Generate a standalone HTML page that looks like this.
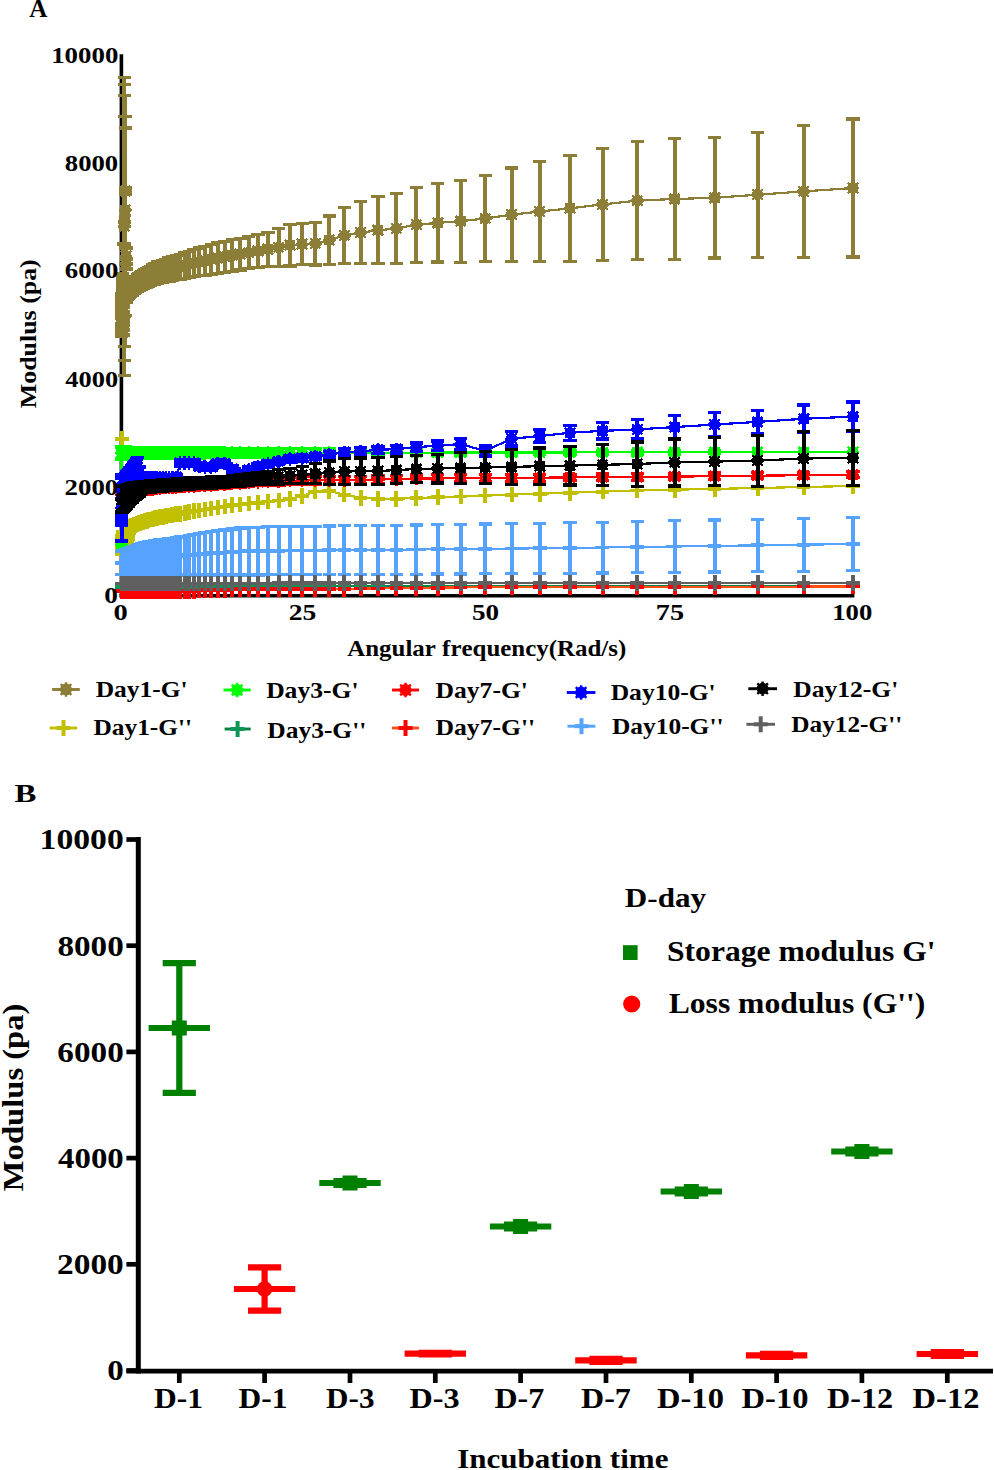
<!DOCTYPE html>
<html><head><meta charset="utf-8"><style>
html,body{margin:0;padding:0;background:#fff;width:994px;height:1470px;overflow:hidden}
svg{display:block}
text{font-family:"Liberation Serif",serif;font-weight:bold;fill:#000;font-kerning:none}
</style></head><body>
<svg width="994" height="1470" viewBox="0 0 994 1470" font-family="'Liberation Serif', serif" font-weight="bold">
<defs>
<g id="ast"><circle r="5.0" stroke-width="1.4"/><path d="M-5.1,-5.1L5.1,5.1M-5.1,5.1L5.1,-5.1M-6.4,0H6.4M0,-6.6V6.6" stroke-width="2.3" fill="none"/></g>
<g id="plus" fill="none"><path d="M-6.8,0H6.8" stroke-width="3.8"/><path d="M0,-7.8V7.8" stroke-width="4"/></g>
<g id="astL"><circle r="5.2" stroke-width="1.4"/><path d="M-5.3,-5.3L5.3,5.3M-5.3,5.3L5.3,-5.3M-6.5,0H6.5M0,-7.3V7.3" stroke-width="2.4" fill="none"/></g>
<g id="plusL" fill="none"><path d="M-7,0H7" stroke-width="4"/><path d="M0,-8V8" stroke-width="4"/></g>
</defs>
<rect width="994" height="1470" fill="#fff"/>
<text x="29.15" y="16.90" font-size="24.4" textLength="18.13" lengthAdjust="spacingAndGlyphs">A</text>
<path d="M121.4,54.2V597.2" stroke="#000" stroke-width="3.6"/>
<path d="M119.6,595.8H854.4" stroke="#000" stroke-width="3.6"/>
<clipPath id="clipA"><rect x="100" y="40" width="780" height="560"/></clipPath>
<g clip-path="url(#clipA)" shape-rendering="crispEdges">
<path d="M121.5,294.0V306.0M121.6,298.0V312.0M121.6,302.0V318.0M121.7,309.0V327.0M121.8,317.0V333.0M121.8,324.0V336.0M121.9,314.0V330.0M122.0,306.0V324.0M122.1,297.0V313.0M122.2,289.0V307.0M122.3,283.0V297.0M122.4,276.0V292.0M122.5,274.0V286.0M122.6,279.0V293.0M122.7,287.0V303.0M122.9,293.0V307.0M123.0,300.0V312.0M123.2,305.0V319.0M123.4,312.0V324.0M123.6,314.0V330.0M123.8,317.0V335.0M124.0,244.0V316.0M124.2,77.5V375.5M124.4,84.7V360.3M124.7,95.4V346.6M125.0,116.2V315.8M125.3,128.0V292.0M125.6,188.0V194.0M126.0,248.0V264.0M126.3,259.0V269.0M126.7,290.0V302.0M127.2,289.0V299.0M127.6,287.0V297.0M128.1,285.9V297.9M128.7,285.2V297.5M129.2,284.5V297.0M129.8,283.8V296.5M130.5,283.0V296.0M131.2,282.2V295.5M131.9,281.3V294.9M132.7,280.3V294.2M133.6,279.4V293.6M134.5,278.4V293.0M135.5,277.3V292.4M136.6,276.2V291.7M137.7,275.0V291.0M138.9,273.6V290.2M140.2,272.3V289.4M141.7,271.5V288.9M143.2,270.6V288.3M144.8,269.6V287.7M146.5,268.5V287.1M148.4,267.4V286.4M150.4,266.2V285.6M152.5,264.9V284.8M154.8,263.5V283.9M157.2,262.0V283.1M159.9,261.1V282.6M162.7,260.1V282.1M165.7,259.1V281.5M169.0,258.0V281.0M172.4,256.8V280.3M176.2,255.5V279.7M180.2,254.1V278.9M184.5,252.7V278.2M189.1,251.2V277.4M194.0,249.6V276.5M199.3,247.9V275.8M205.0,246.1V275.1M211.1,244.2V274.3M217.6,242.6V273.4M224.6,241.1V272.3M232.1,239.7V271.2M240.1,238.1V270.0M248.7,236.4V268.7M258.0,234.7V267.3M267.9,232.3V266.3M278.5,228.4V266.1M289.9,224.4V266.0M302.1,223.4V264.8M315.3,222.1V265.0M329.3,215.9V264.1M344.4,207.5V263.3M360.5,201.8V263.6M377.9,196.8V263.8M396.4,193.2V263.7M416.4,187.3V262.1M437.7,183.8V262.0M460.6,180.2V262.1M485.2,175.6V261.3M511.5,167.9V261.4M539.7,161.5V261.4M570.0,155.3V261.3M602.5,148.5V260.2M637.3,141.7V259.5M674.6,138.6V259.4M714.6,137.6V257.9M757.5,132.4V257.1M803.6,125.8V257.1M852.9,119.0V257.0" stroke="#8C7D37" stroke-width="4.0" fill="none"/>
<path d="M114.9,294.0H128.1M114.9,306.0H128.1M115.0,298.0H128.2M115.0,312.0H128.2M115.0,302.0H128.2M115.0,318.0H128.2M115.1,309.0H128.3M115.1,327.0H128.3M115.2,317.0H128.4M115.2,333.0H128.4M115.2,324.0H128.4M115.2,336.0H128.4M115.3,314.0H128.5M115.3,330.0H128.5M115.4,306.0H128.6M115.4,324.0H128.6M115.5,297.0H128.7M115.5,313.0H128.7M115.6,289.0H128.8M115.6,307.0H128.8M115.7,283.0H128.9M115.7,297.0H128.9M115.8,276.0H129.0M115.8,292.0H129.0M115.9,274.0H129.1M115.9,286.0H129.1M116.0,279.0H129.2M116.0,293.0H129.2M116.1,287.0H129.3M116.1,303.0H129.3M116.3,293.0H129.5M116.3,307.0H129.5M116.4,300.0H129.6M116.4,312.0H129.6M116.6,305.0H129.8M116.6,319.0H129.8M116.8,312.0H130.0M116.8,324.0H130.0M117.0,314.0H130.2M117.0,330.0H130.2M117.2,317.0H130.4M117.2,335.0H130.4M117.4,244.0H130.6M117.4,316.0H130.6M117.6,77.5H130.8M117.6,375.5H130.8M117.8,84.7H131.0M117.8,360.3H131.0M118.1,95.4H131.3M118.1,346.6H131.3M118.4,116.2H131.6M118.4,315.8H131.6M118.7,128.0H131.9M118.7,292.0H131.9M119.0,188.0H132.2M119.0,194.0H132.2M119.4,248.0H132.6M119.4,264.0H132.6M119.7,259.0H132.9M119.7,269.0H132.9M120.1,290.0H133.3M120.1,302.0H133.3M120.6,289.0H133.8M120.6,299.0H133.8M121.0,287.0H134.2M121.0,297.0H134.2M121.5,285.9H134.7M121.5,297.9H134.7M122.1,285.2H135.3M122.1,297.5H135.3M122.6,284.5H135.8M122.6,297.0H135.8M123.2,283.8H136.4M123.2,296.5H136.4M123.9,283.0H137.1M123.9,296.0H137.1M124.6,282.2H137.8M124.6,295.5H137.8M125.3,281.3H138.5M125.3,294.9H138.5M126.1,280.3H139.3M126.1,294.2H139.3M127.0,279.4H140.2M127.0,293.6H140.2M127.9,278.4H141.1M127.9,293.0H141.1M128.9,277.3H142.1M128.9,292.4H142.1M130.0,276.2H143.2M130.0,291.7H143.2M131.1,275.0H144.3M131.1,291.0H144.3M132.3,273.6H145.5M132.3,290.2H145.5M133.6,272.3H146.8M133.6,289.4H146.8M135.1,271.5H148.3M135.1,288.9H148.3M136.6,270.6H149.8M136.6,288.3H149.8M138.2,269.6H151.4M138.2,287.7H151.4M139.9,268.5H153.1M139.9,287.1H153.1M141.8,267.4H155.0M141.8,286.4H155.0M143.8,266.2H157.0M143.8,285.6H157.0M145.9,264.9H159.1M145.9,284.8H159.1M148.2,263.5H161.4M148.2,283.9H161.4M150.6,262.0H163.8M150.6,283.1H163.8M153.3,261.1H166.5M153.3,282.6H166.5M156.1,260.1H169.3M156.1,282.1H169.3M159.1,259.1H172.3M159.1,281.5H172.3M162.4,258.0H175.6M162.4,281.0H175.6M165.8,256.8H179.0M165.8,280.3H179.0M169.6,255.5H182.8M169.6,279.7H182.8M173.6,254.1H186.8M173.6,278.9H186.8M177.9,252.7H191.1M177.9,278.2H191.1M182.5,251.2H195.7M182.5,277.4H195.7M187.4,249.6H200.6M187.4,276.5H200.6M192.7,247.9H205.9M192.7,275.8H205.9M198.4,246.1H211.6M198.4,275.1H211.6M204.5,244.2H217.7M204.5,274.3H217.7M211.0,242.6H224.2M211.0,273.4H224.2M218.0,241.1H231.2M218.0,272.3H231.2M225.5,239.7H238.7M225.5,271.2H238.7M233.5,238.1H246.7M233.5,270.0H246.7M242.1,236.4H255.3M242.1,268.7H255.3M251.4,234.7H264.6M251.4,267.3H264.6M261.3,232.3H274.5M261.3,266.3H274.5M271.9,228.4H285.1M271.9,266.1H285.1M283.3,224.4H296.5M283.3,266.0H296.5M295.5,223.4H308.7M295.5,264.8H308.7M308.7,222.1H321.9M308.7,265.0H321.9M322.7,215.9H335.9M322.7,264.1H335.9M337.8,207.5H351.0M337.8,263.3H351.0M353.9,201.8H367.1M353.9,263.6H367.1M371.3,196.8H384.5M371.3,263.8H384.5M389.8,193.2H403.0M389.8,263.7H403.0M409.8,187.3H423.0M409.8,262.1H423.0M431.1,183.8H444.3M431.1,262.0H444.3M454.0,180.2H467.2M454.0,262.1H467.2M478.6,175.6H491.8M478.6,261.3H491.8M504.9,167.9H518.1M504.9,261.4H518.1M533.1,161.5H546.3M533.1,261.4H546.3M563.4,155.3H576.6M563.4,261.3H576.6M595.9,148.5H609.1M595.9,260.2H609.1M630.7,141.7H643.9M630.7,259.5H643.9M668.0,138.6H681.2M668.0,259.4H681.2M708.0,137.6H721.2M708.0,257.9H721.2M750.9,132.4H764.1M750.9,257.1H764.1M797.0,125.8H810.2M797.0,257.1H810.2M846.3,119.0H859.5M846.3,257.0H859.5" stroke="#8C7D37" stroke-width="3.2" fill="none"/>
<polyline points="121.5,300.0 121.6,305.0 121.6,310.0 121.7,318.0 121.8,325.0 121.8,330.0 121.9,322.0 122.0,315.0 122.1,305.0 122.2,298.0 122.3,290.0 122.4,284.0 122.5,280.0 122.6,286.0 122.7,295.0 122.9,300.0 123.0,306.0 123.2,312.0 123.4,318.0 123.6,322.0 123.8,326.0 124.0,280.0 124.2,226.5 124.4,222.5 124.7,221.0 125.0,216.0 125.3,210.0 125.6,191.0 126.0,256.0 126.3,264.0 126.7,296.0 127.2,294.0 127.6,292.0 128.1,291.9 128.7,291.3 129.2,290.8 129.8,290.2 130.5,289.5 131.2,288.8 131.9,288.1 132.7,287.3 133.6,286.5 134.5,285.7 135.5,284.8 136.6,283.9 137.7,283.0 138.9,281.9 140.2,280.9 141.7,280.2 143.2,279.4 144.8,278.6 146.5,277.8 148.4,276.9 150.4,275.9 152.5,274.8 154.8,273.7 157.2,272.5 159.9,271.8 162.7,271.1 165.7,270.3 169.0,269.5 172.4,268.5 176.2,267.6 180.2,266.5 184.5,265.4 189.1,264.3 194.0,263.0 199.3,261.9 205.0,260.6 211.1,259.3 217.6,258.0 224.6,256.7 232.1,255.4 240.1,254.1 248.7,252.6 258.0,251.0 267.9,249.3 278.5,247.3 289.9,245.2 302.1,244.1 315.3,243.5 329.3,240.0 344.4,235.4 360.5,232.7 377.9,230.3 396.4,228.4 416.4,224.7 437.7,222.9 460.6,221.2 485.2,218.5 511.5,214.7 539.7,211.5 570.0,208.3 602.5,204.4 637.3,200.6 674.6,199.0 714.6,197.8 757.5,194.7 803.6,191.4 852.9,188.0" stroke="#8C7D37" stroke-width="2.2" fill="none"/>
<use href="#ast" x="121.5" y="300.0" fill="#8C7D37" stroke="#8C7D37"/>
<use href="#ast" x="121.6" y="305.0" fill="#8C7D37" stroke="#8C7D37"/>
<use href="#ast" x="121.6" y="310.0" fill="#8C7D37" stroke="#8C7D37"/>
<use href="#ast" x="121.7" y="318.0" fill="#8C7D37" stroke="#8C7D37"/>
<use href="#ast" x="121.8" y="325.0" fill="#8C7D37" stroke="#8C7D37"/>
<use href="#ast" x="121.8" y="330.0" fill="#8C7D37" stroke="#8C7D37"/>
<use href="#ast" x="121.9" y="322.0" fill="#8C7D37" stroke="#8C7D37"/>
<use href="#ast" x="122.0" y="315.0" fill="#8C7D37" stroke="#8C7D37"/>
<use href="#ast" x="122.1" y="305.0" fill="#8C7D37" stroke="#8C7D37"/>
<use href="#ast" x="122.2" y="298.0" fill="#8C7D37" stroke="#8C7D37"/>
<use href="#ast" x="122.3" y="290.0" fill="#8C7D37" stroke="#8C7D37"/>
<use href="#ast" x="122.4" y="284.0" fill="#8C7D37" stroke="#8C7D37"/>
<use href="#ast" x="122.5" y="280.0" fill="#8C7D37" stroke="#8C7D37"/>
<use href="#ast" x="122.6" y="286.0" fill="#8C7D37" stroke="#8C7D37"/>
<use href="#ast" x="122.7" y="295.0" fill="#8C7D37" stroke="#8C7D37"/>
<use href="#ast" x="122.9" y="300.0" fill="#8C7D37" stroke="#8C7D37"/>
<use href="#ast" x="123.0" y="306.0" fill="#8C7D37" stroke="#8C7D37"/>
<use href="#ast" x="123.2" y="312.0" fill="#8C7D37" stroke="#8C7D37"/>
<use href="#ast" x="123.4" y="318.0" fill="#8C7D37" stroke="#8C7D37"/>
<use href="#ast" x="123.6" y="322.0" fill="#8C7D37" stroke="#8C7D37"/>
<use href="#ast" x="123.8" y="326.0" fill="#8C7D37" stroke="#8C7D37"/>
<use href="#ast" x="124.0" y="280.0" fill="#8C7D37" stroke="#8C7D37"/>
<use href="#ast" x="124.2" y="226.5" fill="#8C7D37" stroke="#8C7D37"/>
<use href="#ast" x="124.4" y="222.5" fill="#8C7D37" stroke="#8C7D37"/>
<use href="#ast" x="124.7" y="221.0" fill="#8C7D37" stroke="#8C7D37"/>
<use href="#ast" x="125.0" y="216.0" fill="#8C7D37" stroke="#8C7D37"/>
<use href="#ast" x="125.3" y="210.0" fill="#8C7D37" stroke="#8C7D37"/>
<use href="#ast" x="125.6" y="191.0" fill="#8C7D37" stroke="#8C7D37"/>
<use href="#ast" x="126.0" y="256.0" fill="#8C7D37" stroke="#8C7D37"/>
<use href="#ast" x="126.3" y="264.0" fill="#8C7D37" stroke="#8C7D37"/>
<use href="#ast" x="126.7" y="296.0" fill="#8C7D37" stroke="#8C7D37"/>
<use href="#ast" x="127.2" y="294.0" fill="#8C7D37" stroke="#8C7D37"/>
<use href="#ast" x="127.6" y="292.0" fill="#8C7D37" stroke="#8C7D37"/>
<use href="#ast" x="128.1" y="291.9" fill="#8C7D37" stroke="#8C7D37"/>
<use href="#ast" x="128.7" y="291.3" fill="#8C7D37" stroke="#8C7D37"/>
<use href="#ast" x="129.2" y="290.8" fill="#8C7D37" stroke="#8C7D37"/>
<use href="#ast" x="129.8" y="290.2" fill="#8C7D37" stroke="#8C7D37"/>
<use href="#ast" x="130.5" y="289.5" fill="#8C7D37" stroke="#8C7D37"/>
<use href="#ast" x="131.2" y="288.8" fill="#8C7D37" stroke="#8C7D37"/>
<use href="#ast" x="131.9" y="288.1" fill="#8C7D37" stroke="#8C7D37"/>
<use href="#ast" x="132.7" y="287.3" fill="#8C7D37" stroke="#8C7D37"/>
<use href="#ast" x="133.6" y="286.5" fill="#8C7D37" stroke="#8C7D37"/>
<use href="#ast" x="134.5" y="285.7" fill="#8C7D37" stroke="#8C7D37"/>
<use href="#ast" x="135.5" y="284.8" fill="#8C7D37" stroke="#8C7D37"/>
<use href="#ast" x="136.6" y="283.9" fill="#8C7D37" stroke="#8C7D37"/>
<use href="#ast" x="137.7" y="283.0" fill="#8C7D37" stroke="#8C7D37"/>
<use href="#ast" x="138.9" y="281.9" fill="#8C7D37" stroke="#8C7D37"/>
<use href="#ast" x="140.2" y="280.9" fill="#8C7D37" stroke="#8C7D37"/>
<use href="#ast" x="141.7" y="280.2" fill="#8C7D37" stroke="#8C7D37"/>
<use href="#ast" x="143.2" y="279.4" fill="#8C7D37" stroke="#8C7D37"/>
<use href="#ast" x="144.8" y="278.6" fill="#8C7D37" stroke="#8C7D37"/>
<use href="#ast" x="146.5" y="277.8" fill="#8C7D37" stroke="#8C7D37"/>
<use href="#ast" x="148.4" y="276.9" fill="#8C7D37" stroke="#8C7D37"/>
<use href="#ast" x="150.4" y="275.9" fill="#8C7D37" stroke="#8C7D37"/>
<use href="#ast" x="152.5" y="274.8" fill="#8C7D37" stroke="#8C7D37"/>
<use href="#ast" x="154.8" y="273.7" fill="#8C7D37" stroke="#8C7D37"/>
<use href="#ast" x="157.2" y="272.5" fill="#8C7D37" stroke="#8C7D37"/>
<use href="#ast" x="159.9" y="271.8" fill="#8C7D37" stroke="#8C7D37"/>
<use href="#ast" x="162.7" y="271.1" fill="#8C7D37" stroke="#8C7D37"/>
<use href="#ast" x="165.7" y="270.3" fill="#8C7D37" stroke="#8C7D37"/>
<use href="#ast" x="169.0" y="269.5" fill="#8C7D37" stroke="#8C7D37"/>
<use href="#ast" x="172.4" y="268.5" fill="#8C7D37" stroke="#8C7D37"/>
<use href="#ast" x="176.2" y="267.6" fill="#8C7D37" stroke="#8C7D37"/>
<use href="#ast" x="180.2" y="266.5" fill="#8C7D37" stroke="#8C7D37"/>
<use href="#ast" x="184.5" y="265.4" fill="#8C7D37" stroke="#8C7D37"/>
<use href="#ast" x="189.1" y="264.3" fill="#8C7D37" stroke="#8C7D37"/>
<use href="#ast" x="194.0" y="263.0" fill="#8C7D37" stroke="#8C7D37"/>
<use href="#ast" x="199.3" y="261.9" fill="#8C7D37" stroke="#8C7D37"/>
<use href="#ast" x="205.0" y="260.6" fill="#8C7D37" stroke="#8C7D37"/>
<use href="#ast" x="211.1" y="259.3" fill="#8C7D37" stroke="#8C7D37"/>
<use href="#ast" x="217.6" y="258.0" fill="#8C7D37" stroke="#8C7D37"/>
<use href="#ast" x="224.6" y="256.7" fill="#8C7D37" stroke="#8C7D37"/>
<use href="#ast" x="232.1" y="255.4" fill="#8C7D37" stroke="#8C7D37"/>
<use href="#ast" x="240.1" y="254.1" fill="#8C7D37" stroke="#8C7D37"/>
<use href="#ast" x="248.7" y="252.6" fill="#8C7D37" stroke="#8C7D37"/>
<use href="#ast" x="258.0" y="251.0" fill="#8C7D37" stroke="#8C7D37"/>
<use href="#ast" x="267.9" y="249.3" fill="#8C7D37" stroke="#8C7D37"/>
<use href="#ast" x="278.5" y="247.3" fill="#8C7D37" stroke="#8C7D37"/>
<use href="#ast" x="289.9" y="245.2" fill="#8C7D37" stroke="#8C7D37"/>
<use href="#ast" x="302.1" y="244.1" fill="#8C7D37" stroke="#8C7D37"/>
<use href="#ast" x="315.3" y="243.5" fill="#8C7D37" stroke="#8C7D37"/>
<use href="#ast" x="329.3" y="240.0" fill="#8C7D37" stroke="#8C7D37"/>
<use href="#ast" x="344.4" y="235.4" fill="#8C7D37" stroke="#8C7D37"/>
<use href="#ast" x="360.5" y="232.7" fill="#8C7D37" stroke="#8C7D37"/>
<use href="#ast" x="377.9" y="230.3" fill="#8C7D37" stroke="#8C7D37"/>
<use href="#ast" x="396.4" y="228.4" fill="#8C7D37" stroke="#8C7D37"/>
<use href="#ast" x="416.4" y="224.7" fill="#8C7D37" stroke="#8C7D37"/>
<use href="#ast" x="437.7" y="222.9" fill="#8C7D37" stroke="#8C7D37"/>
<use href="#ast" x="460.6" y="221.2" fill="#8C7D37" stroke="#8C7D37"/>
<use href="#ast" x="485.2" y="218.5" fill="#8C7D37" stroke="#8C7D37"/>
<use href="#ast" x="511.5" y="214.7" fill="#8C7D37" stroke="#8C7D37"/>
<use href="#ast" x="539.7" y="211.5" fill="#8C7D37" stroke="#8C7D37"/>
<use href="#ast" x="570.0" y="208.3" fill="#8C7D37" stroke="#8C7D37"/>
<use href="#ast" x="602.5" y="204.4" fill="#8C7D37" stroke="#8C7D37"/>
<use href="#ast" x="637.3" y="200.6" fill="#8C7D37" stroke="#8C7D37"/>
<use href="#ast" x="674.6" y="199.0" fill="#8C7D37" stroke="#8C7D37"/>
<use href="#ast" x="714.6" y="197.8" fill="#8C7D37" stroke="#8C7D37"/>
<use href="#ast" x="757.5" y="194.7" fill="#8C7D37" stroke="#8C7D37"/>
<use href="#ast" x="803.6" y="191.4" fill="#8C7D37" stroke="#8C7D37"/>
<use href="#ast" x="852.9" y="188.0" fill="#8C7D37" stroke="#8C7D37"/>
<path d="M121.5,542.0V554.0M121.6,541.0V553.0M121.6,539.0V553.0M121.7,538.0V552.0M121.8,538.0V554.0M121.8,537.0V553.0M121.9,536.0V552.0M122.0,537.0V553.0M122.2,537.0V553.0M122.3,536.0V552.0M122.4,535.0V551.0M122.5,533.0V551.0M122.6,532.0V550.0M122.7,533.8V551.3M122.9,533.7V551.0M123.0,533.5V550.6M123.2,533.4V550.3M123.4,533.3V549.9M123.6,533.2V549.5M123.8,533.0V549.1M124.0,532.9V548.6M124.2,532.7V548.1M124.4,532.5V547.6M124.7,532.4V547.1M125.0,532.2V546.5M125.3,531.9V545.8M125.6,531.7V545.1M126.0,531.5V544.4M126.3,531.2V543.6M126.7,530.9V542.7M127.2,530.6V541.8M127.6,530.3V540.8M128.1,529.6V539.4M128.7,527.8V536.7M129.2,525.8V533.8M129.8,523.8V530.7M130.5,523.4V529.3M131.2,523.6V528.6M131.9,523.3V528.3M132.7,523.0V527.9M133.6,522.7V527.6M134.5,522.4V527.2M135.5,522.0V526.8M136.6,521.7V526.4M137.7,521.3V526.0M138.9,520.8V525.5M140.2,520.4V525.0M141.7,519.9V524.4M143.2,519.4V523.9M144.8,519.0V523.4M146.5,518.5V522.8M148.4,518.0V522.3M150.4,517.5V521.6M152.5,516.9V521.0M154.8,516.4V520.3M157.2,515.9V519.7M159.9,515.4V519.1M162.7,514.9V518.5M165.7,514.3V517.8M169.0,513.9V517.2" stroke="#C1C000" stroke-width="4.0" fill="none"/>
<path d="M114.9,542.0H128.1M114.9,554.0H128.1M115.0,541.0H128.2M115.0,553.0H128.2M115.0,539.0H128.2M115.0,553.0H128.2M115.1,538.0H128.3M115.1,552.0H128.3M115.2,538.0H128.4M115.2,554.0H128.4M115.2,537.0H128.4M115.2,553.0H128.4M115.3,536.0H128.5M115.3,552.0H128.5M115.4,537.0H128.6M115.4,553.0H128.6M115.6,537.0H128.8M115.6,553.0H128.8M115.7,536.0H128.9M115.7,552.0H128.9M115.8,535.0H129.0M115.8,551.0H129.0M115.9,533.0H129.1M115.9,551.0H129.1M116.0,532.0H129.2M116.0,550.0H129.2M116.1,533.8H129.3M116.1,551.3H129.3M116.3,533.7H129.5M116.3,551.0H129.5M116.4,533.5H129.6M116.4,550.6H129.6M116.6,533.4H129.8M116.6,550.3H129.8M116.8,533.3H130.0M116.8,549.9H130.0M117.0,533.2H130.2M117.0,549.5H130.2M117.2,533.0H130.4M117.2,549.1H130.4M117.4,532.9H130.6M117.4,548.6H130.6M117.6,532.7H130.8M117.6,548.1H130.8M117.8,532.5H131.0M117.8,547.6H131.0M118.1,532.4H131.3M118.1,547.1H131.3M118.4,532.2H131.6M118.4,546.5H131.6M118.7,531.9H131.9M118.7,545.8H131.9M119.0,531.7H132.2M119.0,545.1H132.2M119.4,531.5H132.6M119.4,544.4H132.6M119.7,531.2H132.9M119.7,543.6H132.9M120.1,530.9H133.3M120.1,542.7H133.3M120.6,530.6H133.8M120.6,541.8H133.8M121.0,530.3H134.2M121.0,540.8H134.2M121.5,529.6H134.7M121.5,539.4H134.7M122.1,527.8H135.3M122.1,536.7H135.3M122.6,525.8H135.8M122.6,533.8H135.8M123.2,523.8H136.4M123.2,530.7H136.4M123.9,523.4H137.1M123.9,529.3H137.1M124.6,523.6H137.8M124.6,528.6H137.8M125.3,523.3H138.5M125.3,528.3H138.5M126.1,523.0H139.3M126.1,527.9H139.3M127.0,522.7H140.2M127.0,527.6H140.2M127.9,522.4H141.1M127.9,527.2H141.1M128.9,522.0H142.1M128.9,526.8H142.1M130.0,521.7H143.2M130.0,526.4H143.2M131.1,521.3H144.3M131.1,526.0H144.3M132.3,520.8H145.5M132.3,525.5H145.5M133.6,520.4H146.8M133.6,525.0H146.8M135.1,519.9H148.3M135.1,524.4H148.3M136.6,519.4H149.8M136.6,523.9H149.8M138.2,519.0H151.4M138.2,523.4H151.4M139.9,518.5H153.1M139.9,522.8H153.1M141.8,518.0H155.0M141.8,522.3H155.0M143.8,517.5H157.0M143.8,521.6H157.0M145.9,516.9H159.1M145.9,521.0H159.1M148.2,516.4H161.4M148.2,520.3H161.4M150.6,515.9H163.8M150.6,519.7H163.8M153.3,515.4H166.5M153.3,519.1H166.5M156.1,514.9H169.3M156.1,518.5H169.3M159.1,514.3H172.3M159.1,517.8H172.3M162.4,513.9H175.6M162.4,517.2H175.6" stroke="#C1C000" stroke-width="3.2" fill="none"/>
<polyline points="121.5,548.0 121.6,547.0 121.6,546.0 121.7,545.0 121.8,546.0 121.8,545.0 121.9,544.0 122.0,545.0 122.1,439.0 122.2,545.0 122.3,544.0 122.4,543.0 122.5,542.0 122.6,541.0 122.7,542.5 122.9,542.3 123.0,542.1 123.2,541.9 123.4,541.6 123.6,541.3 123.8,541.1 124.0,540.8 124.2,540.4 124.4,540.1 124.7,539.7 125.0,539.3 125.3,538.9 125.6,538.4 126.0,537.9 126.3,537.4 126.7,536.8 127.2,536.2 127.6,535.5 128.1,534.5 128.7,532.2 129.2,529.8 129.8,527.2 130.5,526.3 131.2,526.1 131.9,525.8 132.7,525.5 133.6,525.2 134.5,524.8 135.5,524.4 136.6,524.0 137.7,523.6 138.9,523.1 140.2,522.7 141.7,522.1 143.2,521.7 144.8,521.2 146.5,520.7 148.4,520.1 150.4,519.6 152.5,518.9 154.8,518.3 157.2,517.8 159.9,517.3 162.7,516.7 165.7,516.1 169.0,515.5 172.4,515.0 176.2,514.3 180.2,513.7 184.5,513.0 189.1,512.2 194.0,511.3 199.3,510.4 205.0,509.5 211.1,508.5 217.6,507.5 224.6,506.4 232.1,505.3 240.1,504.4 248.7,503.5 258.0,502.6 267.9,501.5 278.5,500.5 289.9,499.0 302.1,496.1 315.3,491.5 329.3,491.1 344.4,494.6 360.5,497.8 377.9,498.7 396.4,498.7 416.4,498.0 437.7,497.2 460.6,496.4 485.2,495.5 511.5,494.6 539.7,493.7 570.0,492.7 602.5,491.6 637.3,490.5 674.6,489.7 714.6,488.9 757.5,488.0 803.6,487.0 852.9,486.0" stroke="#C1C000" stroke-width="2.2" fill="none"/>
<use href="#plus" x="121.5" y="548.0" fill="#C1C000" stroke="#C1C000"/>
<use href="#plus" x="121.6" y="547.0" fill="#C1C000" stroke="#C1C000"/>
<use href="#plus" x="121.6" y="546.0" fill="#C1C000" stroke="#C1C000"/>
<use href="#plus" x="121.7" y="545.0" fill="#C1C000" stroke="#C1C000"/>
<use href="#plus" x="121.8" y="546.0" fill="#C1C000" stroke="#C1C000"/>
<use href="#plus" x="121.8" y="545.0" fill="#C1C000" stroke="#C1C000"/>
<use href="#plus" x="121.9" y="544.0" fill="#C1C000" stroke="#C1C000"/>
<use href="#plus" x="122.0" y="545.0" fill="#C1C000" stroke="#C1C000"/>
<use href="#plus" x="122.1" y="439.0" fill="#C1C000" stroke="#C1C000"/>
<use href="#plus" x="122.2" y="545.0" fill="#C1C000" stroke="#C1C000"/>
<use href="#plus" x="122.3" y="544.0" fill="#C1C000" stroke="#C1C000"/>
<use href="#plus" x="122.4" y="543.0" fill="#C1C000" stroke="#C1C000"/>
<use href="#plus" x="122.5" y="542.0" fill="#C1C000" stroke="#C1C000"/>
<use href="#plus" x="122.6" y="541.0" fill="#C1C000" stroke="#C1C000"/>
<use href="#plus" x="122.7" y="542.5" fill="#C1C000" stroke="#C1C000"/>
<use href="#plus" x="122.9" y="542.3" fill="#C1C000" stroke="#C1C000"/>
<use href="#plus" x="123.0" y="542.1" fill="#C1C000" stroke="#C1C000"/>
<use href="#plus" x="123.2" y="541.9" fill="#C1C000" stroke="#C1C000"/>
<use href="#plus" x="123.4" y="541.6" fill="#C1C000" stroke="#C1C000"/>
<use href="#plus" x="123.6" y="541.3" fill="#C1C000" stroke="#C1C000"/>
<use href="#plus" x="123.8" y="541.1" fill="#C1C000" stroke="#C1C000"/>
<use href="#plus" x="124.0" y="540.8" fill="#C1C000" stroke="#C1C000"/>
<use href="#plus" x="124.2" y="540.4" fill="#C1C000" stroke="#C1C000"/>
<use href="#plus" x="124.4" y="540.1" fill="#C1C000" stroke="#C1C000"/>
<use href="#plus" x="124.7" y="539.7" fill="#C1C000" stroke="#C1C000"/>
<use href="#plus" x="125.0" y="539.3" fill="#C1C000" stroke="#C1C000"/>
<use href="#plus" x="125.3" y="538.9" fill="#C1C000" stroke="#C1C000"/>
<use href="#plus" x="125.6" y="538.4" fill="#C1C000" stroke="#C1C000"/>
<use href="#plus" x="126.0" y="537.9" fill="#C1C000" stroke="#C1C000"/>
<use href="#plus" x="126.3" y="537.4" fill="#C1C000" stroke="#C1C000"/>
<use href="#plus" x="126.7" y="536.8" fill="#C1C000" stroke="#C1C000"/>
<use href="#plus" x="127.2" y="536.2" fill="#C1C000" stroke="#C1C000"/>
<use href="#plus" x="127.6" y="535.5" fill="#C1C000" stroke="#C1C000"/>
<use href="#plus" x="128.1" y="534.5" fill="#C1C000" stroke="#C1C000"/>
<use href="#plus" x="128.7" y="532.2" fill="#C1C000" stroke="#C1C000"/>
<use href="#plus" x="129.2" y="529.8" fill="#C1C000" stroke="#C1C000"/>
<use href="#plus" x="129.8" y="527.2" fill="#C1C000" stroke="#C1C000"/>
<use href="#plus" x="130.5" y="526.3" fill="#C1C000" stroke="#C1C000"/>
<use href="#plus" x="131.2" y="526.1" fill="#C1C000" stroke="#C1C000"/>
<use href="#plus" x="131.9" y="525.8" fill="#C1C000" stroke="#C1C000"/>
<use href="#plus" x="132.7" y="525.5" fill="#C1C000" stroke="#C1C000"/>
<use href="#plus" x="133.6" y="525.2" fill="#C1C000" stroke="#C1C000"/>
<use href="#plus" x="134.5" y="524.8" fill="#C1C000" stroke="#C1C000"/>
<use href="#plus" x="135.5" y="524.4" fill="#C1C000" stroke="#C1C000"/>
<use href="#plus" x="136.6" y="524.0" fill="#C1C000" stroke="#C1C000"/>
<use href="#plus" x="137.7" y="523.6" fill="#C1C000" stroke="#C1C000"/>
<use href="#plus" x="138.9" y="523.1" fill="#C1C000" stroke="#C1C000"/>
<use href="#plus" x="140.2" y="522.7" fill="#C1C000" stroke="#C1C000"/>
<use href="#plus" x="141.7" y="522.1" fill="#C1C000" stroke="#C1C000"/>
<use href="#plus" x="143.2" y="521.7" fill="#C1C000" stroke="#C1C000"/>
<use href="#plus" x="144.8" y="521.2" fill="#C1C000" stroke="#C1C000"/>
<use href="#plus" x="146.5" y="520.7" fill="#C1C000" stroke="#C1C000"/>
<use href="#plus" x="148.4" y="520.1" fill="#C1C000" stroke="#C1C000"/>
<use href="#plus" x="150.4" y="519.6" fill="#C1C000" stroke="#C1C000"/>
<use href="#plus" x="152.5" y="518.9" fill="#C1C000" stroke="#C1C000"/>
<use href="#plus" x="154.8" y="518.3" fill="#C1C000" stroke="#C1C000"/>
<use href="#plus" x="157.2" y="517.8" fill="#C1C000" stroke="#C1C000"/>
<use href="#plus" x="159.9" y="517.3" fill="#C1C000" stroke="#C1C000"/>
<use href="#plus" x="162.7" y="516.7" fill="#C1C000" stroke="#C1C000"/>
<use href="#plus" x="165.7" y="516.1" fill="#C1C000" stroke="#C1C000"/>
<use href="#plus" x="169.0" y="515.5" fill="#C1C000" stroke="#C1C000"/>
<use href="#plus" x="172.4" y="515.0" fill="#C1C000" stroke="#C1C000"/>
<use href="#plus" x="176.2" y="514.3" fill="#C1C000" stroke="#C1C000"/>
<use href="#plus" x="180.2" y="513.7" fill="#C1C000" stroke="#C1C000"/>
<use href="#plus" x="184.5" y="513.0" fill="#C1C000" stroke="#C1C000"/>
<use href="#plus" x="189.1" y="512.2" fill="#C1C000" stroke="#C1C000"/>
<use href="#plus" x="194.0" y="511.3" fill="#C1C000" stroke="#C1C000"/>
<use href="#plus" x="199.3" y="510.4" fill="#C1C000" stroke="#C1C000"/>
<use href="#plus" x="205.0" y="509.5" fill="#C1C000" stroke="#C1C000"/>
<use href="#plus" x="211.1" y="508.5" fill="#C1C000" stroke="#C1C000"/>
<use href="#plus" x="217.6" y="507.5" fill="#C1C000" stroke="#C1C000"/>
<use href="#plus" x="224.6" y="506.4" fill="#C1C000" stroke="#C1C000"/>
<use href="#plus" x="232.1" y="505.3" fill="#C1C000" stroke="#C1C000"/>
<use href="#plus" x="240.1" y="504.4" fill="#C1C000" stroke="#C1C000"/>
<use href="#plus" x="248.7" y="503.5" fill="#C1C000" stroke="#C1C000"/>
<use href="#plus" x="258.0" y="502.6" fill="#C1C000" stroke="#C1C000"/>
<use href="#plus" x="267.9" y="501.5" fill="#C1C000" stroke="#C1C000"/>
<use href="#plus" x="278.5" y="500.5" fill="#C1C000" stroke="#C1C000"/>
<use href="#plus" x="289.9" y="499.0" fill="#C1C000" stroke="#C1C000"/>
<use href="#plus" x="302.1" y="496.1" fill="#C1C000" stroke="#C1C000"/>
<use href="#plus" x="315.3" y="491.5" fill="#C1C000" stroke="#C1C000"/>
<use href="#plus" x="329.3" y="491.1" fill="#C1C000" stroke="#C1C000"/>
<use href="#plus" x="344.4" y="494.6" fill="#C1C000" stroke="#C1C000"/>
<use href="#plus" x="360.5" y="497.8" fill="#C1C000" stroke="#C1C000"/>
<use href="#plus" x="377.9" y="498.7" fill="#C1C000" stroke="#C1C000"/>
<use href="#plus" x="396.4" y="498.7" fill="#C1C000" stroke="#C1C000"/>
<use href="#plus" x="416.4" y="498.0" fill="#C1C000" stroke="#C1C000"/>
<use href="#plus" x="437.7" y="497.2" fill="#C1C000" stroke="#C1C000"/>
<use href="#plus" x="460.6" y="496.4" fill="#C1C000" stroke="#C1C000"/>
<use href="#plus" x="485.2" y="495.5" fill="#C1C000" stroke="#C1C000"/>
<use href="#plus" x="511.5" y="494.6" fill="#C1C000" stroke="#C1C000"/>
<use href="#plus" x="539.7" y="493.7" fill="#C1C000" stroke="#C1C000"/>
<use href="#plus" x="570.0" y="492.7" fill="#C1C000" stroke="#C1C000"/>
<use href="#plus" x="602.5" y="491.6" fill="#C1C000" stroke="#C1C000"/>
<use href="#plus" x="637.3" y="490.5" fill="#C1C000" stroke="#C1C000"/>
<use href="#plus" x="674.6" y="489.7" fill="#C1C000" stroke="#C1C000"/>
<use href="#plus" x="714.6" y="488.9" fill="#C1C000" stroke="#C1C000"/>
<use href="#plus" x="757.5" y="488.0" fill="#C1C000" stroke="#C1C000"/>
<use href="#plus" x="803.6" y="487.0" fill="#C1C000" stroke="#C1C000"/>
<use href="#plus" x="852.9" y="486.0" fill="#C1C000" stroke="#C1C000"/>
<path d="M121.6,447.0V459.0M121.6,447.0V459.0M121.7,447.0V459.0M121.8,447.0V459.0M121.8,447.0V459.0M121.9,447.0V459.0M122.0,447.0V459.0M122.1,447.0V459.0M122.2,447.0V459.0M122.3,447.0V459.0M122.4,447.0V459.0M122.5,447.0V459.0M122.6,447.0V459.0M122.7,447.0V459.0M122.9,447.0V459.0M123.0,447.0V459.0M123.2,447.0V459.0M123.4,447.0V459.0M123.6,447.0V459.0M123.8,447.0V459.0M124.0,447.0V459.0M124.2,447.0V459.0M124.4,447.0V459.0M124.7,447.0V458.9M125.0,447.0V458.9M125.3,447.0V458.9M125.6,447.1V458.9M126.0,447.1V458.9M126.3,447.1V458.9M126.7,447.1V458.9M127.2,447.1V458.9M127.6,447.1V458.9M128.1,447.1V458.9M128.7,447.1V458.9M129.2,447.1V458.9M129.8,447.1V458.9M130.5,447.1V458.9M131.2,447.1V458.9M131.9,447.1V458.8M132.7,447.1V458.8M133.6,447.1V458.8M134.5,447.2V458.8M135.5,447.2V458.8M136.6,447.2V458.8M137.7,447.2V458.8M138.9,447.2V458.7M140.2,447.2V458.7M141.7,447.2V458.7M143.2,447.3V458.7M144.8,447.3V458.7M146.5,447.3V458.6M148.4,447.3V458.6M150.4,447.3V458.6M152.5,447.4V458.6M154.8,447.4V458.5M157.2,447.4V458.5M159.9,447.4V458.5M162.7,447.5V458.4M165.7,447.5V458.4M169.0,447.5V458.3M172.4,447.6V458.3M176.2,447.6V458.2M180.2,447.7V458.2M184.5,447.7V458.1M189.1,447.8V458.0M194.0,447.8V458.0M199.3,447.9V457.9M205.0,447.9V457.8M211.1,448.0V457.8M217.6,448.0V457.7M224.6,448.1V457.6M232.1,448.2V457.5M240.1,448.2V457.4M248.7,448.3V457.3M258.0,448.4V457.2M267.9,448.5V457.1M278.5,448.6V457.0M289.9,448.7V456.9M302.1,448.8V456.7M315.3,448.9V456.6M329.3,449.0V456.4M344.4,449.1V456.3M360.5,449.3V456.1M377.9,449.4V455.9M396.4,449.6V455.7M416.4,449.7V455.5M437.7,449.7V455.4M460.6,449.8V455.3M485.2,449.9V455.1M511.5,450.0V455.0M539.7,450.0V454.8M570.0,450.1V454.6M602.5,450.2V454.4M637.3,450.3V454.2M674.6,450.5V454.0M714.6,450.6V453.8" stroke="#00FF00" stroke-width="4.0" fill="none"/>
<path d="M115.0,447.0H128.2M115.0,459.0H128.2M115.0,447.0H128.2M115.0,459.0H128.2M115.1,447.0H128.3M115.1,459.0H128.3M115.2,447.0H128.4M115.2,459.0H128.4M115.2,447.0H128.4M115.2,459.0H128.4M115.3,447.0H128.5M115.3,459.0H128.5M115.4,447.0H128.6M115.4,459.0H128.6M115.5,447.0H128.7M115.5,459.0H128.7M115.6,447.0H128.8M115.6,459.0H128.8M115.7,447.0H128.9M115.7,459.0H128.9M115.8,447.0H129.0M115.8,459.0H129.0M115.9,447.0H129.1M115.9,459.0H129.1M116.0,447.0H129.2M116.0,459.0H129.2M116.1,447.0H129.3M116.1,459.0H129.3M116.3,447.0H129.5M116.3,459.0H129.5M116.4,447.0H129.6M116.4,459.0H129.6M116.6,447.0H129.8M116.6,459.0H129.8M116.8,447.0H130.0M116.8,459.0H130.0M117.0,447.0H130.2M117.0,459.0H130.2M117.2,447.0H130.4M117.2,459.0H130.4M117.4,447.0H130.6M117.4,459.0H130.6M117.6,447.0H130.8M117.6,459.0H130.8M117.8,447.0H131.0M117.8,459.0H131.0M118.1,447.0H131.3M118.1,458.9H131.3M118.4,447.0H131.6M118.4,458.9H131.6M118.7,447.0H131.9M118.7,458.9H131.9M119.0,447.1H132.2M119.0,458.9H132.2M119.4,447.1H132.6M119.4,458.9H132.6M119.7,447.1H132.9M119.7,458.9H132.9M120.1,447.1H133.3M120.1,458.9H133.3M120.6,447.1H133.8M120.6,458.9H133.8M121.0,447.1H134.2M121.0,458.9H134.2M121.5,447.1H134.7M121.5,458.9H134.7M122.1,447.1H135.3M122.1,458.9H135.3M122.6,447.1H135.8M122.6,458.9H135.8M123.2,447.1H136.4M123.2,458.9H136.4M123.9,447.1H137.1M123.9,458.9H137.1M124.6,447.1H137.8M124.6,458.9H137.8M125.3,447.1H138.5M125.3,458.8H138.5M126.1,447.1H139.3M126.1,458.8H139.3M127.0,447.1H140.2M127.0,458.8H140.2M127.9,447.2H141.1M127.9,458.8H141.1M128.9,447.2H142.1M128.9,458.8H142.1M130.0,447.2H143.2M130.0,458.8H143.2M131.1,447.2H144.3M131.1,458.8H144.3M132.3,447.2H145.5M132.3,458.7H145.5M133.6,447.2H146.8M133.6,458.7H146.8M135.1,447.2H148.3M135.1,458.7H148.3M136.6,447.3H149.8M136.6,458.7H149.8M138.2,447.3H151.4M138.2,458.7H151.4M139.9,447.3H153.1M139.9,458.6H153.1M141.8,447.3H155.0M141.8,458.6H155.0M143.8,447.3H157.0M143.8,458.6H157.0M145.9,447.4H159.1M145.9,458.6H159.1M148.2,447.4H161.4M148.2,458.5H161.4M150.6,447.4H163.8M150.6,458.5H163.8M153.3,447.4H166.5M153.3,458.5H166.5M156.1,447.5H169.3M156.1,458.4H169.3M159.1,447.5H172.3M159.1,458.4H172.3M162.4,447.5H175.6M162.4,458.3H175.6M165.8,447.6H179.0M165.8,458.3H179.0M169.6,447.6H182.8M169.6,458.2H182.8M173.6,447.7H186.8M173.6,458.2H186.8M177.9,447.7H191.1M177.9,458.1H191.1M182.5,447.8H195.7M182.5,458.0H195.7M187.4,447.8H200.6M187.4,458.0H200.6M192.7,447.9H205.9M192.7,457.9H205.9M198.4,447.9H211.6M198.4,457.8H211.6M204.5,448.0H217.7M204.5,457.8H217.7M211.0,448.0H224.2M211.0,457.7H224.2M218.0,448.1H231.2M218.0,457.6H231.2M225.5,448.2H238.7M225.5,457.5H238.7M233.5,448.2H246.7M233.5,457.4H246.7M242.1,448.3H255.3M242.1,457.3H255.3M251.4,448.4H264.6M251.4,457.2H264.6M261.3,448.5H274.5M261.3,457.1H274.5M271.9,448.6H285.1M271.9,457.0H285.1M283.3,448.7H296.5M283.3,456.9H296.5M295.5,448.8H308.7M295.5,456.7H308.7M308.7,448.9H321.9M308.7,456.6H321.9M322.7,449.0H335.9M322.7,456.4H335.9M337.8,449.1H351.0M337.8,456.3H351.0M353.9,449.3H367.1M353.9,456.1H367.1M371.3,449.4H384.5M371.3,455.9H384.5M389.8,449.6H403.0M389.8,455.7H403.0M409.8,449.7H423.0M409.8,455.5H423.0M431.1,449.7H444.3M431.1,455.4H444.3M454.0,449.8H467.2M454.0,455.3H467.2M478.6,449.9H491.8M478.6,455.1H491.8M504.9,450.0H518.1M504.9,455.0H518.1M533.1,450.0H546.3M533.1,454.8H546.3M563.4,450.1H576.6M563.4,454.6H576.6M595.9,450.2H609.1M595.9,454.4H609.1M630.7,450.3H643.9M630.7,454.2H643.9M668.0,450.5H681.2M668.0,454.0H681.2M708.0,450.6H721.2M708.0,453.8H721.2" stroke="#00FF00" stroke-width="3.2" fill="none"/>
<polyline points="121.5,545.0 121.6,453.0 121.6,453.0 121.7,453.0 121.8,453.0 121.8,453.0 121.9,453.0 122.0,453.0 122.1,453.0 122.2,453.0 122.3,453.0 122.4,453.0 122.5,453.0 122.6,453.0 122.7,453.0 122.9,453.0 123.0,453.0 123.2,453.0 123.4,453.0 123.6,453.0 123.8,453.0 124.0,453.0 124.2,453.0 124.4,453.0 124.7,453.0 125.0,453.0 125.3,453.0 125.6,453.0 126.0,453.0 126.3,453.0 126.7,453.0 127.2,453.0 127.6,453.0 128.1,453.0 128.7,453.0 129.2,453.0 129.8,453.0 130.5,453.0 131.2,453.0 131.9,453.0 132.7,453.0 133.6,453.0 134.5,453.0 135.5,453.0 136.6,453.0 137.7,453.0 138.9,453.0 140.2,453.0 141.7,453.0 143.2,453.0 144.8,453.0 146.5,453.0 148.4,453.0 150.4,453.0 152.5,453.0 154.8,453.0 157.2,453.0 159.9,452.9 162.7,452.9 165.7,452.9 169.0,452.9 172.4,452.9 176.2,452.9 180.2,452.9 184.5,452.9 189.1,452.9 194.0,452.9 199.3,452.9 205.0,452.9 211.1,452.9 217.6,452.9 224.6,452.9 232.1,452.8 240.1,452.8 248.7,452.8 258.0,452.8 267.9,452.8 278.5,452.8 289.9,452.8 302.1,452.8 315.3,452.7 329.3,452.7 344.4,452.7 360.5,452.7 377.9,452.6 396.4,452.6 416.4,452.6 437.7,452.6 460.6,452.5 485.2,452.5 511.5,452.5 539.7,452.4 570.0,452.4 602.5,452.3 637.3,452.3 674.6,452.2 714.6,452.2 757.5,452.1 803.6,452.1 852.9,452.0" stroke="#00FF00" stroke-width="2.2" fill="none"/>
<use href="#ast" x="121.5" y="545.0" fill="#00FF00" stroke="#00FF00"/>
<use href="#ast" x="121.6" y="453.0" fill="#00FF00" stroke="#00FF00"/>
<use href="#ast" x="121.6" y="453.0" fill="#00FF00" stroke="#00FF00"/>
<use href="#ast" x="121.7" y="453.0" fill="#00FF00" stroke="#00FF00"/>
<use href="#ast" x="121.8" y="453.0" fill="#00FF00" stroke="#00FF00"/>
<use href="#ast" x="121.8" y="453.0" fill="#00FF00" stroke="#00FF00"/>
<use href="#ast" x="121.9" y="453.0" fill="#00FF00" stroke="#00FF00"/>
<use href="#ast" x="122.0" y="453.0" fill="#00FF00" stroke="#00FF00"/>
<use href="#ast" x="122.1" y="453.0" fill="#00FF00" stroke="#00FF00"/>
<use href="#ast" x="122.2" y="453.0" fill="#00FF00" stroke="#00FF00"/>
<use href="#ast" x="122.3" y="453.0" fill="#00FF00" stroke="#00FF00"/>
<use href="#ast" x="122.4" y="453.0" fill="#00FF00" stroke="#00FF00"/>
<use href="#ast" x="122.5" y="453.0" fill="#00FF00" stroke="#00FF00"/>
<use href="#ast" x="122.6" y="453.0" fill="#00FF00" stroke="#00FF00"/>
<use href="#ast" x="122.7" y="453.0" fill="#00FF00" stroke="#00FF00"/>
<use href="#ast" x="122.9" y="453.0" fill="#00FF00" stroke="#00FF00"/>
<use href="#ast" x="123.0" y="453.0" fill="#00FF00" stroke="#00FF00"/>
<use href="#ast" x="123.2" y="453.0" fill="#00FF00" stroke="#00FF00"/>
<use href="#ast" x="123.4" y="453.0" fill="#00FF00" stroke="#00FF00"/>
<use href="#ast" x="123.6" y="453.0" fill="#00FF00" stroke="#00FF00"/>
<use href="#ast" x="123.8" y="453.0" fill="#00FF00" stroke="#00FF00"/>
<use href="#ast" x="124.0" y="453.0" fill="#00FF00" stroke="#00FF00"/>
<use href="#ast" x="124.2" y="453.0" fill="#00FF00" stroke="#00FF00"/>
<use href="#ast" x="124.4" y="453.0" fill="#00FF00" stroke="#00FF00"/>
<use href="#ast" x="124.7" y="453.0" fill="#00FF00" stroke="#00FF00"/>
<use href="#ast" x="125.0" y="453.0" fill="#00FF00" stroke="#00FF00"/>
<use href="#ast" x="125.3" y="453.0" fill="#00FF00" stroke="#00FF00"/>
<use href="#ast" x="125.6" y="453.0" fill="#00FF00" stroke="#00FF00"/>
<use href="#ast" x="126.0" y="453.0" fill="#00FF00" stroke="#00FF00"/>
<use href="#ast" x="126.3" y="453.0" fill="#00FF00" stroke="#00FF00"/>
<use href="#ast" x="126.7" y="453.0" fill="#00FF00" stroke="#00FF00"/>
<use href="#ast" x="127.2" y="453.0" fill="#00FF00" stroke="#00FF00"/>
<use href="#ast" x="127.6" y="453.0" fill="#00FF00" stroke="#00FF00"/>
<use href="#ast" x="128.1" y="453.0" fill="#00FF00" stroke="#00FF00"/>
<use href="#ast" x="128.7" y="453.0" fill="#00FF00" stroke="#00FF00"/>
<use href="#ast" x="129.2" y="453.0" fill="#00FF00" stroke="#00FF00"/>
<use href="#ast" x="129.8" y="453.0" fill="#00FF00" stroke="#00FF00"/>
<use href="#ast" x="130.5" y="453.0" fill="#00FF00" stroke="#00FF00"/>
<use href="#ast" x="131.2" y="453.0" fill="#00FF00" stroke="#00FF00"/>
<use href="#ast" x="131.9" y="453.0" fill="#00FF00" stroke="#00FF00"/>
<use href="#ast" x="132.7" y="453.0" fill="#00FF00" stroke="#00FF00"/>
<use href="#ast" x="133.6" y="453.0" fill="#00FF00" stroke="#00FF00"/>
<use href="#ast" x="134.5" y="453.0" fill="#00FF00" stroke="#00FF00"/>
<use href="#ast" x="135.5" y="453.0" fill="#00FF00" stroke="#00FF00"/>
<use href="#ast" x="136.6" y="453.0" fill="#00FF00" stroke="#00FF00"/>
<use href="#ast" x="137.7" y="453.0" fill="#00FF00" stroke="#00FF00"/>
<use href="#ast" x="138.9" y="453.0" fill="#00FF00" stroke="#00FF00"/>
<use href="#ast" x="140.2" y="453.0" fill="#00FF00" stroke="#00FF00"/>
<use href="#ast" x="141.7" y="453.0" fill="#00FF00" stroke="#00FF00"/>
<use href="#ast" x="143.2" y="453.0" fill="#00FF00" stroke="#00FF00"/>
<use href="#ast" x="144.8" y="453.0" fill="#00FF00" stroke="#00FF00"/>
<use href="#ast" x="146.5" y="453.0" fill="#00FF00" stroke="#00FF00"/>
<use href="#ast" x="148.4" y="453.0" fill="#00FF00" stroke="#00FF00"/>
<use href="#ast" x="150.4" y="453.0" fill="#00FF00" stroke="#00FF00"/>
<use href="#ast" x="152.5" y="453.0" fill="#00FF00" stroke="#00FF00"/>
<use href="#ast" x="154.8" y="453.0" fill="#00FF00" stroke="#00FF00"/>
<use href="#ast" x="157.2" y="453.0" fill="#00FF00" stroke="#00FF00"/>
<use href="#ast" x="159.9" y="452.9" fill="#00FF00" stroke="#00FF00"/>
<use href="#ast" x="162.7" y="452.9" fill="#00FF00" stroke="#00FF00"/>
<use href="#ast" x="165.7" y="452.9" fill="#00FF00" stroke="#00FF00"/>
<use href="#ast" x="169.0" y="452.9" fill="#00FF00" stroke="#00FF00"/>
<use href="#ast" x="172.4" y="452.9" fill="#00FF00" stroke="#00FF00"/>
<use href="#ast" x="176.2" y="452.9" fill="#00FF00" stroke="#00FF00"/>
<use href="#ast" x="180.2" y="452.9" fill="#00FF00" stroke="#00FF00"/>
<use href="#ast" x="184.5" y="452.9" fill="#00FF00" stroke="#00FF00"/>
<use href="#ast" x="189.1" y="452.9" fill="#00FF00" stroke="#00FF00"/>
<use href="#ast" x="194.0" y="452.9" fill="#00FF00" stroke="#00FF00"/>
<use href="#ast" x="199.3" y="452.9" fill="#00FF00" stroke="#00FF00"/>
<use href="#ast" x="205.0" y="452.9" fill="#00FF00" stroke="#00FF00"/>
<use href="#ast" x="211.1" y="452.9" fill="#00FF00" stroke="#00FF00"/>
<use href="#ast" x="217.6" y="452.9" fill="#00FF00" stroke="#00FF00"/>
<use href="#ast" x="224.6" y="452.9" fill="#00FF00" stroke="#00FF00"/>
<use href="#ast" x="232.1" y="452.8" fill="#00FF00" stroke="#00FF00"/>
<use href="#ast" x="240.1" y="452.8" fill="#00FF00" stroke="#00FF00"/>
<use href="#ast" x="248.7" y="452.8" fill="#00FF00" stroke="#00FF00"/>
<use href="#ast" x="258.0" y="452.8" fill="#00FF00" stroke="#00FF00"/>
<use href="#ast" x="267.9" y="452.8" fill="#00FF00" stroke="#00FF00"/>
<use href="#ast" x="278.5" y="452.8" fill="#00FF00" stroke="#00FF00"/>
<use href="#ast" x="289.9" y="452.8" fill="#00FF00" stroke="#00FF00"/>
<use href="#ast" x="302.1" y="452.8" fill="#00FF00" stroke="#00FF00"/>
<use href="#ast" x="315.3" y="452.7" fill="#00FF00" stroke="#00FF00"/>
<use href="#ast" x="329.3" y="452.7" fill="#00FF00" stroke="#00FF00"/>
<use href="#ast" x="344.4" y="452.7" fill="#00FF00" stroke="#00FF00"/>
<use href="#ast" x="360.5" y="452.7" fill="#00FF00" stroke="#00FF00"/>
<use href="#ast" x="377.9" y="452.6" fill="#00FF00" stroke="#00FF00"/>
<use href="#ast" x="396.4" y="452.6" fill="#00FF00" stroke="#00FF00"/>
<use href="#ast" x="416.4" y="452.6" fill="#00FF00" stroke="#00FF00"/>
<use href="#ast" x="437.7" y="452.6" fill="#00FF00" stroke="#00FF00"/>
<use href="#ast" x="460.6" y="452.5" fill="#00FF00" stroke="#00FF00"/>
<use href="#ast" x="485.2" y="452.5" fill="#00FF00" stroke="#00FF00"/>
<use href="#ast" x="511.5" y="452.5" fill="#00FF00" stroke="#00FF00"/>
<use href="#ast" x="539.7" y="452.4" fill="#00FF00" stroke="#00FF00"/>
<use href="#ast" x="570.0" y="452.4" fill="#00FF00" stroke="#00FF00"/>
<use href="#ast" x="602.5" y="452.3" fill="#00FF00" stroke="#00FF00"/>
<use href="#ast" x="637.3" y="452.3" fill="#00FF00" stroke="#00FF00"/>
<use href="#ast" x="674.6" y="452.2" fill="#00FF00" stroke="#00FF00"/>
<use href="#ast" x="714.6" y="452.2" fill="#00FF00" stroke="#00FF00"/>
<use href="#ast" x="757.5" y="452.1" fill="#00FF00" stroke="#00FF00"/>
<use href="#ast" x="803.6" y="452.1" fill="#00FF00" stroke="#00FF00"/>
<use href="#ast" x="852.9" y="452.0" fill="#00FF00" stroke="#00FF00"/>
<path d="M121.5,584.0V588.0M121.6,584.0V588.0M121.6,584.0V588.0M121.7,584.0V588.0M121.8,584.0V588.0M121.8,584.0V588.0M121.9,584.0V588.0M122.0,584.0V588.0M122.1,584.0V588.0M122.2,584.0V588.0M122.3,584.0V588.0M122.4,584.0V588.0M122.5,584.0V588.0M122.6,584.0V588.0M122.7,584.0V588.0M122.9,584.0V588.0M123.0,584.0V588.0M123.2,584.0V588.0M123.4,584.0V588.0M123.6,584.0V588.0M123.8,584.0V588.0M124.0,584.0V588.0M124.2,584.0V588.0M124.4,584.0V588.0M124.7,584.0V588.0M125.0,584.0V588.0M125.3,584.0V588.0M125.6,584.0V588.0M126.0,584.0V588.0M126.3,584.0V588.0M126.7,584.0V588.0M127.2,584.0V588.0M127.6,584.0V588.0M128.1,584.0V588.0M128.7,584.0V588.0M129.2,584.0V588.0M129.8,584.0V588.0M130.5,584.0V588.0M131.2,584.0V588.0M131.9,584.0V588.0M132.7,584.0V588.0M133.6,584.0V588.0M134.5,584.0V588.0M135.5,584.0V588.0M136.6,584.0V588.0M137.7,584.0V588.0M138.9,584.0V588.0M140.2,584.0V588.0M141.7,584.0V588.0M143.2,584.0V588.0M144.8,584.0V588.0M146.5,584.0V588.0M148.4,584.0V588.0M150.4,584.0V588.0M152.5,584.0V588.0M154.8,584.0V588.0M157.2,584.0V588.0M159.9,584.1V587.9M162.7,584.1V587.9M165.7,584.1V587.9M169.0,584.1V587.9M172.4,584.1V587.9M176.2,584.1V587.9M180.2,584.1V587.9M184.5,584.1V587.9M189.1,584.1V587.9M194.0,584.1V587.9M199.3,584.1V587.9M205.0,584.1V587.9M211.1,584.1V587.9M217.6,584.1V587.9M224.6,584.1V587.9M232.1,584.2V587.8M240.1,584.2V587.8M248.7,584.2V587.8M258.0,584.2V587.8M267.9,584.2V587.8M278.5,584.2V587.8M289.9,584.2V587.8M302.1,584.2V587.8M315.3,584.3V587.7M329.3,584.3V587.7M344.4,584.3V587.7M360.5,584.3V587.7M377.9,584.4V587.6M396.4,584.4V587.6" stroke="#0E9558" stroke-width="4.0" fill="none"/>
<path d="M114.9,584.0H128.1M114.9,588.0H128.1M115.0,584.0H128.2M115.0,588.0H128.2M115.0,584.0H128.2M115.0,588.0H128.2M115.1,584.0H128.3M115.1,588.0H128.3M115.2,584.0H128.4M115.2,588.0H128.4M115.2,584.0H128.4M115.2,588.0H128.4M115.3,584.0H128.5M115.3,588.0H128.5M115.4,584.0H128.6M115.4,588.0H128.6M115.5,584.0H128.7M115.5,588.0H128.7M115.6,584.0H128.8M115.6,588.0H128.8M115.7,584.0H128.9M115.7,588.0H128.9M115.8,584.0H129.0M115.8,588.0H129.0M115.9,584.0H129.1M115.9,588.0H129.1M116.0,584.0H129.2M116.0,588.0H129.2M116.1,584.0H129.3M116.1,588.0H129.3M116.3,584.0H129.5M116.3,588.0H129.5M116.4,584.0H129.6M116.4,588.0H129.6M116.6,584.0H129.8M116.6,588.0H129.8M116.8,584.0H130.0M116.8,588.0H130.0M117.0,584.0H130.2M117.0,588.0H130.2M117.2,584.0H130.4M117.2,588.0H130.4M117.4,584.0H130.6M117.4,588.0H130.6M117.6,584.0H130.8M117.6,588.0H130.8M117.8,584.0H131.0M117.8,588.0H131.0M118.1,584.0H131.3M118.1,588.0H131.3M118.4,584.0H131.6M118.4,588.0H131.6M118.7,584.0H131.9M118.7,588.0H131.9M119.0,584.0H132.2M119.0,588.0H132.2M119.4,584.0H132.6M119.4,588.0H132.6M119.7,584.0H132.9M119.7,588.0H132.9M120.1,584.0H133.3M120.1,588.0H133.3M120.6,584.0H133.8M120.6,588.0H133.8M121.0,584.0H134.2M121.0,588.0H134.2M121.5,584.0H134.7M121.5,588.0H134.7M122.1,584.0H135.3M122.1,588.0H135.3M122.6,584.0H135.8M122.6,588.0H135.8M123.2,584.0H136.4M123.2,588.0H136.4M123.9,584.0H137.1M123.9,588.0H137.1M124.6,584.0H137.8M124.6,588.0H137.8M125.3,584.0H138.5M125.3,588.0H138.5M126.1,584.0H139.3M126.1,588.0H139.3M127.0,584.0H140.2M127.0,588.0H140.2M127.9,584.0H141.1M127.9,588.0H141.1M128.9,584.0H142.1M128.9,588.0H142.1M130.0,584.0H143.2M130.0,588.0H143.2M131.1,584.0H144.3M131.1,588.0H144.3M132.3,584.0H145.5M132.3,588.0H145.5M133.6,584.0H146.8M133.6,588.0H146.8M135.1,584.0H148.3M135.1,588.0H148.3M136.6,584.0H149.8M136.6,588.0H149.8M138.2,584.0H151.4M138.2,588.0H151.4M139.9,584.0H153.1M139.9,588.0H153.1M141.8,584.0H155.0M141.8,588.0H155.0M143.8,584.0H157.0M143.8,588.0H157.0M145.9,584.0H159.1M145.9,588.0H159.1M148.2,584.0H161.4M148.2,588.0H161.4M150.6,584.0H163.8M150.6,588.0H163.8M153.3,584.1H166.5M153.3,587.9H166.5M156.1,584.1H169.3M156.1,587.9H169.3M159.1,584.1H172.3M159.1,587.9H172.3M162.4,584.1H175.6M162.4,587.9H175.6M165.8,584.1H179.0M165.8,587.9H179.0M169.6,584.1H182.8M169.6,587.9H182.8M173.6,584.1H186.8M173.6,587.9H186.8M177.9,584.1H191.1M177.9,587.9H191.1M182.5,584.1H195.7M182.5,587.9H195.7M187.4,584.1H200.6M187.4,587.9H200.6M192.7,584.1H205.9M192.7,587.9H205.9M198.4,584.1H211.6M198.4,587.9H211.6M204.5,584.1H217.7M204.5,587.9H217.7M211.0,584.1H224.2M211.0,587.9H224.2M218.0,584.1H231.2M218.0,587.9H231.2M225.5,584.2H238.7M225.5,587.8H238.7M233.5,584.2H246.7M233.5,587.8H246.7M242.1,584.2H255.3M242.1,587.8H255.3M251.4,584.2H264.6M251.4,587.8H264.6M261.3,584.2H274.5M261.3,587.8H274.5M271.9,584.2H285.1M271.9,587.8H285.1M283.3,584.2H296.5M283.3,587.8H296.5M295.5,584.2H308.7M295.5,587.8H308.7M308.7,584.3H321.9M308.7,587.7H321.9M322.7,584.3H335.9M322.7,587.7H335.9M337.8,584.3H351.0M337.8,587.7H351.0M353.9,584.3H367.1M353.9,587.7H367.1M371.3,584.4H384.5M371.3,587.6H384.5M389.8,584.4H403.0M389.8,587.6H403.0" stroke="#0E9558" stroke-width="3.2" fill="none"/>
<polyline points="121.5,586.0 121.6,586.0 121.6,586.0 121.7,586.0 121.8,586.0 121.8,586.0 121.9,586.0 122.0,586.0 122.1,586.0 122.2,586.0 122.3,586.0 122.4,586.0 122.5,586.0 122.6,586.0 122.7,586.0 122.9,586.0 123.0,586.0 123.2,586.0 123.4,586.0 123.6,586.0 123.8,586.0 124.0,586.0 124.2,586.0 124.4,586.0 124.7,586.0 125.0,586.0 125.3,586.0 125.6,586.0 126.0,586.0 126.3,586.0 126.7,586.0 127.2,586.0 127.6,586.0 128.1,586.0 128.7,586.0 129.2,586.0 129.8,586.0 130.5,586.0 131.2,586.0 131.9,586.0 132.7,586.0 133.6,586.0 134.5,586.0 135.5,586.0 136.6,586.0 137.7,586.0 138.9,586.0 140.2,586.0 141.7,586.0 143.2,586.0 144.8,586.0 146.5,586.0 148.4,586.0 150.4,586.0 152.5,586.0 154.8,586.0 157.2,586.0 159.9,586.0 162.7,586.0 165.7,586.0 169.0,586.0 172.4,586.0 176.2,586.0 180.2,586.0 184.5,586.0 189.1,586.0 194.0,586.0 199.3,586.0 205.0,586.0 211.1,586.0 217.6,586.0 224.6,586.0 232.1,586.0 240.1,586.0 248.7,586.0 258.0,586.0 267.9,586.0 278.5,586.0 289.9,586.0 302.1,586.0 315.3,586.0 329.3,586.0 344.4,586.0 360.5,586.0 377.9,586.0 396.4,586.0 416.4,586.0 437.7,586.0 460.6,586.0 485.2,586.0 511.5,586.0 539.7,586.0 570.0,586.0 602.5,586.0 637.3,586.0 674.6,586.0 714.6,586.0 757.5,586.0 803.6,586.0 852.9,586.0" stroke="#0A8040" stroke-width="2.2" fill="none"/>
<use href="#plus" x="121.5" y="586.0" fill="#0E9558" stroke="#0E9558"/>
<use href="#plus" x="121.6" y="586.0" fill="#0E9558" stroke="#0E9558"/>
<use href="#plus" x="121.6" y="586.0" fill="#0E9558" stroke="#0E9558"/>
<use href="#plus" x="121.7" y="586.0" fill="#0E9558" stroke="#0E9558"/>
<use href="#plus" x="121.8" y="586.0" fill="#0E9558" stroke="#0E9558"/>
<use href="#plus" x="121.8" y="586.0" fill="#0E9558" stroke="#0E9558"/>
<use href="#plus" x="121.9" y="586.0" fill="#0E9558" stroke="#0E9558"/>
<use href="#plus" x="122.0" y="586.0" fill="#0E9558" stroke="#0E9558"/>
<use href="#plus" x="122.1" y="586.0" fill="#0E9558" stroke="#0E9558"/>
<use href="#plus" x="122.2" y="586.0" fill="#0E9558" stroke="#0E9558"/>
<use href="#plus" x="122.3" y="586.0" fill="#0E9558" stroke="#0E9558"/>
<use href="#plus" x="122.4" y="586.0" fill="#0E9558" stroke="#0E9558"/>
<use href="#plus" x="122.5" y="586.0" fill="#0E9558" stroke="#0E9558"/>
<use href="#plus" x="122.6" y="586.0" fill="#0E9558" stroke="#0E9558"/>
<use href="#plus" x="122.7" y="586.0" fill="#0E9558" stroke="#0E9558"/>
<use href="#plus" x="122.9" y="586.0" fill="#0E9558" stroke="#0E9558"/>
<use href="#plus" x="123.0" y="586.0" fill="#0E9558" stroke="#0E9558"/>
<use href="#plus" x="123.2" y="586.0" fill="#0E9558" stroke="#0E9558"/>
<use href="#plus" x="123.4" y="586.0" fill="#0E9558" stroke="#0E9558"/>
<use href="#plus" x="123.6" y="586.0" fill="#0E9558" stroke="#0E9558"/>
<use href="#plus" x="123.8" y="586.0" fill="#0E9558" stroke="#0E9558"/>
<use href="#plus" x="124.0" y="586.0" fill="#0E9558" stroke="#0E9558"/>
<use href="#plus" x="124.2" y="586.0" fill="#0E9558" stroke="#0E9558"/>
<use href="#plus" x="124.4" y="586.0" fill="#0E9558" stroke="#0E9558"/>
<use href="#plus" x="124.7" y="586.0" fill="#0E9558" stroke="#0E9558"/>
<use href="#plus" x="125.0" y="586.0" fill="#0E9558" stroke="#0E9558"/>
<use href="#plus" x="125.3" y="586.0" fill="#0E9558" stroke="#0E9558"/>
<use href="#plus" x="125.6" y="586.0" fill="#0E9558" stroke="#0E9558"/>
<use href="#plus" x="126.0" y="586.0" fill="#0E9558" stroke="#0E9558"/>
<use href="#plus" x="126.3" y="586.0" fill="#0E9558" stroke="#0E9558"/>
<use href="#plus" x="126.7" y="586.0" fill="#0E9558" stroke="#0E9558"/>
<use href="#plus" x="127.2" y="586.0" fill="#0E9558" stroke="#0E9558"/>
<use href="#plus" x="127.6" y="586.0" fill="#0E9558" stroke="#0E9558"/>
<use href="#plus" x="128.1" y="586.0" fill="#0E9558" stroke="#0E9558"/>
<use href="#plus" x="128.7" y="586.0" fill="#0E9558" stroke="#0E9558"/>
<use href="#plus" x="129.2" y="586.0" fill="#0E9558" stroke="#0E9558"/>
<use href="#plus" x="129.8" y="586.0" fill="#0E9558" stroke="#0E9558"/>
<use href="#plus" x="130.5" y="586.0" fill="#0E9558" stroke="#0E9558"/>
<use href="#plus" x="131.2" y="586.0" fill="#0E9558" stroke="#0E9558"/>
<use href="#plus" x="131.9" y="586.0" fill="#0E9558" stroke="#0E9558"/>
<use href="#plus" x="132.7" y="586.0" fill="#0E9558" stroke="#0E9558"/>
<use href="#plus" x="133.6" y="586.0" fill="#0E9558" stroke="#0E9558"/>
<use href="#plus" x="134.5" y="586.0" fill="#0E9558" stroke="#0E9558"/>
<use href="#plus" x="135.5" y="586.0" fill="#0E9558" stroke="#0E9558"/>
<use href="#plus" x="136.6" y="586.0" fill="#0E9558" stroke="#0E9558"/>
<use href="#plus" x="137.7" y="586.0" fill="#0E9558" stroke="#0E9558"/>
<use href="#plus" x="138.9" y="586.0" fill="#0E9558" stroke="#0E9558"/>
<use href="#plus" x="140.2" y="586.0" fill="#0E9558" stroke="#0E9558"/>
<use href="#plus" x="141.7" y="586.0" fill="#0E9558" stroke="#0E9558"/>
<use href="#plus" x="143.2" y="586.0" fill="#0E9558" stroke="#0E9558"/>
<use href="#plus" x="144.8" y="586.0" fill="#0E9558" stroke="#0E9558"/>
<use href="#plus" x="146.5" y="586.0" fill="#0E9558" stroke="#0E9558"/>
<use href="#plus" x="148.4" y="586.0" fill="#0E9558" stroke="#0E9558"/>
<use href="#plus" x="150.4" y="586.0" fill="#0E9558" stroke="#0E9558"/>
<use href="#plus" x="152.5" y="586.0" fill="#0E9558" stroke="#0E9558"/>
<use href="#plus" x="154.8" y="586.0" fill="#0E9558" stroke="#0E9558"/>
<use href="#plus" x="157.2" y="586.0" fill="#0E9558" stroke="#0E9558"/>
<use href="#plus" x="159.9" y="586.0" fill="#0E9558" stroke="#0E9558"/>
<use href="#plus" x="162.7" y="586.0" fill="#0E9558" stroke="#0E9558"/>
<use href="#plus" x="165.7" y="586.0" fill="#0E9558" stroke="#0E9558"/>
<use href="#plus" x="169.0" y="586.0" fill="#0E9558" stroke="#0E9558"/>
<use href="#plus" x="172.4" y="586.0" fill="#0E9558" stroke="#0E9558"/>
<use href="#plus" x="176.2" y="586.0" fill="#0E9558" stroke="#0E9558"/>
<use href="#plus" x="180.2" y="586.0" fill="#0E9558" stroke="#0E9558"/>
<use href="#plus" x="184.5" y="586.0" fill="#0E9558" stroke="#0E9558"/>
<use href="#plus" x="189.1" y="586.0" fill="#0E9558" stroke="#0E9558"/>
<use href="#plus" x="194.0" y="586.0" fill="#0E9558" stroke="#0E9558"/>
<use href="#plus" x="199.3" y="586.0" fill="#0E9558" stroke="#0E9558"/>
<use href="#plus" x="205.0" y="586.0" fill="#0E9558" stroke="#0E9558"/>
<use href="#plus" x="211.1" y="586.0" fill="#0E9558" stroke="#0E9558"/>
<use href="#plus" x="217.6" y="586.0" fill="#0E9558" stroke="#0E9558"/>
<use href="#plus" x="224.6" y="586.0" fill="#0E9558" stroke="#0E9558"/>
<use href="#plus" x="232.1" y="586.0" fill="#0E9558" stroke="#0E9558"/>
<use href="#plus" x="240.1" y="586.0" fill="#0E9558" stroke="#0E9558"/>
<use href="#plus" x="248.7" y="586.0" fill="#0E9558" stroke="#0E9558"/>
<use href="#plus" x="258.0" y="586.0" fill="#0E9558" stroke="#0E9558"/>
<use href="#plus" x="267.9" y="586.0" fill="#0E9558" stroke="#0E9558"/>
<use href="#plus" x="278.5" y="586.0" fill="#0E9558" stroke="#0E9558"/>
<use href="#plus" x="289.9" y="586.0" fill="#0E9558" stroke="#0E9558"/>
<use href="#plus" x="302.1" y="586.0" fill="#0E9558" stroke="#0E9558"/>
<use href="#plus" x="315.3" y="586.0" fill="#0E9558" stroke="#0E9558"/>
<use href="#plus" x="329.3" y="586.0" fill="#0E9558" stroke="#0E9558"/>
<use href="#plus" x="344.4" y="586.0" fill="#0E9558" stroke="#0E9558"/>
<use href="#plus" x="360.5" y="586.0" fill="#0E9558" stroke="#0E9558"/>
<use href="#plus" x="377.9" y="586.0" fill="#0E9558" stroke="#0E9558"/>
<use href="#plus" x="396.4" y="586.0" fill="#0E9558" stroke="#0E9558"/>
<use href="#plus" x="416.4" y="586.0" fill="#0E9558" stroke="#0E9558"/>
<use href="#plus" x="437.7" y="586.0" fill="#0E9558" stroke="#0E9558"/>
<use href="#plus" x="460.6" y="586.0" fill="#0E9558" stroke="#0E9558"/>
<use href="#plus" x="485.2" y="586.0" fill="#0E9558" stroke="#0E9558"/>
<use href="#plus" x="511.5" y="586.0" fill="#0E9558" stroke="#0E9558"/>
<use href="#plus" x="539.7" y="586.0" fill="#0E9558" stroke="#0E9558"/>
<use href="#plus" x="570.0" y="586.0" fill="#0E9558" stroke="#0E9558"/>
<use href="#plus" x="602.5" y="586.0" fill="#0E9558" stroke="#0E9558"/>
<use href="#plus" x="637.3" y="586.0" fill="#0E9558" stroke="#0E9558"/>
<use href="#plus" x="674.6" y="586.0" fill="#0E9558" stroke="#0E9558"/>
<use href="#plus" x="714.6" y="586.0" fill="#0E9558" stroke="#0E9558"/>
<use href="#plus" x="757.5" y="586.0" fill="#0E9558" stroke="#0E9558"/>
<use href="#plus" x="803.6" y="586.0" fill="#0E9558" stroke="#0E9558"/>
<use href="#plus" x="852.9" y="586.0" fill="#0E9558" stroke="#0E9558"/>
<path d="M121.5,490.9V498.9M121.6,490.9V498.9M121.6,490.8V498.8M121.7,490.8V498.8M121.8,490.8V498.8M121.8,490.8V498.8M121.9,490.8V498.8M122.0,490.8V498.8M122.1,490.7V498.7M122.2,490.7V498.7M122.3,490.7V498.7M122.4,490.7V498.7M122.5,490.6V498.6M122.6,490.6V498.6M122.7,490.6V498.6M122.9,490.5V498.5M123.0,490.5V498.5M123.2,490.5V498.4M123.4,490.4V498.4M123.6,490.4V498.4M123.8,490.3V498.3M124.0,490.3V498.3M124.2,490.2V498.2M124.4,490.1V498.1M124.7,490.1V498.1M125.0,490.0V498.0M125.3,489.9V497.9M125.6,489.9V497.8M126.0,489.8V497.8M126.3,489.7V497.7M126.7,489.6V497.6M127.2,489.5V497.4M127.6,489.4V497.3M128.1,489.2V497.2M128.7,489.1V497.1M129.2,489.0V496.9M129.8,488.8V496.8M130.5,488.6V496.6M131.2,488.5V496.4M131.9,488.3V496.3M132.7,488.1V496.1M133.6,487.9V495.9M134.5,487.7V495.7M135.5,487.5V495.5M136.6,487.3V495.3M137.7,487.1V495.0M138.9,486.8V494.8M140.2,486.6V494.5M141.7,486.3V494.2M143.2,486.0V494.0M144.8,485.8V493.8M146.5,485.6V493.6M148.4,485.4V493.3M150.4,485.2V493.1M152.5,484.9V492.8M154.8,484.7V492.6M157.2,484.4V492.3M159.9,484.1V492.0M162.7,483.9V491.8M165.7,483.7V491.6M169.0,483.5V491.4M172.4,483.3V491.2M176.2,483.1V491.0M180.2,482.9V490.7M184.5,482.6V490.4M189.1,482.4V490.2M194.0,482.1V489.9M199.3,481.8V489.6M205.0,481.5V489.2M211.1,481.1V488.9M217.6,480.7V488.5M224.6,480.3V488.1M232.1,479.9V487.5M240.1,479.3V486.9M248.7,478.6V486.3M258.0,478.1V485.7M267.9,477.8V485.4M278.5,477.4V485.0M289.9,477.1V484.6M302.1,476.7V484.2M315.3,476.6V484.1M329.3,476.5V483.9M344.4,476.3V483.7M360.5,476.1V483.5M377.9,476.0V483.3M396.4,475.5V482.7M416.4,474.9V482.1M437.7,474.8V481.9M460.6,474.7V481.7M485.2,474.5V481.5M511.5,474.4V481.3M539.7,474.2V481.1M570.0,474.1V480.8M602.5,473.9V480.6M637.3,473.7V480.3M674.6,473.3V479.8M714.6,473.0V479.4M757.5,472.6V478.8M803.6,472.2V478.3M852.9,471.7V477.7" stroke="#FF0000" stroke-width="4.0" fill="none"/>
<path d="M114.9,490.9H128.1M114.9,498.9H128.1M115.0,490.9H128.2M115.0,498.9H128.2M115.0,490.8H128.2M115.0,498.8H128.2M115.1,490.8H128.3M115.1,498.8H128.3M115.2,490.8H128.4M115.2,498.8H128.4M115.2,490.8H128.4M115.2,498.8H128.4M115.3,490.8H128.5M115.3,498.8H128.5M115.4,490.8H128.6M115.4,498.8H128.6M115.5,490.7H128.7M115.5,498.7H128.7M115.6,490.7H128.8M115.6,498.7H128.8M115.7,490.7H128.9M115.7,498.7H128.9M115.8,490.7H129.0M115.8,498.7H129.0M115.9,490.6H129.1M115.9,498.6H129.1M116.0,490.6H129.2M116.0,498.6H129.2M116.1,490.6H129.3M116.1,498.6H129.3M116.3,490.5H129.5M116.3,498.5H129.5M116.4,490.5H129.6M116.4,498.5H129.6M116.6,490.5H129.8M116.6,498.4H129.8M116.8,490.4H130.0M116.8,498.4H130.0M117.0,490.4H130.2M117.0,498.4H130.2M117.2,490.3H130.4M117.2,498.3H130.4M117.4,490.3H130.6M117.4,498.3H130.6M117.6,490.2H130.8M117.6,498.2H130.8M117.8,490.1H131.0M117.8,498.1H131.0M118.1,490.1H131.3M118.1,498.1H131.3M118.4,490.0H131.6M118.4,498.0H131.6M118.7,489.9H131.9M118.7,497.9H131.9M119.0,489.9H132.2M119.0,497.8H132.2M119.4,489.8H132.6M119.4,497.8H132.6M119.7,489.7H132.9M119.7,497.7H132.9M120.1,489.6H133.3M120.1,497.6H133.3M120.6,489.5H133.8M120.6,497.4H133.8M121.0,489.4H134.2M121.0,497.3H134.2M121.5,489.2H134.7M121.5,497.2H134.7M122.1,489.1H135.3M122.1,497.1H135.3M122.6,489.0H135.8M122.6,496.9H135.8M123.2,488.8H136.4M123.2,496.8H136.4M123.9,488.6H137.1M123.9,496.6H137.1M124.6,488.5H137.8M124.6,496.4H137.8M125.3,488.3H138.5M125.3,496.3H138.5M126.1,488.1H139.3M126.1,496.1H139.3M127.0,487.9H140.2M127.0,495.9H140.2M127.9,487.7H141.1M127.9,495.7H141.1M128.9,487.5H142.1M128.9,495.5H142.1M130.0,487.3H143.2M130.0,495.3H143.2M131.1,487.1H144.3M131.1,495.0H144.3M132.3,486.8H145.5M132.3,494.8H145.5M133.6,486.6H146.8M133.6,494.5H146.8M135.1,486.3H148.3M135.1,494.2H148.3M136.6,486.0H149.8M136.6,494.0H149.8M138.2,485.8H151.4M138.2,493.8H151.4M139.9,485.6H153.1M139.9,493.6H153.1M141.8,485.4H155.0M141.8,493.3H155.0M143.8,485.2H157.0M143.8,493.1H157.0M145.9,484.9H159.1M145.9,492.8H159.1M148.2,484.7H161.4M148.2,492.6H161.4M150.6,484.4H163.8M150.6,492.3H163.8M153.3,484.1H166.5M153.3,492.0H166.5M156.1,483.9H169.3M156.1,491.8H169.3M159.1,483.7H172.3M159.1,491.6H172.3M162.4,483.5H175.6M162.4,491.4H175.6M165.8,483.3H179.0M165.8,491.2H179.0M169.6,483.1H182.8M169.6,491.0H182.8M173.6,482.9H186.8M173.6,490.7H186.8M177.9,482.6H191.1M177.9,490.4H191.1M182.5,482.4H195.7M182.5,490.2H195.7M187.4,482.1H200.6M187.4,489.9H200.6M192.7,481.8H205.9M192.7,489.6H205.9M198.4,481.5H211.6M198.4,489.2H211.6M204.5,481.1H217.7M204.5,488.9H217.7M211.0,480.7H224.2M211.0,488.5H224.2M218.0,480.3H231.2M218.0,488.1H231.2M225.5,479.9H238.7M225.5,487.5H238.7M233.5,479.3H246.7M233.5,486.9H246.7M242.1,478.6H255.3M242.1,486.3H255.3M251.4,478.1H264.6M251.4,485.7H264.6M261.3,477.8H274.5M261.3,485.4H274.5M271.9,477.4H285.1M271.9,485.0H285.1M283.3,477.1H296.5M283.3,484.6H296.5M295.5,476.7H308.7M295.5,484.2H308.7M308.7,476.6H321.9M308.7,484.1H321.9M322.7,476.5H335.9M322.7,483.9H335.9M337.8,476.3H351.0M337.8,483.7H351.0M353.9,476.1H367.1M353.9,483.5H367.1M371.3,476.0H384.5M371.3,483.3H384.5M389.8,475.5H403.0M389.8,482.7H403.0M409.8,474.9H423.0M409.8,482.1H423.0M431.1,474.8H444.3M431.1,481.9H444.3M454.0,474.7H467.2M454.0,481.7H467.2M478.6,474.5H491.8M478.6,481.5H491.8M504.9,474.4H518.1M504.9,481.3H518.1M533.1,474.2H546.3M533.1,481.1H546.3M563.4,474.1H576.6M563.4,480.8H576.6M595.9,473.9H609.1M595.9,480.6H609.1M630.7,473.7H643.9M630.7,480.3H643.9M668.0,473.3H681.2M668.0,479.8H681.2M708.0,473.0H721.2M708.0,479.4H721.2M750.9,472.6H764.1M750.9,478.8H764.1M797.0,472.2H810.2M797.0,478.3H810.2M846.3,471.7H859.5M846.3,477.7H859.5" stroke="#FF0000" stroke-width="3.2" fill="none"/>
<polyline points="121.5,494.9 121.6,494.9 121.6,494.8 121.7,494.8 121.8,494.8 121.8,494.8 121.9,494.8 122.0,494.8 122.1,494.7 122.2,494.7 122.3,494.7 122.4,494.7 122.5,494.6 122.6,494.6 122.7,494.6 122.9,494.5 123.0,494.5 123.2,494.5 123.4,494.4 123.6,494.4 123.8,494.3 124.0,494.3 124.2,494.2 124.4,494.1 124.7,494.1 125.0,494.0 125.3,493.9 125.6,493.8 126.0,493.8 126.3,493.7 126.7,493.6 127.2,493.5 127.6,493.3 128.1,493.2 128.7,493.1 129.2,492.9 129.8,492.8 130.5,492.6 131.2,492.5 131.9,492.3 132.7,492.1 133.6,491.9 134.5,491.7 135.5,491.5 136.6,491.3 137.7,491.1 138.9,490.8 140.2,490.6 141.7,490.3 143.2,490.0 144.8,489.8 146.5,489.6 148.4,489.4 150.4,489.1 152.5,488.9 154.8,488.6 157.2,488.3 159.9,488.0 162.7,487.8 165.7,487.7 169.0,487.5 172.4,487.3 176.2,487.0 180.2,486.8 184.5,486.5 189.1,486.3 194.0,486.0 199.3,485.7 205.0,485.3 211.1,485.0 217.6,484.6 224.6,484.2 232.1,483.7 240.1,483.1 248.7,482.5 258.0,481.9 267.9,481.6 278.5,481.2 289.9,480.8 302.1,480.5 315.3,480.3 329.3,480.2 344.4,480.0 360.5,479.8 377.9,479.6 396.4,479.1 416.4,478.5 437.7,478.4 460.6,478.2 485.2,478.0 511.5,477.8 539.7,477.7 570.0,477.4 602.5,477.2 637.3,477.0 674.6,476.6 714.6,476.2 757.5,475.7 803.6,475.2 852.9,474.7" stroke="#FF0000" stroke-width="2.2" fill="none"/>
<use href="#ast" x="121.5" y="494.9" fill="#FF0000" stroke="#FF0000"/>
<use href="#ast" x="121.6" y="494.9" fill="#FF0000" stroke="#FF0000"/>
<use href="#ast" x="121.6" y="494.8" fill="#FF0000" stroke="#FF0000"/>
<use href="#ast" x="121.7" y="494.8" fill="#FF0000" stroke="#FF0000"/>
<use href="#ast" x="121.8" y="494.8" fill="#FF0000" stroke="#FF0000"/>
<use href="#ast" x="121.8" y="494.8" fill="#FF0000" stroke="#FF0000"/>
<use href="#ast" x="121.9" y="494.8" fill="#FF0000" stroke="#FF0000"/>
<use href="#ast" x="122.0" y="494.8" fill="#FF0000" stroke="#FF0000"/>
<use href="#ast" x="122.1" y="494.7" fill="#FF0000" stroke="#FF0000"/>
<use href="#ast" x="122.2" y="494.7" fill="#FF0000" stroke="#FF0000"/>
<use href="#ast" x="122.3" y="494.7" fill="#FF0000" stroke="#FF0000"/>
<use href="#ast" x="122.4" y="494.7" fill="#FF0000" stroke="#FF0000"/>
<use href="#ast" x="122.5" y="494.6" fill="#FF0000" stroke="#FF0000"/>
<use href="#ast" x="122.6" y="494.6" fill="#FF0000" stroke="#FF0000"/>
<use href="#ast" x="122.7" y="494.6" fill="#FF0000" stroke="#FF0000"/>
<use href="#ast" x="122.9" y="494.5" fill="#FF0000" stroke="#FF0000"/>
<use href="#ast" x="123.0" y="494.5" fill="#FF0000" stroke="#FF0000"/>
<use href="#ast" x="123.2" y="494.5" fill="#FF0000" stroke="#FF0000"/>
<use href="#ast" x="123.4" y="494.4" fill="#FF0000" stroke="#FF0000"/>
<use href="#ast" x="123.6" y="494.4" fill="#FF0000" stroke="#FF0000"/>
<use href="#ast" x="123.8" y="494.3" fill="#FF0000" stroke="#FF0000"/>
<use href="#ast" x="124.0" y="494.3" fill="#FF0000" stroke="#FF0000"/>
<use href="#ast" x="124.2" y="494.2" fill="#FF0000" stroke="#FF0000"/>
<use href="#ast" x="124.4" y="494.1" fill="#FF0000" stroke="#FF0000"/>
<use href="#ast" x="124.7" y="494.1" fill="#FF0000" stroke="#FF0000"/>
<use href="#ast" x="125.0" y="494.0" fill="#FF0000" stroke="#FF0000"/>
<use href="#ast" x="125.3" y="493.9" fill="#FF0000" stroke="#FF0000"/>
<use href="#ast" x="125.6" y="493.8" fill="#FF0000" stroke="#FF0000"/>
<use href="#ast" x="126.0" y="493.8" fill="#FF0000" stroke="#FF0000"/>
<use href="#ast" x="126.3" y="493.7" fill="#FF0000" stroke="#FF0000"/>
<use href="#ast" x="126.7" y="493.6" fill="#FF0000" stroke="#FF0000"/>
<use href="#ast" x="127.2" y="493.5" fill="#FF0000" stroke="#FF0000"/>
<use href="#ast" x="127.6" y="493.3" fill="#FF0000" stroke="#FF0000"/>
<use href="#ast" x="128.1" y="493.2" fill="#FF0000" stroke="#FF0000"/>
<use href="#ast" x="128.7" y="493.1" fill="#FF0000" stroke="#FF0000"/>
<use href="#ast" x="129.2" y="492.9" fill="#FF0000" stroke="#FF0000"/>
<use href="#ast" x="129.8" y="492.8" fill="#FF0000" stroke="#FF0000"/>
<use href="#ast" x="130.5" y="492.6" fill="#FF0000" stroke="#FF0000"/>
<use href="#ast" x="131.2" y="492.5" fill="#FF0000" stroke="#FF0000"/>
<use href="#ast" x="131.9" y="492.3" fill="#FF0000" stroke="#FF0000"/>
<use href="#ast" x="132.7" y="492.1" fill="#FF0000" stroke="#FF0000"/>
<use href="#ast" x="133.6" y="491.9" fill="#FF0000" stroke="#FF0000"/>
<use href="#ast" x="134.5" y="491.7" fill="#FF0000" stroke="#FF0000"/>
<use href="#ast" x="135.5" y="491.5" fill="#FF0000" stroke="#FF0000"/>
<use href="#ast" x="136.6" y="491.3" fill="#FF0000" stroke="#FF0000"/>
<use href="#ast" x="137.7" y="491.1" fill="#FF0000" stroke="#FF0000"/>
<use href="#ast" x="138.9" y="490.8" fill="#FF0000" stroke="#FF0000"/>
<use href="#ast" x="140.2" y="490.6" fill="#FF0000" stroke="#FF0000"/>
<use href="#ast" x="141.7" y="490.3" fill="#FF0000" stroke="#FF0000"/>
<use href="#ast" x="143.2" y="490.0" fill="#FF0000" stroke="#FF0000"/>
<use href="#ast" x="144.8" y="489.8" fill="#FF0000" stroke="#FF0000"/>
<use href="#ast" x="146.5" y="489.6" fill="#FF0000" stroke="#FF0000"/>
<use href="#ast" x="148.4" y="489.4" fill="#FF0000" stroke="#FF0000"/>
<use href="#ast" x="150.4" y="489.1" fill="#FF0000" stroke="#FF0000"/>
<use href="#ast" x="152.5" y="488.9" fill="#FF0000" stroke="#FF0000"/>
<use href="#ast" x="154.8" y="488.6" fill="#FF0000" stroke="#FF0000"/>
<use href="#ast" x="157.2" y="488.3" fill="#FF0000" stroke="#FF0000"/>
<use href="#ast" x="159.9" y="488.0" fill="#FF0000" stroke="#FF0000"/>
<use href="#ast" x="162.7" y="487.8" fill="#FF0000" stroke="#FF0000"/>
<use href="#ast" x="165.7" y="487.7" fill="#FF0000" stroke="#FF0000"/>
<use href="#ast" x="169.0" y="487.5" fill="#FF0000" stroke="#FF0000"/>
<use href="#ast" x="172.4" y="487.3" fill="#FF0000" stroke="#FF0000"/>
<use href="#ast" x="176.2" y="487.0" fill="#FF0000" stroke="#FF0000"/>
<use href="#ast" x="180.2" y="486.8" fill="#FF0000" stroke="#FF0000"/>
<use href="#ast" x="184.5" y="486.5" fill="#FF0000" stroke="#FF0000"/>
<use href="#ast" x="189.1" y="486.3" fill="#FF0000" stroke="#FF0000"/>
<use href="#ast" x="194.0" y="486.0" fill="#FF0000" stroke="#FF0000"/>
<use href="#ast" x="199.3" y="485.7" fill="#FF0000" stroke="#FF0000"/>
<use href="#ast" x="205.0" y="485.3" fill="#FF0000" stroke="#FF0000"/>
<use href="#ast" x="211.1" y="485.0" fill="#FF0000" stroke="#FF0000"/>
<use href="#ast" x="217.6" y="484.6" fill="#FF0000" stroke="#FF0000"/>
<use href="#ast" x="224.6" y="484.2" fill="#FF0000" stroke="#FF0000"/>
<use href="#ast" x="232.1" y="483.7" fill="#FF0000" stroke="#FF0000"/>
<use href="#ast" x="240.1" y="483.1" fill="#FF0000" stroke="#FF0000"/>
<use href="#ast" x="248.7" y="482.5" fill="#FF0000" stroke="#FF0000"/>
<use href="#ast" x="258.0" y="481.9" fill="#FF0000" stroke="#FF0000"/>
<use href="#ast" x="267.9" y="481.6" fill="#FF0000" stroke="#FF0000"/>
<use href="#ast" x="278.5" y="481.2" fill="#FF0000" stroke="#FF0000"/>
<use href="#ast" x="289.9" y="480.8" fill="#FF0000" stroke="#FF0000"/>
<use href="#ast" x="302.1" y="480.5" fill="#FF0000" stroke="#FF0000"/>
<use href="#ast" x="315.3" y="480.3" fill="#FF0000" stroke="#FF0000"/>
<use href="#ast" x="329.3" y="480.2" fill="#FF0000" stroke="#FF0000"/>
<use href="#ast" x="344.4" y="480.0" fill="#FF0000" stroke="#FF0000"/>
<use href="#ast" x="360.5" y="479.8" fill="#FF0000" stroke="#FF0000"/>
<use href="#ast" x="377.9" y="479.6" fill="#FF0000" stroke="#FF0000"/>
<use href="#ast" x="396.4" y="479.1" fill="#FF0000" stroke="#FF0000"/>
<use href="#ast" x="416.4" y="478.5" fill="#FF0000" stroke="#FF0000"/>
<use href="#ast" x="437.7" y="478.4" fill="#FF0000" stroke="#FF0000"/>
<use href="#ast" x="460.6" y="478.2" fill="#FF0000" stroke="#FF0000"/>
<use href="#ast" x="485.2" y="478.0" fill="#FF0000" stroke="#FF0000"/>
<use href="#ast" x="511.5" y="477.8" fill="#FF0000" stroke="#FF0000"/>
<use href="#ast" x="539.7" y="477.7" fill="#FF0000" stroke="#FF0000"/>
<use href="#ast" x="570.0" y="477.4" fill="#FF0000" stroke="#FF0000"/>
<use href="#ast" x="602.5" y="477.2" fill="#FF0000" stroke="#FF0000"/>
<use href="#ast" x="637.3" y="477.0" fill="#FF0000" stroke="#FF0000"/>
<use href="#ast" x="674.6" y="476.6" fill="#FF0000" stroke="#FF0000"/>
<use href="#ast" x="714.6" y="476.2" fill="#FF0000" stroke="#FF0000"/>
<use href="#ast" x="757.5" y="475.7" fill="#FF0000" stroke="#FF0000"/>
<use href="#ast" x="803.6" y="475.2" fill="#FF0000" stroke="#FF0000"/>
<use href="#ast" x="852.9" y="474.7" fill="#FF0000" stroke="#FF0000"/>
<path d="" stroke="#FF0000" stroke-width="4.0" fill="none"/>
<path d="" stroke="#FF0000" stroke-width="3.2" fill="none"/>
<polyline points="121.5,591.2 121.6,591.2 121.6,591.2 121.7,591.2 121.8,591.2 121.8,591.2 121.9,591.2 122.0,591.2 122.1,591.2 122.2,591.2 122.3,591.2 122.4,591.2 122.5,591.2 122.6,591.2 122.7,591.2 122.9,591.2 123.0,591.2 123.2,591.2 123.4,591.2 123.6,591.2 123.8,591.2 124.0,591.2 124.2,591.2 124.4,591.2 124.7,591.2 125.0,591.2 125.3,591.2 125.6,591.2 126.0,591.2 126.3,591.2 126.7,591.2 127.2,591.2 127.6,591.2 128.1,591.2 128.7,591.2 129.2,591.2 129.8,591.2 130.5,591.2 131.2,591.2 131.9,591.2 132.7,591.2 133.6,591.2 134.5,591.2 135.5,591.2 136.6,591.1 137.7,591.1 138.9,591.1 140.2,591.1 141.7,591.1 143.2,591.1 144.8,591.1 146.5,591.1 148.4,591.1 150.4,591.1 152.5,591.1 154.8,591.1 157.2,591.1 159.9,591.1 162.7,591.1 165.7,591.1 169.0,591.0 172.4,591.0 176.2,591.0 180.2,591.0 184.5,591.0 189.1,590.8 194.0,590.7 199.3,590.5 205.0,590.3 211.1,590.2 217.6,590.0 224.6,589.8 232.1,589.5 240.1,589.3 248.7,589.0 258.0,589.0 267.9,589.0 278.5,589.0 289.9,589.0 302.1,588.9 315.3,588.9 329.3,588.9 344.4,588.7 360.5,588.6 377.9,588.4 396.4,588.2 416.4,587.9 437.7,587.7 460.6,587.4 485.2,587.2 511.5,587.0 539.7,586.9 570.0,586.9 602.5,586.9 637.3,586.8 674.6,586.8 714.6,586.7 757.5,586.6 803.6,586.6 852.9,586.5" stroke="#FF5010" stroke-width="2.2" fill="none"/>
<use href="#plus" x="121.5" y="591.2" fill="#FF0000" stroke="#FF0000"/>
<use href="#plus" x="121.6" y="591.2" fill="#FF0000" stroke="#FF0000"/>
<use href="#plus" x="121.6" y="591.2" fill="#FF0000" stroke="#FF0000"/>
<use href="#plus" x="121.7" y="591.2" fill="#FF0000" stroke="#FF0000"/>
<use href="#plus" x="121.8" y="591.2" fill="#FF0000" stroke="#FF0000"/>
<use href="#plus" x="121.8" y="591.2" fill="#FF0000" stroke="#FF0000"/>
<use href="#plus" x="121.9" y="591.2" fill="#FF0000" stroke="#FF0000"/>
<use href="#plus" x="122.0" y="591.2" fill="#FF0000" stroke="#FF0000"/>
<use href="#plus" x="122.1" y="591.2" fill="#FF0000" stroke="#FF0000"/>
<use href="#plus" x="122.2" y="591.2" fill="#FF0000" stroke="#FF0000"/>
<use href="#plus" x="122.3" y="591.2" fill="#FF0000" stroke="#FF0000"/>
<use href="#plus" x="122.4" y="591.2" fill="#FF0000" stroke="#FF0000"/>
<use href="#plus" x="122.5" y="591.2" fill="#FF0000" stroke="#FF0000"/>
<use href="#plus" x="122.6" y="591.2" fill="#FF0000" stroke="#FF0000"/>
<use href="#plus" x="122.7" y="591.2" fill="#FF0000" stroke="#FF0000"/>
<use href="#plus" x="122.9" y="591.2" fill="#FF0000" stroke="#FF0000"/>
<use href="#plus" x="123.0" y="591.2" fill="#FF0000" stroke="#FF0000"/>
<use href="#plus" x="123.2" y="591.2" fill="#FF0000" stroke="#FF0000"/>
<use href="#plus" x="123.4" y="591.2" fill="#FF0000" stroke="#FF0000"/>
<use href="#plus" x="123.6" y="591.2" fill="#FF0000" stroke="#FF0000"/>
<use href="#plus" x="123.8" y="591.2" fill="#FF0000" stroke="#FF0000"/>
<use href="#plus" x="124.0" y="591.2" fill="#FF0000" stroke="#FF0000"/>
<use href="#plus" x="124.2" y="591.2" fill="#FF0000" stroke="#FF0000"/>
<use href="#plus" x="124.4" y="591.2" fill="#FF0000" stroke="#FF0000"/>
<use href="#plus" x="124.7" y="591.2" fill="#FF0000" stroke="#FF0000"/>
<use href="#plus" x="125.0" y="591.2" fill="#FF0000" stroke="#FF0000"/>
<use href="#plus" x="125.3" y="591.2" fill="#FF0000" stroke="#FF0000"/>
<use href="#plus" x="125.6" y="591.2" fill="#FF0000" stroke="#FF0000"/>
<use href="#plus" x="126.0" y="591.2" fill="#FF0000" stroke="#FF0000"/>
<use href="#plus" x="126.3" y="591.2" fill="#FF0000" stroke="#FF0000"/>
<use href="#plus" x="126.7" y="591.2" fill="#FF0000" stroke="#FF0000"/>
<use href="#plus" x="127.2" y="591.2" fill="#FF0000" stroke="#FF0000"/>
<use href="#plus" x="127.6" y="591.2" fill="#FF0000" stroke="#FF0000"/>
<use href="#plus" x="128.1" y="591.2" fill="#FF0000" stroke="#FF0000"/>
<use href="#plus" x="128.7" y="591.2" fill="#FF0000" stroke="#FF0000"/>
<use href="#plus" x="129.2" y="591.2" fill="#FF0000" stroke="#FF0000"/>
<use href="#plus" x="129.8" y="591.2" fill="#FF0000" stroke="#FF0000"/>
<use href="#plus" x="130.5" y="591.2" fill="#FF0000" stroke="#FF0000"/>
<use href="#plus" x="131.2" y="591.2" fill="#FF0000" stroke="#FF0000"/>
<use href="#plus" x="131.9" y="591.2" fill="#FF0000" stroke="#FF0000"/>
<use href="#plus" x="132.7" y="591.2" fill="#FF0000" stroke="#FF0000"/>
<use href="#plus" x="133.6" y="591.2" fill="#FF0000" stroke="#FF0000"/>
<use href="#plus" x="134.5" y="591.2" fill="#FF0000" stroke="#FF0000"/>
<use href="#plus" x="135.5" y="591.2" fill="#FF0000" stroke="#FF0000"/>
<use href="#plus" x="136.6" y="591.1" fill="#FF0000" stroke="#FF0000"/>
<use href="#plus" x="137.7" y="591.1" fill="#FF0000" stroke="#FF0000"/>
<use href="#plus" x="138.9" y="591.1" fill="#FF0000" stroke="#FF0000"/>
<use href="#plus" x="140.2" y="591.1" fill="#FF0000" stroke="#FF0000"/>
<use href="#plus" x="141.7" y="591.1" fill="#FF0000" stroke="#FF0000"/>
<use href="#plus" x="143.2" y="591.1" fill="#FF0000" stroke="#FF0000"/>
<use href="#plus" x="144.8" y="591.1" fill="#FF0000" stroke="#FF0000"/>
<use href="#plus" x="146.5" y="591.1" fill="#FF0000" stroke="#FF0000"/>
<use href="#plus" x="148.4" y="591.1" fill="#FF0000" stroke="#FF0000"/>
<use href="#plus" x="150.4" y="591.1" fill="#FF0000" stroke="#FF0000"/>
<use href="#plus" x="152.5" y="591.1" fill="#FF0000" stroke="#FF0000"/>
<use href="#plus" x="154.8" y="591.1" fill="#FF0000" stroke="#FF0000"/>
<use href="#plus" x="157.2" y="591.1" fill="#FF0000" stroke="#FF0000"/>
<use href="#plus" x="159.9" y="591.1" fill="#FF0000" stroke="#FF0000"/>
<use href="#plus" x="162.7" y="591.1" fill="#FF0000" stroke="#FF0000"/>
<use href="#plus" x="165.7" y="591.1" fill="#FF0000" stroke="#FF0000"/>
<use href="#plus" x="169.0" y="591.0" fill="#FF0000" stroke="#FF0000"/>
<use href="#plus" x="172.4" y="591.0" fill="#FF0000" stroke="#FF0000"/>
<use href="#plus" x="176.2" y="591.0" fill="#FF0000" stroke="#FF0000"/>
<use href="#plus" x="180.2" y="591.0" fill="#FF0000" stroke="#FF0000"/>
<use href="#plus" x="184.5" y="591.0" fill="#FF0000" stroke="#FF0000"/>
<use href="#plus" x="189.1" y="590.8" fill="#FF0000" stroke="#FF0000"/>
<use href="#plus" x="194.0" y="590.7" fill="#FF0000" stroke="#FF0000"/>
<use href="#plus" x="199.3" y="590.5" fill="#FF0000" stroke="#FF0000"/>
<use href="#plus" x="205.0" y="590.3" fill="#FF0000" stroke="#FF0000"/>
<use href="#plus" x="211.1" y="590.2" fill="#FF0000" stroke="#FF0000"/>
<use href="#plus" x="217.6" y="590.0" fill="#FF0000" stroke="#FF0000"/>
<use href="#plus" x="224.6" y="589.8" fill="#FF0000" stroke="#FF0000"/>
<use href="#plus" x="232.1" y="589.5" fill="#FF0000" stroke="#FF0000"/>
<use href="#plus" x="240.1" y="589.3" fill="#FF0000" stroke="#FF0000"/>
<use href="#plus" x="248.7" y="589.0" fill="#FF0000" stroke="#FF0000"/>
<use href="#plus" x="258.0" y="589.0" fill="#FF0000" stroke="#FF0000"/>
<use href="#plus" x="267.9" y="589.0" fill="#FF0000" stroke="#FF0000"/>
<use href="#plus" x="278.5" y="589.0" fill="#FF0000" stroke="#FF0000"/>
<use href="#plus" x="289.9" y="589.0" fill="#FF0000" stroke="#FF0000"/>
<use href="#plus" x="302.1" y="588.9" fill="#FF0000" stroke="#FF0000"/>
<use href="#plus" x="315.3" y="588.9" fill="#FF0000" stroke="#FF0000"/>
<use href="#plus" x="329.3" y="588.9" fill="#FF0000" stroke="#FF0000"/>
<use href="#plus" x="344.4" y="588.7" fill="#FF0000" stroke="#FF0000"/>
<use href="#plus" x="360.5" y="588.6" fill="#FF0000" stroke="#FF0000"/>
<use href="#plus" x="377.9" y="588.4" fill="#FF0000" stroke="#FF0000"/>
<use href="#plus" x="396.4" y="588.2" fill="#FF0000" stroke="#FF0000"/>
<use href="#plus" x="416.4" y="587.9" fill="#FF0000" stroke="#FF0000"/>
<use href="#plus" x="437.7" y="587.7" fill="#FF0000" stroke="#FF0000"/>
<use href="#plus" x="460.6" y="587.4" fill="#FF0000" stroke="#FF0000"/>
<use href="#plus" x="485.2" y="587.2" fill="#FF0000" stroke="#FF0000"/>
<use href="#plus" x="511.5" y="587.0" fill="#FF0000" stroke="#FF0000"/>
<use href="#plus" x="539.7" y="586.9" fill="#FF0000" stroke="#FF0000"/>
<use href="#plus" x="570.0" y="586.9" fill="#FF0000" stroke="#FF0000"/>
<use href="#plus" x="602.5" y="586.9" fill="#FF0000" stroke="#FF0000"/>
<use href="#plus" x="637.3" y="586.8" fill="#FF0000" stroke="#FF0000"/>
<use href="#plus" x="674.6" y="586.8" fill="#FF0000" stroke="#FF0000"/>
<use href="#plus" x="714.6" y="586.7" fill="#FF0000" stroke="#FF0000"/>
<use href="#plus" x="757.5" y="586.6" fill="#FF0000" stroke="#FF0000"/>
<use href="#plus" x="803.6" y="586.6" fill="#FF0000" stroke="#FF0000"/>
<use href="#plus" x="852.9" y="586.5" fill="#FF0000" stroke="#FF0000"/>
<path d="M121.5,475.0V541.0M121.6,513.0V525.0M121.6,512.0V522.0M121.7,516.0V524.0M121.8,478.6V498.6M121.8,478.6V498.6M121.9,478.5V498.5M122.0,478.3V498.3M122.1,478.2V498.2M122.2,478.1V498.1M122.3,478.0V498.0M122.4,477.8V497.8M122.5,477.7V497.7M122.6,477.5V497.5M122.7,477.3V497.3M122.9,477.2V497.2M123.0,477.0V497.0M123.2,476.7V496.7M123.4,476.5V496.5M123.6,476.3V496.3M123.8,476.0V496.0M124.0,475.7V495.7M124.2,475.4V495.4M124.4,475.1V495.1M124.7,474.7V494.7M125.0,474.4V494.4M125.3,474.0V494.0M125.6,473.5V493.5M126.0,473.1V493.1M126.3,472.6V492.6M126.7,472.0V492.0M127.2,471.5V491.5M127.6,470.9V490.9M128.1,470.2V490.2M128.7,469.5V489.5M129.2,468.8V488.8M129.8,468.0V488.0M130.5,467.1V487.1M131.2,466.2V486.2M131.9,465.2V485.2M132.7,464.1V484.1M133.6,462.9V482.9M134.5,461.7V481.7M135.5,460.4V480.4M136.6,459.0V479.0M137.7,457.5V477.5M138.9,466.9V479.4M140.2,475.0V481.0M141.7,475.0V481.0M143.2,475.0V481.0M144.8,475.0V481.0M146.5,475.0V481.0M148.4,475.0V481.0M150.4,475.0V481.0M152.5,475.0V481.0M154.8,475.0V481.0M157.2,475.0V481.0M159.9,475.0V481.0M162.7,475.0V481.0M165.7,475.0V481.0M169.0,475.0V481.0M172.4,475.0V481.0M176.2,474.3V480.3M180.2,460.0V466.0M184.5,460.0V466.0M189.1,460.0V466.0M194.0,460.0V466.0M199.3,463.3V469.3M205.0,464.0V470.0M211.1,463.9V469.9M217.6,460.6V466.6M224.6,460.6V466.6M232.1,466.0V472.0M240.1,471.0V477.0M248.7,466.9V472.9M258.0,463.5V469.5M267.9,461.0V467.0M278.5,458.3V464.3M289.9,455.9V461.9M302.1,455.1V461.1M315.3,453.3V459.6M329.3,451.4V457.9M344.4,448.7V455.5M360.5,447.8V454.9M377.9,446.1V453.4M396.4,445.4V453.0M416.4,443.0V451.2M437.7,441.0V450.5M460.6,438.6V449.6M485.2,445.9V455.9M511.5,431.6V445.9M539.7,429.8V442.4M570.0,425.2V440.2M602.5,422.8V439.0M637.3,419.8V439.0M674.6,415.3V438.9M714.6,412.7V436.3M757.5,410.1V433.7M803.6,405.0V432.5M852.9,402.0V431.2" stroke="#0000FF" stroke-width="4.0" fill="none"/>
<path d="M114.9,475.0H128.1M114.9,541.0H128.1M115.0,513.0H128.2M115.0,525.0H128.2M115.0,512.0H128.2M115.0,522.0H128.2M115.1,516.0H128.3M115.1,524.0H128.3M115.2,478.6H128.4M115.2,498.6H128.4M115.2,478.6H128.4M115.2,498.6H128.4M115.3,478.5H128.5M115.3,498.5H128.5M115.4,478.3H128.6M115.4,498.3H128.6M115.5,478.2H128.7M115.5,498.2H128.7M115.6,478.1H128.8M115.6,498.1H128.8M115.7,478.0H128.9M115.7,498.0H128.9M115.8,477.8H129.0M115.8,497.8H129.0M115.9,477.7H129.1M115.9,497.7H129.1M116.0,477.5H129.2M116.0,497.5H129.2M116.1,477.3H129.3M116.1,497.3H129.3M116.3,477.2H129.5M116.3,497.2H129.5M116.4,477.0H129.6M116.4,497.0H129.6M116.6,476.7H129.8M116.6,496.7H129.8M116.8,476.5H130.0M116.8,496.5H130.0M117.0,476.3H130.2M117.0,496.3H130.2M117.2,476.0H130.4M117.2,496.0H130.4M117.4,475.7H130.6M117.4,495.7H130.6M117.6,475.4H130.8M117.6,495.4H130.8M117.8,475.1H131.0M117.8,495.1H131.0M118.1,474.7H131.3M118.1,494.7H131.3M118.4,474.4H131.6M118.4,494.4H131.6M118.7,474.0H131.9M118.7,494.0H131.9M119.0,473.5H132.2M119.0,493.5H132.2M119.4,473.1H132.6M119.4,493.1H132.6M119.7,472.6H132.9M119.7,492.6H132.9M120.1,472.0H133.3M120.1,492.0H133.3M120.6,471.5H133.8M120.6,491.5H133.8M121.0,470.9H134.2M121.0,490.9H134.2M121.5,470.2H134.7M121.5,490.2H134.7M122.1,469.5H135.3M122.1,489.5H135.3M122.6,468.8H135.8M122.6,488.8H135.8M123.2,468.0H136.4M123.2,488.0H136.4M123.9,467.1H137.1M123.9,487.1H137.1M124.6,466.2H137.8M124.6,486.2H137.8M125.3,465.2H138.5M125.3,485.2H138.5M126.1,464.1H139.3M126.1,484.1H139.3M127.0,462.9H140.2M127.0,482.9H140.2M127.9,461.7H141.1M127.9,481.7H141.1M128.9,460.4H142.1M128.9,480.4H142.1M130.0,459.0H143.2M130.0,479.0H143.2M131.1,457.5H144.3M131.1,477.5H144.3M132.3,466.9H145.5M132.3,479.4H145.5M133.6,475.0H146.8M133.6,481.0H146.8M135.1,475.0H148.3M135.1,481.0H148.3M136.6,475.0H149.8M136.6,481.0H149.8M138.2,475.0H151.4M138.2,481.0H151.4M139.9,475.0H153.1M139.9,481.0H153.1M141.8,475.0H155.0M141.8,481.0H155.0M143.8,475.0H157.0M143.8,481.0H157.0M145.9,475.0H159.1M145.9,481.0H159.1M148.2,475.0H161.4M148.2,481.0H161.4M150.6,475.0H163.8M150.6,481.0H163.8M153.3,475.0H166.5M153.3,481.0H166.5M156.1,475.0H169.3M156.1,481.0H169.3M159.1,475.0H172.3M159.1,481.0H172.3M162.4,475.0H175.6M162.4,481.0H175.6M165.8,475.0H179.0M165.8,481.0H179.0M169.6,474.3H182.8M169.6,480.3H182.8M173.6,460.0H186.8M173.6,466.0H186.8M177.9,460.0H191.1M177.9,466.0H191.1M182.5,460.0H195.7M182.5,466.0H195.7M187.4,460.0H200.6M187.4,466.0H200.6M192.7,463.3H205.9M192.7,469.3H205.9M198.4,464.0H211.6M198.4,470.0H211.6M204.5,463.9H217.7M204.5,469.9H217.7M211.0,460.6H224.2M211.0,466.6H224.2M218.0,460.6H231.2M218.0,466.6H231.2M225.5,466.0H238.7M225.5,472.0H238.7M233.5,471.0H246.7M233.5,477.0H246.7M242.1,466.9H255.3M242.1,472.9H255.3M251.4,463.5H264.6M251.4,469.5H264.6M261.3,461.0H274.5M261.3,467.0H274.5M271.9,458.3H285.1M271.9,464.3H285.1M283.3,455.9H296.5M283.3,461.9H296.5M295.5,455.1H308.7M295.5,461.1H308.7M308.7,453.3H321.9M308.7,459.6H321.9M322.7,451.4H335.9M322.7,457.9H335.9M337.8,448.7H351.0M337.8,455.5H351.0M353.9,447.8H367.1M353.9,454.9H367.1M371.3,446.1H384.5M371.3,453.4H384.5M389.8,445.4H403.0M389.8,453.0H403.0M409.8,443.0H423.0M409.8,451.2H423.0M431.1,441.0H444.3M431.1,450.5H444.3M454.0,438.6H467.2M454.0,449.6H467.2M478.6,445.9H491.8M478.6,455.9H491.8M504.9,431.6H518.1M504.9,445.9H518.1M533.1,429.8H546.3M533.1,442.4H546.3M563.4,425.2H576.6M563.4,440.2H576.6M595.9,422.8H609.1M595.9,439.0H609.1M630.7,419.8H643.9M630.7,439.0H643.9M668.0,415.3H681.2M668.0,438.9H681.2M708.0,412.7H721.2M708.0,436.3H721.2M750.9,410.1H764.1M750.9,433.7H764.1M797.0,405.0H810.2M797.0,432.5H810.2M846.3,402.0H859.5M846.3,431.2H859.5" stroke="#0000FF" stroke-width="3.2" fill="none"/>
<polyline points="121.5,508.0 121.6,519.0 121.6,517.0 121.7,520.0 121.8,488.6 121.8,488.6 121.9,488.5 122.0,488.3 122.1,488.2 122.2,488.1 122.3,488.0 122.4,487.8 122.5,487.7 122.6,487.5 122.7,487.3 122.9,487.2 123.0,487.0 123.2,486.7 123.4,486.5 123.6,486.3 123.8,486.0 124.0,485.7 124.2,485.4 124.4,485.1 124.7,484.7 125.0,484.4 125.3,484.0 125.6,483.5 126.0,483.1 126.3,482.6 126.7,482.0 127.2,481.5 127.6,480.9 128.1,480.2 128.7,479.5 129.2,478.8 129.8,478.0 130.5,477.1 131.2,476.2 131.9,475.2 132.7,474.1 133.6,472.9 134.5,471.7 135.5,470.4 136.6,469.0 137.7,467.5 138.9,473.1 140.2,478.0 141.7,478.0 143.2,478.0 144.8,478.0 146.5,478.0 148.4,478.0 150.4,478.0 152.5,478.0 154.8,478.0 157.2,478.0 159.9,478.0 162.7,478.0 165.7,478.0 169.0,478.0 172.4,478.0 176.2,477.3 180.2,463.0 184.5,463.0 189.1,463.0 194.0,463.0 199.3,466.3 205.0,467.0 211.1,466.9 217.6,463.6 224.6,463.6 232.1,469.0 240.1,474.0 248.7,469.9 258.0,466.5 267.9,464.0 278.5,461.3 289.9,458.9 302.1,458.1 315.3,456.5 329.3,454.7 344.4,452.1 360.5,451.4 377.9,449.7 396.4,449.2 416.4,447.1 437.7,445.7 460.6,444.1 485.2,450.9 511.5,438.7 539.7,436.1 570.0,432.7 602.5,430.9 637.3,429.4 674.6,427.1 714.6,424.5 757.5,421.9 803.6,418.8 852.9,416.6" stroke="#0000FF" stroke-width="2.2" fill="none"/>
<use href="#ast" x="121.5" y="508.0" fill="#0000FF" stroke="#0000FF"/>
<use href="#ast" x="121.6" y="519.0" fill="#0000FF" stroke="#0000FF"/>
<use href="#ast" x="121.6" y="517.0" fill="#0000FF" stroke="#0000FF"/>
<use href="#ast" x="121.7" y="520.0" fill="#0000FF" stroke="#0000FF"/>
<use href="#ast" x="121.8" y="488.6" fill="#0000FF" stroke="#0000FF"/>
<use href="#ast" x="121.8" y="488.6" fill="#0000FF" stroke="#0000FF"/>
<use href="#ast" x="121.9" y="488.5" fill="#0000FF" stroke="#0000FF"/>
<use href="#ast" x="122.0" y="488.3" fill="#0000FF" stroke="#0000FF"/>
<use href="#ast" x="122.1" y="488.2" fill="#0000FF" stroke="#0000FF"/>
<use href="#ast" x="122.2" y="488.1" fill="#0000FF" stroke="#0000FF"/>
<use href="#ast" x="122.3" y="488.0" fill="#0000FF" stroke="#0000FF"/>
<use href="#ast" x="122.4" y="487.8" fill="#0000FF" stroke="#0000FF"/>
<use href="#ast" x="122.5" y="487.7" fill="#0000FF" stroke="#0000FF"/>
<use href="#ast" x="122.6" y="487.5" fill="#0000FF" stroke="#0000FF"/>
<use href="#ast" x="122.7" y="487.3" fill="#0000FF" stroke="#0000FF"/>
<use href="#ast" x="122.9" y="487.2" fill="#0000FF" stroke="#0000FF"/>
<use href="#ast" x="123.0" y="487.0" fill="#0000FF" stroke="#0000FF"/>
<use href="#ast" x="123.2" y="486.7" fill="#0000FF" stroke="#0000FF"/>
<use href="#ast" x="123.4" y="486.5" fill="#0000FF" stroke="#0000FF"/>
<use href="#ast" x="123.6" y="486.3" fill="#0000FF" stroke="#0000FF"/>
<use href="#ast" x="123.8" y="486.0" fill="#0000FF" stroke="#0000FF"/>
<use href="#ast" x="124.0" y="485.7" fill="#0000FF" stroke="#0000FF"/>
<use href="#ast" x="124.2" y="485.4" fill="#0000FF" stroke="#0000FF"/>
<use href="#ast" x="124.4" y="485.1" fill="#0000FF" stroke="#0000FF"/>
<use href="#ast" x="124.7" y="484.7" fill="#0000FF" stroke="#0000FF"/>
<use href="#ast" x="125.0" y="484.4" fill="#0000FF" stroke="#0000FF"/>
<use href="#ast" x="125.3" y="484.0" fill="#0000FF" stroke="#0000FF"/>
<use href="#ast" x="125.6" y="483.5" fill="#0000FF" stroke="#0000FF"/>
<use href="#ast" x="126.0" y="483.1" fill="#0000FF" stroke="#0000FF"/>
<use href="#ast" x="126.3" y="482.6" fill="#0000FF" stroke="#0000FF"/>
<use href="#ast" x="126.7" y="482.0" fill="#0000FF" stroke="#0000FF"/>
<use href="#ast" x="127.2" y="481.5" fill="#0000FF" stroke="#0000FF"/>
<use href="#ast" x="127.6" y="480.9" fill="#0000FF" stroke="#0000FF"/>
<use href="#ast" x="128.1" y="480.2" fill="#0000FF" stroke="#0000FF"/>
<use href="#ast" x="128.7" y="479.5" fill="#0000FF" stroke="#0000FF"/>
<use href="#ast" x="129.2" y="478.8" fill="#0000FF" stroke="#0000FF"/>
<use href="#ast" x="129.8" y="478.0" fill="#0000FF" stroke="#0000FF"/>
<use href="#ast" x="130.5" y="477.1" fill="#0000FF" stroke="#0000FF"/>
<use href="#ast" x="131.2" y="476.2" fill="#0000FF" stroke="#0000FF"/>
<use href="#ast" x="131.9" y="475.2" fill="#0000FF" stroke="#0000FF"/>
<use href="#ast" x="132.7" y="474.1" fill="#0000FF" stroke="#0000FF"/>
<use href="#ast" x="133.6" y="472.9" fill="#0000FF" stroke="#0000FF"/>
<use href="#ast" x="134.5" y="471.7" fill="#0000FF" stroke="#0000FF"/>
<use href="#ast" x="135.5" y="470.4" fill="#0000FF" stroke="#0000FF"/>
<use href="#ast" x="136.6" y="469.0" fill="#0000FF" stroke="#0000FF"/>
<use href="#ast" x="137.7" y="467.5" fill="#0000FF" stroke="#0000FF"/>
<use href="#ast" x="138.9" y="473.1" fill="#0000FF" stroke="#0000FF"/>
<use href="#ast" x="140.2" y="478.0" fill="#0000FF" stroke="#0000FF"/>
<use href="#ast" x="141.7" y="478.0" fill="#0000FF" stroke="#0000FF"/>
<use href="#ast" x="143.2" y="478.0" fill="#0000FF" stroke="#0000FF"/>
<use href="#ast" x="144.8" y="478.0" fill="#0000FF" stroke="#0000FF"/>
<use href="#ast" x="146.5" y="478.0" fill="#0000FF" stroke="#0000FF"/>
<use href="#ast" x="148.4" y="478.0" fill="#0000FF" stroke="#0000FF"/>
<use href="#ast" x="150.4" y="478.0" fill="#0000FF" stroke="#0000FF"/>
<use href="#ast" x="152.5" y="478.0" fill="#0000FF" stroke="#0000FF"/>
<use href="#ast" x="154.8" y="478.0" fill="#0000FF" stroke="#0000FF"/>
<use href="#ast" x="157.2" y="478.0" fill="#0000FF" stroke="#0000FF"/>
<use href="#ast" x="159.9" y="478.0" fill="#0000FF" stroke="#0000FF"/>
<use href="#ast" x="162.7" y="478.0" fill="#0000FF" stroke="#0000FF"/>
<use href="#ast" x="165.7" y="478.0" fill="#0000FF" stroke="#0000FF"/>
<use href="#ast" x="169.0" y="478.0" fill="#0000FF" stroke="#0000FF"/>
<use href="#ast" x="172.4" y="478.0" fill="#0000FF" stroke="#0000FF"/>
<use href="#ast" x="176.2" y="477.3" fill="#0000FF" stroke="#0000FF"/>
<use href="#ast" x="180.2" y="463.0" fill="#0000FF" stroke="#0000FF"/>
<use href="#ast" x="184.5" y="463.0" fill="#0000FF" stroke="#0000FF"/>
<use href="#ast" x="189.1" y="463.0" fill="#0000FF" stroke="#0000FF"/>
<use href="#ast" x="194.0" y="463.0" fill="#0000FF" stroke="#0000FF"/>
<use href="#ast" x="199.3" y="466.3" fill="#0000FF" stroke="#0000FF"/>
<use href="#ast" x="205.0" y="467.0" fill="#0000FF" stroke="#0000FF"/>
<use href="#ast" x="211.1" y="466.9" fill="#0000FF" stroke="#0000FF"/>
<use href="#ast" x="217.6" y="463.6" fill="#0000FF" stroke="#0000FF"/>
<use href="#ast" x="224.6" y="463.6" fill="#0000FF" stroke="#0000FF"/>
<use href="#ast" x="232.1" y="469.0" fill="#0000FF" stroke="#0000FF"/>
<use href="#ast" x="240.1" y="474.0" fill="#0000FF" stroke="#0000FF"/>
<use href="#ast" x="248.7" y="469.9" fill="#0000FF" stroke="#0000FF"/>
<use href="#ast" x="258.0" y="466.5" fill="#0000FF" stroke="#0000FF"/>
<use href="#ast" x="267.9" y="464.0" fill="#0000FF" stroke="#0000FF"/>
<use href="#ast" x="278.5" y="461.3" fill="#0000FF" stroke="#0000FF"/>
<use href="#ast" x="289.9" y="458.9" fill="#0000FF" stroke="#0000FF"/>
<use href="#ast" x="302.1" y="458.1" fill="#0000FF" stroke="#0000FF"/>
<use href="#ast" x="315.3" y="456.5" fill="#0000FF" stroke="#0000FF"/>
<use href="#ast" x="329.3" y="454.7" fill="#0000FF" stroke="#0000FF"/>
<use href="#ast" x="344.4" y="452.1" fill="#0000FF" stroke="#0000FF"/>
<use href="#ast" x="360.5" y="451.4" fill="#0000FF" stroke="#0000FF"/>
<use href="#ast" x="377.9" y="449.7" fill="#0000FF" stroke="#0000FF"/>
<use href="#ast" x="396.4" y="449.2" fill="#0000FF" stroke="#0000FF"/>
<use href="#ast" x="416.4" y="447.1" fill="#0000FF" stroke="#0000FF"/>
<use href="#ast" x="437.7" y="445.7" fill="#0000FF" stroke="#0000FF"/>
<use href="#ast" x="460.6" y="444.1" fill="#0000FF" stroke="#0000FF"/>
<use href="#ast" x="485.2" y="450.9" fill="#0000FF" stroke="#0000FF"/>
<use href="#ast" x="511.5" y="438.7" fill="#0000FF" stroke="#0000FF"/>
<use href="#ast" x="539.7" y="436.1" fill="#0000FF" stroke="#0000FF"/>
<use href="#ast" x="570.0" y="432.7" fill="#0000FF" stroke="#0000FF"/>
<use href="#ast" x="602.5" y="430.9" fill="#0000FF" stroke="#0000FF"/>
<use href="#ast" x="637.3" y="429.4" fill="#0000FF" stroke="#0000FF"/>
<use href="#ast" x="674.6" y="427.1" fill="#0000FF" stroke="#0000FF"/>
<use href="#ast" x="714.6" y="424.5" fill="#0000FF" stroke="#0000FF"/>
<use href="#ast" x="757.5" y="421.9" fill="#0000FF" stroke="#0000FF"/>
<use href="#ast" x="803.6" y="418.8" fill="#0000FF" stroke="#0000FF"/>
<use href="#ast" x="852.9" y="416.6" fill="#0000FF" stroke="#0000FF"/>
<path d="M121.5,551.4V574.8M121.6,551.4V574.8M121.6,551.4V574.8M121.7,551.3V574.8M121.8,551.3V574.8M121.8,551.3V574.8M121.9,551.3V574.8M122.0,551.2V574.8M122.1,551.2V574.8M122.2,551.2V574.8M122.3,551.1V574.8M122.4,551.1V574.8M122.5,551.1V574.8M122.6,551.0V574.8M122.7,551.0V574.8M122.9,550.9V574.8M123.0,550.9V574.8M123.2,550.8V574.8M123.4,550.7V574.8M123.6,550.7V574.8M123.8,550.6V574.8M124.0,550.5V574.8M124.2,550.4V574.8M124.4,550.3V574.8M124.7,550.3V574.8M125.0,550.1V574.8M125.3,550.0V574.8M125.6,549.9V574.8M126.0,549.8V574.8M126.3,549.7V574.8M126.7,549.5V574.8M127.2,549.4V574.8M127.6,549.2V574.8M128.1,549.0V574.8M128.7,548.8V574.8M129.2,548.6V574.8M129.8,548.4V574.8M130.5,548.2V574.8M131.2,547.9V574.8M131.9,547.6V574.8M132.7,547.3V574.8M133.6,547.0V574.8M134.5,546.7V574.8M135.5,546.3V574.8M136.6,545.9V574.8M137.7,545.5V574.8M138.9,545.0V574.8M140.2,544.5V574.8M141.7,544.0V574.8M143.2,543.4V574.8M144.8,542.8V574.8M146.5,542.2V574.8M148.4,541.8V574.8M150.4,541.5V574.8M152.5,541.2V574.8M154.8,540.8V574.8M157.2,540.4V574.8M159.9,540.0V574.8M162.7,539.6V574.8M165.7,539.1V574.9M169.0,538.6V574.9M172.4,538.1V574.9M176.2,537.5V574.9M180.2,536.9V574.9M184.5,536.2V574.9M189.1,535.4V574.9M194.0,534.5V574.9M199.3,533.6V574.9M205.0,532.6V574.9M211.1,531.6V574.9M217.6,530.8V574.9M224.6,529.9V574.9M232.1,529.0V574.9M240.1,528.0V574.9M248.7,527.4V574.9M258.0,527.1V574.9M267.9,526.8V574.8M278.5,526.6V574.8M289.9,526.4V574.7M302.1,526.3V574.7M315.3,526.1V574.6M329.3,525.9V574.5M344.4,525.8V574.5M360.5,525.6V574.4M377.9,525.4V574.3M396.4,525.1V574.2M416.4,524.9V574.1M437.7,524.6V574.0M460.6,524.3V573.9M485.2,523.9V573.7M511.5,523.5V573.6M539.7,523.1V573.5M570.0,522.7V573.3M602.5,522.1V573.0M637.3,521.4V572.7M674.6,520.7V572.4M714.6,519.9V572.0M757.5,519.1V571.6M803.6,518.2V571.2M852.9,517.2V570.8" stroke="#56A2FF" stroke-width="4.0" fill="none"/>
<path d="M114.9,551.4H128.1M114.9,574.8H128.1M115.0,551.4H128.2M115.0,574.8H128.2M115.0,551.4H128.2M115.0,574.8H128.2M115.1,551.3H128.3M115.1,574.8H128.3M115.2,551.3H128.4M115.2,574.8H128.4M115.2,551.3H128.4M115.2,574.8H128.4M115.3,551.3H128.5M115.3,574.8H128.5M115.4,551.2H128.6M115.4,574.8H128.6M115.5,551.2H128.7M115.5,574.8H128.7M115.6,551.2H128.8M115.6,574.8H128.8M115.7,551.1H128.9M115.7,574.8H128.9M115.8,551.1H129.0M115.8,574.8H129.0M115.9,551.1H129.1M115.9,574.8H129.1M116.0,551.0H129.2M116.0,574.8H129.2M116.1,551.0H129.3M116.1,574.8H129.3M116.3,550.9H129.5M116.3,574.8H129.5M116.4,550.9H129.6M116.4,574.8H129.6M116.6,550.8H129.8M116.6,574.8H129.8M116.8,550.7H130.0M116.8,574.8H130.0M117.0,550.7H130.2M117.0,574.8H130.2M117.2,550.6H130.4M117.2,574.8H130.4M117.4,550.5H130.6M117.4,574.8H130.6M117.6,550.4H130.8M117.6,574.8H130.8M117.8,550.3H131.0M117.8,574.8H131.0M118.1,550.3H131.3M118.1,574.8H131.3M118.4,550.1H131.6M118.4,574.8H131.6M118.7,550.0H131.9M118.7,574.8H131.9M119.0,549.9H132.2M119.0,574.8H132.2M119.4,549.8H132.6M119.4,574.8H132.6M119.7,549.7H132.9M119.7,574.8H132.9M120.1,549.5H133.3M120.1,574.8H133.3M120.6,549.4H133.8M120.6,574.8H133.8M121.0,549.2H134.2M121.0,574.8H134.2M121.5,549.0H134.7M121.5,574.8H134.7M122.1,548.8H135.3M122.1,574.8H135.3M122.6,548.6H135.8M122.6,574.8H135.8M123.2,548.4H136.4M123.2,574.8H136.4M123.9,548.2H137.1M123.9,574.8H137.1M124.6,547.9H137.8M124.6,574.8H137.8M125.3,547.6H138.5M125.3,574.8H138.5M126.1,547.3H139.3M126.1,574.8H139.3M127.0,547.0H140.2M127.0,574.8H140.2M127.9,546.7H141.1M127.9,574.8H141.1M128.9,546.3H142.1M128.9,574.8H142.1M130.0,545.9H143.2M130.0,574.8H143.2M131.1,545.5H144.3M131.1,574.8H144.3M132.3,545.0H145.5M132.3,574.8H145.5M133.6,544.5H146.8M133.6,574.8H146.8M135.1,544.0H148.3M135.1,574.8H148.3M136.6,543.4H149.8M136.6,574.8H149.8M138.2,542.8H151.4M138.2,574.8H151.4M139.9,542.2H153.1M139.9,574.8H153.1M141.8,541.8H155.0M141.8,574.8H155.0M143.8,541.5H157.0M143.8,574.8H157.0M145.9,541.2H159.1M145.9,574.8H159.1M148.2,540.8H161.4M148.2,574.8H161.4M150.6,540.4H163.8M150.6,574.8H163.8M153.3,540.0H166.5M153.3,574.8H166.5M156.1,539.6H169.3M156.1,574.8H169.3M159.1,539.1H172.3M159.1,574.9H172.3M162.4,538.6H175.6M162.4,574.9H175.6M165.8,538.1H179.0M165.8,574.9H179.0M169.6,537.5H182.8M169.6,574.9H182.8M173.6,536.9H186.8M173.6,574.9H186.8M177.9,536.2H191.1M177.9,574.9H191.1M182.5,535.4H195.7M182.5,574.9H195.7M187.4,534.5H200.6M187.4,574.9H200.6M192.7,533.6H205.9M192.7,574.9H205.9M198.4,532.6H211.6M198.4,574.9H211.6M204.5,531.6H217.7M204.5,574.9H217.7M211.0,530.8H224.2M211.0,574.9H224.2M218.0,529.9H231.2M218.0,574.9H231.2M225.5,529.0H238.7M225.5,574.9H238.7M233.5,528.0H246.7M233.5,574.9H246.7M242.1,527.4H255.3M242.1,574.9H255.3M251.4,527.1H264.6M251.4,574.9H264.6M261.3,526.8H274.5M261.3,574.8H274.5M271.9,526.6H285.1M271.9,574.8H285.1M283.3,526.4H296.5M283.3,574.7H296.5M295.5,526.3H308.7M295.5,574.7H308.7M308.7,526.1H321.9M308.7,574.6H321.9M322.7,525.9H335.9M322.7,574.5H335.9M337.8,525.8H351.0M337.8,574.5H351.0M353.9,525.6H367.1M353.9,574.4H367.1M371.3,525.4H384.5M371.3,574.3H384.5M389.8,525.1H403.0M389.8,574.2H403.0M409.8,524.9H423.0M409.8,574.1H423.0M431.1,524.6H444.3M431.1,574.0H444.3M454.0,524.3H467.2M454.0,573.9H467.2M478.6,523.9H491.8M478.6,573.7H491.8M504.9,523.5H518.1M504.9,573.6H518.1M533.1,523.1H546.3M533.1,573.5H546.3M563.4,522.7H576.6M563.4,573.3H576.6M595.9,522.1H609.1M595.9,573.0H609.1M630.7,521.4H643.9M630.7,572.7H643.9M668.0,520.7H681.2M668.0,572.4H681.2M708.0,519.9H721.2M708.0,572.0H721.2M750.9,519.1H764.1M750.9,571.6H764.1M797.0,518.2H810.2M797.0,571.2H810.2M846.3,517.2H859.5M846.3,570.8H859.5" stroke="#56A2FF" stroke-width="3.2" fill="none"/>
<polyline points="121.5,563.1 121.6,563.1 121.6,563.1 121.7,563.1 121.8,563.1 121.8,563.0 121.9,563.0 122.0,563.0 122.1,563.0 122.2,563.0 122.3,563.0 122.4,562.9 122.5,562.9 122.6,562.9 122.7,562.9 122.9,562.9 123.0,562.8 123.2,562.8 123.4,562.8 123.6,562.7 123.8,562.7 124.0,562.7 124.2,562.6 124.4,562.6 124.7,562.5 125.0,562.5 125.3,562.4 125.6,562.4 126.0,562.3 126.3,562.2 126.7,562.2 127.2,562.1 127.6,562.0 128.1,561.9 128.7,561.8 129.2,561.7 129.8,561.6 130.5,561.5 131.2,561.3 131.9,561.2 132.7,561.1 133.6,560.9 134.5,560.7 135.5,560.5 136.6,560.3 137.7,560.1 138.9,559.9 140.2,559.7 141.7,559.4 143.2,559.1 144.8,558.8 146.5,558.5 148.4,558.3 150.4,558.1 152.5,558.0 154.8,557.8 157.2,557.6 159.9,557.4 162.7,557.2 165.7,557.0 169.0,556.8 172.4,556.5 176.2,556.2 180.2,555.9 184.5,555.5 189.1,555.1 194.0,554.7 199.3,554.3 205.0,553.8 211.1,553.2 217.6,552.8 224.6,552.4 232.1,551.9 240.1,551.4 248.7,551.1 258.0,551.0 267.9,550.8 278.5,550.7 289.9,550.6 302.1,550.5 315.3,550.4 329.3,550.2 344.4,550.1 360.5,550.0 377.9,549.8 396.4,549.7 416.4,549.5 437.7,549.3 460.6,549.1 485.2,548.8 511.5,548.6 539.7,548.3 570.0,548.0 602.5,547.5 637.3,547.0 674.6,546.5 714.6,546.0 757.5,545.3 803.6,544.7 852.9,544.0" stroke="#56A2FF" stroke-width="2.2" fill="none"/>
<use href="#plus" x="121.5" y="563.1" fill="#56A2FF" stroke="#56A2FF"/>
<use href="#plus" x="121.6" y="563.1" fill="#56A2FF" stroke="#56A2FF"/>
<use href="#plus" x="121.6" y="563.1" fill="#56A2FF" stroke="#56A2FF"/>
<use href="#plus" x="121.7" y="563.1" fill="#56A2FF" stroke="#56A2FF"/>
<use href="#plus" x="121.8" y="563.1" fill="#56A2FF" stroke="#56A2FF"/>
<use href="#plus" x="121.8" y="563.0" fill="#56A2FF" stroke="#56A2FF"/>
<use href="#plus" x="121.9" y="563.0" fill="#56A2FF" stroke="#56A2FF"/>
<use href="#plus" x="122.0" y="563.0" fill="#56A2FF" stroke="#56A2FF"/>
<use href="#plus" x="122.1" y="563.0" fill="#56A2FF" stroke="#56A2FF"/>
<use href="#plus" x="122.2" y="563.0" fill="#56A2FF" stroke="#56A2FF"/>
<use href="#plus" x="122.3" y="563.0" fill="#56A2FF" stroke="#56A2FF"/>
<use href="#plus" x="122.4" y="562.9" fill="#56A2FF" stroke="#56A2FF"/>
<use href="#plus" x="122.5" y="562.9" fill="#56A2FF" stroke="#56A2FF"/>
<use href="#plus" x="122.6" y="562.9" fill="#56A2FF" stroke="#56A2FF"/>
<use href="#plus" x="122.7" y="562.9" fill="#56A2FF" stroke="#56A2FF"/>
<use href="#plus" x="122.9" y="562.9" fill="#56A2FF" stroke="#56A2FF"/>
<use href="#plus" x="123.0" y="562.8" fill="#56A2FF" stroke="#56A2FF"/>
<use href="#plus" x="123.2" y="562.8" fill="#56A2FF" stroke="#56A2FF"/>
<use href="#plus" x="123.4" y="562.8" fill="#56A2FF" stroke="#56A2FF"/>
<use href="#plus" x="123.6" y="562.7" fill="#56A2FF" stroke="#56A2FF"/>
<use href="#plus" x="123.8" y="562.7" fill="#56A2FF" stroke="#56A2FF"/>
<use href="#plus" x="124.0" y="562.7" fill="#56A2FF" stroke="#56A2FF"/>
<use href="#plus" x="124.2" y="562.6" fill="#56A2FF" stroke="#56A2FF"/>
<use href="#plus" x="124.4" y="562.6" fill="#56A2FF" stroke="#56A2FF"/>
<use href="#plus" x="124.7" y="562.5" fill="#56A2FF" stroke="#56A2FF"/>
<use href="#plus" x="125.0" y="562.5" fill="#56A2FF" stroke="#56A2FF"/>
<use href="#plus" x="125.3" y="562.4" fill="#56A2FF" stroke="#56A2FF"/>
<use href="#plus" x="125.6" y="562.4" fill="#56A2FF" stroke="#56A2FF"/>
<use href="#plus" x="126.0" y="562.3" fill="#56A2FF" stroke="#56A2FF"/>
<use href="#plus" x="126.3" y="562.2" fill="#56A2FF" stroke="#56A2FF"/>
<use href="#plus" x="126.7" y="562.2" fill="#56A2FF" stroke="#56A2FF"/>
<use href="#plus" x="127.2" y="562.1" fill="#56A2FF" stroke="#56A2FF"/>
<use href="#plus" x="127.6" y="562.0" fill="#56A2FF" stroke="#56A2FF"/>
<use href="#plus" x="128.1" y="561.9" fill="#56A2FF" stroke="#56A2FF"/>
<use href="#plus" x="128.7" y="561.8" fill="#56A2FF" stroke="#56A2FF"/>
<use href="#plus" x="129.2" y="561.7" fill="#56A2FF" stroke="#56A2FF"/>
<use href="#plus" x="129.8" y="561.6" fill="#56A2FF" stroke="#56A2FF"/>
<use href="#plus" x="130.5" y="561.5" fill="#56A2FF" stroke="#56A2FF"/>
<use href="#plus" x="131.2" y="561.3" fill="#56A2FF" stroke="#56A2FF"/>
<use href="#plus" x="131.9" y="561.2" fill="#56A2FF" stroke="#56A2FF"/>
<use href="#plus" x="132.7" y="561.1" fill="#56A2FF" stroke="#56A2FF"/>
<use href="#plus" x="133.6" y="560.9" fill="#56A2FF" stroke="#56A2FF"/>
<use href="#plus" x="134.5" y="560.7" fill="#56A2FF" stroke="#56A2FF"/>
<use href="#plus" x="135.5" y="560.5" fill="#56A2FF" stroke="#56A2FF"/>
<use href="#plus" x="136.6" y="560.3" fill="#56A2FF" stroke="#56A2FF"/>
<use href="#plus" x="137.7" y="560.1" fill="#56A2FF" stroke="#56A2FF"/>
<use href="#plus" x="138.9" y="559.9" fill="#56A2FF" stroke="#56A2FF"/>
<use href="#plus" x="140.2" y="559.7" fill="#56A2FF" stroke="#56A2FF"/>
<use href="#plus" x="141.7" y="559.4" fill="#56A2FF" stroke="#56A2FF"/>
<use href="#plus" x="143.2" y="559.1" fill="#56A2FF" stroke="#56A2FF"/>
<use href="#plus" x="144.8" y="558.8" fill="#56A2FF" stroke="#56A2FF"/>
<use href="#plus" x="146.5" y="558.5" fill="#56A2FF" stroke="#56A2FF"/>
<use href="#plus" x="148.4" y="558.3" fill="#56A2FF" stroke="#56A2FF"/>
<use href="#plus" x="150.4" y="558.1" fill="#56A2FF" stroke="#56A2FF"/>
<use href="#plus" x="152.5" y="558.0" fill="#56A2FF" stroke="#56A2FF"/>
<use href="#plus" x="154.8" y="557.8" fill="#56A2FF" stroke="#56A2FF"/>
<use href="#plus" x="157.2" y="557.6" fill="#56A2FF" stroke="#56A2FF"/>
<use href="#plus" x="159.9" y="557.4" fill="#56A2FF" stroke="#56A2FF"/>
<use href="#plus" x="162.7" y="557.2" fill="#56A2FF" stroke="#56A2FF"/>
<use href="#plus" x="165.7" y="557.0" fill="#56A2FF" stroke="#56A2FF"/>
<use href="#plus" x="169.0" y="556.8" fill="#56A2FF" stroke="#56A2FF"/>
<use href="#plus" x="172.4" y="556.5" fill="#56A2FF" stroke="#56A2FF"/>
<use href="#plus" x="176.2" y="556.2" fill="#56A2FF" stroke="#56A2FF"/>
<use href="#plus" x="180.2" y="555.9" fill="#56A2FF" stroke="#56A2FF"/>
<use href="#plus" x="184.5" y="555.5" fill="#56A2FF" stroke="#56A2FF"/>
<use href="#plus" x="189.1" y="555.1" fill="#56A2FF" stroke="#56A2FF"/>
<use href="#plus" x="194.0" y="554.7" fill="#56A2FF" stroke="#56A2FF"/>
<use href="#plus" x="199.3" y="554.3" fill="#56A2FF" stroke="#56A2FF"/>
<use href="#plus" x="205.0" y="553.8" fill="#56A2FF" stroke="#56A2FF"/>
<use href="#plus" x="211.1" y="553.2" fill="#56A2FF" stroke="#56A2FF"/>
<use href="#plus" x="217.6" y="552.8" fill="#56A2FF" stroke="#56A2FF"/>
<use href="#plus" x="224.6" y="552.4" fill="#56A2FF" stroke="#56A2FF"/>
<use href="#plus" x="232.1" y="551.9" fill="#56A2FF" stroke="#56A2FF"/>
<use href="#plus" x="240.1" y="551.4" fill="#56A2FF" stroke="#56A2FF"/>
<use href="#plus" x="248.7" y="551.1" fill="#56A2FF" stroke="#56A2FF"/>
<use href="#plus" x="258.0" y="551.0" fill="#56A2FF" stroke="#56A2FF"/>
<use href="#plus" x="267.9" y="550.8" fill="#56A2FF" stroke="#56A2FF"/>
<use href="#plus" x="278.5" y="550.7" fill="#56A2FF" stroke="#56A2FF"/>
<use href="#plus" x="289.9" y="550.6" fill="#56A2FF" stroke="#56A2FF"/>
<use href="#plus" x="302.1" y="550.5" fill="#56A2FF" stroke="#56A2FF"/>
<use href="#plus" x="315.3" y="550.4" fill="#56A2FF" stroke="#56A2FF"/>
<use href="#plus" x="329.3" y="550.2" fill="#56A2FF" stroke="#56A2FF"/>
<use href="#plus" x="344.4" y="550.1" fill="#56A2FF" stroke="#56A2FF"/>
<use href="#plus" x="360.5" y="550.0" fill="#56A2FF" stroke="#56A2FF"/>
<use href="#plus" x="377.9" y="549.8" fill="#56A2FF" stroke="#56A2FF"/>
<use href="#plus" x="396.4" y="549.7" fill="#56A2FF" stroke="#56A2FF"/>
<use href="#plus" x="416.4" y="549.5" fill="#56A2FF" stroke="#56A2FF"/>
<use href="#plus" x="437.7" y="549.3" fill="#56A2FF" stroke="#56A2FF"/>
<use href="#plus" x="460.6" y="549.1" fill="#56A2FF" stroke="#56A2FF"/>
<use href="#plus" x="485.2" y="548.8" fill="#56A2FF" stroke="#56A2FF"/>
<use href="#plus" x="511.5" y="548.6" fill="#56A2FF" stroke="#56A2FF"/>
<use href="#plus" x="539.7" y="548.3" fill="#56A2FF" stroke="#56A2FF"/>
<use href="#plus" x="570.0" y="548.0" fill="#56A2FF" stroke="#56A2FF"/>
<use href="#plus" x="602.5" y="547.5" fill="#56A2FF" stroke="#56A2FF"/>
<use href="#plus" x="637.3" y="547.0" fill="#56A2FF" stroke="#56A2FF"/>
<use href="#plus" x="674.6" y="546.5" fill="#56A2FF" stroke="#56A2FF"/>
<use href="#plus" x="714.6" y="546.0" fill="#56A2FF" stroke="#56A2FF"/>
<use href="#plus" x="757.5" y="545.3" fill="#56A2FF" stroke="#56A2FF"/>
<use href="#plus" x="803.6" y="544.7" fill="#56A2FF" stroke="#56A2FF"/>
<use href="#plus" x="852.9" y="544.0" fill="#56A2FF" stroke="#56A2FF"/>
<path d="M121.5,486.8V512.5M121.6,486.8V512.4M121.6,486.8V512.4M121.7,486.8V512.3M121.8,486.7V512.2M121.8,486.7V512.2M121.9,486.7V512.1M122.0,486.7V512.0M122.1,486.6V511.9M122.2,486.6V511.8M122.3,486.6V511.7M122.4,486.5V511.6M122.5,486.5V511.5M122.6,486.5V511.4M122.7,486.4V511.3M122.9,486.4V511.1M123.0,486.3V511.0M123.2,486.3V510.8M123.4,486.2V510.6M123.6,486.1V510.4M123.8,486.1V510.2M124.0,486.0V510.0M124.2,485.9V509.8M124.4,485.9V509.6M124.7,485.8V509.3M125.0,485.7V509.0M125.3,485.6V508.7M125.6,485.5V508.4M126.0,485.3V508.0M126.3,485.2V507.7M126.7,485.1V507.3M127.2,484.9V506.8M127.6,484.8V506.4M128.1,484.6V505.9M128.7,484.4V505.3M129.2,484.3V504.8M129.8,484.1V504.2M130.5,483.8V503.5M131.2,483.6V502.8M131.9,483.4V502.1M132.7,483.1V501.3M133.6,482.9V500.5M134.5,482.8V499.7M135.5,482.6V498.9M136.6,482.5V498.0M137.7,482.3V497.0M138.9,482.1V496.0M140.2,481.9V494.8M141.7,481.7V493.6M143.2,481.5V492.5M144.8,481.4V492.4M146.5,481.2V492.2M148.4,481.1V492.1M150.4,480.9V491.9M152.5,480.8V491.8M154.8,480.6V491.6M157.2,480.4V491.4M159.9,480.2V491.2M162.7,480.0V491.0M165.7,479.7V490.7M169.0,479.5V490.5M172.4,479.2V490.2M176.2,478.9V489.9M180.2,478.6V489.6M184.5,478.2V489.2M189.1,478.0V489.0M194.0,477.8V488.8M199.3,477.5V488.5M205.0,477.2V488.2M211.1,476.9V487.9M217.6,476.6V487.6M224.6,476.3V487.3M232.1,475.6V486.8M240.1,474.6V486.1M248.7,473.6V485.3M258.0,472.4V484.7M267.9,471.1V484.3M278.5,469.8V483.9M289.9,468.3V483.4M302.1,466.6V483.1M315.3,463.8V483.7M329.3,460.9V484.3M344.4,458.2V484.8M360.5,457.9V484.6M377.9,457.6V484.4M396.4,456.6V483.5M416.4,455.4V482.6M437.7,454.1V482.9M460.6,452.7V483.3M485.2,451.2V483.7M511.5,449.6V484.1M539.7,447.9V484.6M570.0,446.1V485.0M602.5,444.1V485.6M637.3,442.0V486.1M674.6,438.9V485.9M714.6,437.4V485.8M757.5,435.1V486.1M803.6,431.5V485.5M852.9,430.2V485.8" stroke="#000000" stroke-width="4.0" fill="none"/>
<path d="M114.9,486.8H128.1M114.9,512.5H128.1M115.0,486.8H128.2M115.0,512.4H128.2M115.0,486.8H128.2M115.0,512.4H128.2M115.1,486.8H128.3M115.1,512.3H128.3M115.2,486.7H128.4M115.2,512.2H128.4M115.2,486.7H128.4M115.2,512.2H128.4M115.3,486.7H128.5M115.3,512.1H128.5M115.4,486.7H128.6M115.4,512.0H128.6M115.5,486.6H128.7M115.5,511.9H128.7M115.6,486.6H128.8M115.6,511.8H128.8M115.7,486.6H128.9M115.7,511.7H128.9M115.8,486.5H129.0M115.8,511.6H129.0M115.9,486.5H129.1M115.9,511.5H129.1M116.0,486.5H129.2M116.0,511.4H129.2M116.1,486.4H129.3M116.1,511.3H129.3M116.3,486.4H129.5M116.3,511.1H129.5M116.4,486.3H129.6M116.4,511.0H129.6M116.6,486.3H129.8M116.6,510.8H129.8M116.8,486.2H130.0M116.8,510.6H130.0M117.0,486.1H130.2M117.0,510.4H130.2M117.2,486.1H130.4M117.2,510.2H130.4M117.4,486.0H130.6M117.4,510.0H130.6M117.6,485.9H130.8M117.6,509.8H130.8M117.8,485.9H131.0M117.8,509.6H131.0M118.1,485.8H131.3M118.1,509.3H131.3M118.4,485.7H131.6M118.4,509.0H131.6M118.7,485.6H131.9M118.7,508.7H131.9M119.0,485.5H132.2M119.0,508.4H132.2M119.4,485.3H132.6M119.4,508.0H132.6M119.7,485.2H132.9M119.7,507.7H132.9M120.1,485.1H133.3M120.1,507.3H133.3M120.6,484.9H133.8M120.6,506.8H133.8M121.0,484.8H134.2M121.0,506.4H134.2M121.5,484.6H134.7M121.5,505.9H134.7M122.1,484.4H135.3M122.1,505.3H135.3M122.6,484.3H135.8M122.6,504.8H135.8M123.2,484.1H136.4M123.2,504.2H136.4M123.9,483.8H137.1M123.9,503.5H137.1M124.6,483.6H137.8M124.6,502.8H137.8M125.3,483.4H138.5M125.3,502.1H138.5M126.1,483.1H139.3M126.1,501.3H139.3M127.0,482.9H140.2M127.0,500.5H140.2M127.9,482.8H141.1M127.9,499.7H141.1M128.9,482.6H142.1M128.9,498.9H142.1M130.0,482.5H143.2M130.0,498.0H143.2M131.1,482.3H144.3M131.1,497.0H144.3M132.3,482.1H145.5M132.3,496.0H145.5M133.6,481.9H146.8M133.6,494.8H146.8M135.1,481.7H148.3M135.1,493.6H148.3M136.6,481.5H149.8M136.6,492.5H149.8M138.2,481.4H151.4M138.2,492.4H151.4M139.9,481.2H153.1M139.9,492.2H153.1M141.8,481.1H155.0M141.8,492.1H155.0M143.8,480.9H157.0M143.8,491.9H157.0M145.9,480.8H159.1M145.9,491.8H159.1M148.2,480.6H161.4M148.2,491.6H161.4M150.6,480.4H163.8M150.6,491.4H163.8M153.3,480.2H166.5M153.3,491.2H166.5M156.1,480.0H169.3M156.1,491.0H169.3M159.1,479.7H172.3M159.1,490.7H172.3M162.4,479.5H175.6M162.4,490.5H175.6M165.8,479.2H179.0M165.8,490.2H179.0M169.6,478.9H182.8M169.6,489.9H182.8M173.6,478.6H186.8M173.6,489.6H186.8M177.9,478.2H191.1M177.9,489.2H191.1M182.5,478.0H195.7M182.5,489.0H195.7M187.4,477.8H200.6M187.4,488.8H200.6M192.7,477.5H205.9M192.7,488.5H205.9M198.4,477.2H211.6M198.4,488.2H211.6M204.5,476.9H217.7M204.5,487.9H217.7M211.0,476.6H224.2M211.0,487.6H224.2M218.0,476.3H231.2M218.0,487.3H231.2M225.5,475.6H238.7M225.5,486.8H238.7M233.5,474.6H246.7M233.5,486.1H246.7M242.1,473.6H255.3M242.1,485.3H255.3M251.4,472.4H264.6M251.4,484.7H264.6M261.3,471.1H274.5M261.3,484.3H274.5M271.9,469.8H285.1M271.9,483.9H285.1M283.3,468.3H296.5M283.3,483.4H296.5M295.5,466.6H308.7M295.5,483.1H308.7M308.7,463.8H321.9M308.7,483.7H321.9M322.7,460.9H335.9M322.7,484.3H335.9M337.8,458.2H351.0M337.8,484.8H351.0M353.9,457.9H367.1M353.9,484.6H367.1M371.3,457.6H384.5M371.3,484.4H384.5M389.8,456.6H403.0M389.8,483.5H403.0M409.8,455.4H423.0M409.8,482.6H423.0M431.1,454.1H444.3M431.1,482.9H444.3M454.0,452.7H467.2M454.0,483.3H467.2M478.6,451.2H491.8M478.6,483.7H491.8M504.9,449.6H518.1M504.9,484.1H518.1M533.1,447.9H546.3M533.1,484.6H546.3M563.4,446.1H576.6M563.4,485.0H576.6M595.9,444.1H609.1M595.9,485.6H609.1M630.7,442.0H643.9M630.7,486.1H643.9M668.0,438.9H681.2M668.0,485.9H681.2M708.0,437.4H721.2M708.0,485.8H721.2M750.9,435.1H764.1M750.9,486.1H764.1M797.0,431.5H810.2M797.0,485.5H810.2M846.3,430.2H859.5M846.3,485.8H859.5" stroke="#000000" stroke-width="3.2" fill="none"/>
<polyline points="121.5,499.6 121.6,499.6 121.6,499.6 121.7,499.5 121.8,499.5 121.8,499.4 121.9,499.4 122.0,499.3 122.1,499.3 122.2,499.2 122.3,499.2 122.4,499.1 122.5,499.0 122.6,498.9 122.7,498.8 122.9,498.7 123.0,498.6 123.2,498.5 123.4,498.4 123.6,498.3 123.8,498.2 124.0,498.0 124.2,497.9 124.4,497.7 124.7,497.5 125.0,497.3 125.3,497.1 125.6,496.9 126.0,496.7 126.3,496.4 126.7,496.2 127.2,495.9 127.6,495.6 128.1,495.3 128.7,494.9 129.2,494.5 129.8,494.1 130.5,493.7 131.2,493.2 131.9,492.7 132.7,492.2 133.6,491.7 134.5,491.2 135.5,490.7 136.6,490.2 137.7,489.6 138.9,489.0 140.2,488.4 141.7,487.7 143.2,487.0 144.8,486.9 146.5,486.7 148.4,486.6 150.4,486.4 152.5,486.3 154.8,486.1 157.2,485.9 159.9,485.7 162.7,485.5 165.7,485.2 169.0,485.0 172.4,484.7 176.2,484.4 180.2,484.1 184.5,483.7 189.1,483.5 194.0,483.3 199.3,483.0 205.0,482.7 211.1,482.4 217.6,482.1 224.6,481.8 232.1,481.2 240.1,480.3 248.7,479.4 258.0,478.5 267.9,477.7 278.5,476.8 289.9,475.9 302.1,474.8 315.3,473.7 329.3,472.6 344.4,471.5 360.5,471.3 377.9,471.0 396.4,470.1 416.4,469.0 437.7,468.5 460.6,468.0 485.2,467.5 511.5,466.9 539.7,466.2 570.0,465.6 602.5,464.8 637.3,464.0 674.6,462.4 714.6,461.6 757.5,460.6 803.6,458.5 852.9,458.0" stroke="#000000" stroke-width="2.2" fill="none"/>
<use href="#ast" x="121.5" y="499.6" fill="#000000" stroke="#000000"/>
<use href="#ast" x="121.6" y="499.6" fill="#000000" stroke="#000000"/>
<use href="#ast" x="121.6" y="499.6" fill="#000000" stroke="#000000"/>
<use href="#ast" x="121.7" y="499.5" fill="#000000" stroke="#000000"/>
<use href="#ast" x="121.8" y="499.5" fill="#000000" stroke="#000000"/>
<use href="#ast" x="121.8" y="499.4" fill="#000000" stroke="#000000"/>
<use href="#ast" x="121.9" y="499.4" fill="#000000" stroke="#000000"/>
<use href="#ast" x="122.0" y="499.3" fill="#000000" stroke="#000000"/>
<use href="#ast" x="122.1" y="499.3" fill="#000000" stroke="#000000"/>
<use href="#ast" x="122.2" y="499.2" fill="#000000" stroke="#000000"/>
<use href="#ast" x="122.3" y="499.2" fill="#000000" stroke="#000000"/>
<use href="#ast" x="122.4" y="499.1" fill="#000000" stroke="#000000"/>
<use href="#ast" x="122.5" y="499.0" fill="#000000" stroke="#000000"/>
<use href="#ast" x="122.6" y="498.9" fill="#000000" stroke="#000000"/>
<use href="#ast" x="122.7" y="498.8" fill="#000000" stroke="#000000"/>
<use href="#ast" x="122.9" y="498.7" fill="#000000" stroke="#000000"/>
<use href="#ast" x="123.0" y="498.6" fill="#000000" stroke="#000000"/>
<use href="#ast" x="123.2" y="498.5" fill="#000000" stroke="#000000"/>
<use href="#ast" x="123.4" y="498.4" fill="#000000" stroke="#000000"/>
<use href="#ast" x="123.6" y="498.3" fill="#000000" stroke="#000000"/>
<use href="#ast" x="123.8" y="498.2" fill="#000000" stroke="#000000"/>
<use href="#ast" x="124.0" y="498.0" fill="#000000" stroke="#000000"/>
<use href="#ast" x="124.2" y="497.9" fill="#000000" stroke="#000000"/>
<use href="#ast" x="124.4" y="497.7" fill="#000000" stroke="#000000"/>
<use href="#ast" x="124.7" y="497.5" fill="#000000" stroke="#000000"/>
<use href="#ast" x="125.0" y="497.3" fill="#000000" stroke="#000000"/>
<use href="#ast" x="125.3" y="497.1" fill="#000000" stroke="#000000"/>
<use href="#ast" x="125.6" y="496.9" fill="#000000" stroke="#000000"/>
<use href="#ast" x="126.0" y="496.7" fill="#000000" stroke="#000000"/>
<use href="#ast" x="126.3" y="496.4" fill="#000000" stroke="#000000"/>
<use href="#ast" x="126.7" y="496.2" fill="#000000" stroke="#000000"/>
<use href="#ast" x="127.2" y="495.9" fill="#000000" stroke="#000000"/>
<use href="#ast" x="127.6" y="495.6" fill="#000000" stroke="#000000"/>
<use href="#ast" x="128.1" y="495.3" fill="#000000" stroke="#000000"/>
<use href="#ast" x="128.7" y="494.9" fill="#000000" stroke="#000000"/>
<use href="#ast" x="129.2" y="494.5" fill="#000000" stroke="#000000"/>
<use href="#ast" x="129.8" y="494.1" fill="#000000" stroke="#000000"/>
<use href="#ast" x="130.5" y="493.7" fill="#000000" stroke="#000000"/>
<use href="#ast" x="131.2" y="493.2" fill="#000000" stroke="#000000"/>
<use href="#ast" x="131.9" y="492.7" fill="#000000" stroke="#000000"/>
<use href="#ast" x="132.7" y="492.2" fill="#000000" stroke="#000000"/>
<use href="#ast" x="133.6" y="491.7" fill="#000000" stroke="#000000"/>
<use href="#ast" x="134.5" y="491.2" fill="#000000" stroke="#000000"/>
<use href="#ast" x="135.5" y="490.7" fill="#000000" stroke="#000000"/>
<use href="#ast" x="136.6" y="490.2" fill="#000000" stroke="#000000"/>
<use href="#ast" x="137.7" y="489.6" fill="#000000" stroke="#000000"/>
<use href="#ast" x="138.9" y="489.0" fill="#000000" stroke="#000000"/>
<use href="#ast" x="140.2" y="488.4" fill="#000000" stroke="#000000"/>
<use href="#ast" x="141.7" y="487.7" fill="#000000" stroke="#000000"/>
<use href="#ast" x="143.2" y="487.0" fill="#000000" stroke="#000000"/>
<use href="#ast" x="144.8" y="486.9" fill="#000000" stroke="#000000"/>
<use href="#ast" x="146.5" y="486.7" fill="#000000" stroke="#000000"/>
<use href="#ast" x="148.4" y="486.6" fill="#000000" stroke="#000000"/>
<use href="#ast" x="150.4" y="486.4" fill="#000000" stroke="#000000"/>
<use href="#ast" x="152.5" y="486.3" fill="#000000" stroke="#000000"/>
<use href="#ast" x="154.8" y="486.1" fill="#000000" stroke="#000000"/>
<use href="#ast" x="157.2" y="485.9" fill="#000000" stroke="#000000"/>
<use href="#ast" x="159.9" y="485.7" fill="#000000" stroke="#000000"/>
<use href="#ast" x="162.7" y="485.5" fill="#000000" stroke="#000000"/>
<use href="#ast" x="165.7" y="485.2" fill="#000000" stroke="#000000"/>
<use href="#ast" x="169.0" y="485.0" fill="#000000" stroke="#000000"/>
<use href="#ast" x="172.4" y="484.7" fill="#000000" stroke="#000000"/>
<use href="#ast" x="176.2" y="484.4" fill="#000000" stroke="#000000"/>
<use href="#ast" x="180.2" y="484.1" fill="#000000" stroke="#000000"/>
<use href="#ast" x="184.5" y="483.7" fill="#000000" stroke="#000000"/>
<use href="#ast" x="189.1" y="483.5" fill="#000000" stroke="#000000"/>
<use href="#ast" x="194.0" y="483.3" fill="#000000" stroke="#000000"/>
<use href="#ast" x="199.3" y="483.0" fill="#000000" stroke="#000000"/>
<use href="#ast" x="205.0" y="482.7" fill="#000000" stroke="#000000"/>
<use href="#ast" x="211.1" y="482.4" fill="#000000" stroke="#000000"/>
<use href="#ast" x="217.6" y="482.1" fill="#000000" stroke="#000000"/>
<use href="#ast" x="224.6" y="481.8" fill="#000000" stroke="#000000"/>
<use href="#ast" x="232.1" y="481.2" fill="#000000" stroke="#000000"/>
<use href="#ast" x="240.1" y="480.3" fill="#000000" stroke="#000000"/>
<use href="#ast" x="248.7" y="479.4" fill="#000000" stroke="#000000"/>
<use href="#ast" x="258.0" y="478.5" fill="#000000" stroke="#000000"/>
<use href="#ast" x="267.9" y="477.7" fill="#000000" stroke="#000000"/>
<use href="#ast" x="278.5" y="476.8" fill="#000000" stroke="#000000"/>
<use href="#ast" x="289.9" y="475.9" fill="#000000" stroke="#000000"/>
<use href="#ast" x="302.1" y="474.8" fill="#000000" stroke="#000000"/>
<use href="#ast" x="315.3" y="473.7" fill="#000000" stroke="#000000"/>
<use href="#ast" x="329.3" y="472.6" fill="#000000" stroke="#000000"/>
<use href="#ast" x="344.4" y="471.5" fill="#000000" stroke="#000000"/>
<use href="#ast" x="360.5" y="471.3" fill="#000000" stroke="#000000"/>
<use href="#ast" x="377.9" y="471.0" fill="#000000" stroke="#000000"/>
<use href="#ast" x="396.4" y="470.1" fill="#000000" stroke="#000000"/>
<use href="#ast" x="416.4" y="469.0" fill="#000000" stroke="#000000"/>
<use href="#ast" x="437.7" y="468.5" fill="#000000" stroke="#000000"/>
<use href="#ast" x="460.6" y="468.0" fill="#000000" stroke="#000000"/>
<use href="#ast" x="485.2" y="467.5" fill="#000000" stroke="#000000"/>
<use href="#ast" x="511.5" y="466.9" fill="#000000" stroke="#000000"/>
<use href="#ast" x="539.7" y="466.2" fill="#000000" stroke="#000000"/>
<use href="#ast" x="570.0" y="465.6" fill="#000000" stroke="#000000"/>
<use href="#ast" x="602.5" y="464.8" fill="#000000" stroke="#000000"/>
<use href="#ast" x="637.3" y="464.0" fill="#000000" stroke="#000000"/>
<use href="#ast" x="674.6" y="462.4" fill="#000000" stroke="#000000"/>
<use href="#ast" x="714.6" y="461.6" fill="#000000" stroke="#000000"/>
<use href="#ast" x="757.5" y="460.6" fill="#000000" stroke="#000000"/>
<use href="#ast" x="803.6" y="458.5" fill="#000000" stroke="#000000"/>
<use href="#ast" x="852.9" y="458.0" fill="#000000" stroke="#000000"/>
<path d="" stroke="#5F5F5F" stroke-width="4.0" fill="none"/>
<path d="" stroke="#5F5F5F" stroke-width="3.2" fill="none"/>
<polyline points="121.5,583.5 121.6,583.5 121.6,583.5 121.7,583.5 121.8,583.5 121.8,583.5 121.9,583.5 122.0,583.5 122.1,583.5 122.2,583.5 122.3,583.5 122.4,583.5 122.5,583.5 122.6,583.5 122.7,583.5 122.9,583.5 123.0,583.5 123.2,583.5 123.4,583.5 123.6,583.5 123.8,583.5 124.0,583.5 124.2,583.5 124.4,583.5 124.7,583.5 125.0,583.5 125.3,583.5 125.6,583.5 126.0,583.5 126.3,583.5 126.7,583.5 127.2,583.5 127.6,583.5 128.1,583.5 128.7,583.5 129.2,583.5 129.8,583.5 130.5,583.5 131.2,583.5 131.9,583.5 132.7,583.5 133.6,583.5 134.5,583.5 135.5,583.5 136.6,583.5 137.7,583.5 138.9,583.5 140.2,583.5 141.7,583.5 143.2,583.5 144.8,583.5 146.5,583.5 148.4,583.5 150.4,583.5 152.5,583.5 154.8,583.5 157.2,583.5 159.9,583.5 162.7,583.5 165.7,583.5 169.0,583.5 172.4,583.5 176.2,583.4 180.2,583.4 184.5,583.4 189.1,583.4 194.0,583.4 199.3,583.4 205.0,583.4 211.1,583.4 217.6,583.4 224.6,583.4 232.1,583.4 240.1,583.4 248.7,583.4 258.0,583.4 267.9,583.4 278.5,583.3 289.9,583.3 302.1,583.3 315.3,583.3 329.3,583.3 344.4,583.3 360.5,583.3 377.9,583.3 396.4,583.2 416.4,583.2 437.7,583.2 460.6,583.2 485.2,583.2 511.5,583.1 539.7,583.1 570.0,583.1 602.5,583.0 637.3,583.0 674.6,583.0 714.6,582.9 757.5,582.9 803.6,582.8 852.9,582.8" stroke="#5F5F5F" stroke-width="2.2" fill="none"/>
<use href="#plus" x="121.5" y="583.5" fill="#5F5F5F" stroke="#5F5F5F"/>
<use href="#plus" x="121.6" y="583.5" fill="#5F5F5F" stroke="#5F5F5F"/>
<use href="#plus" x="121.6" y="583.5" fill="#5F5F5F" stroke="#5F5F5F"/>
<use href="#plus" x="121.7" y="583.5" fill="#5F5F5F" stroke="#5F5F5F"/>
<use href="#plus" x="121.8" y="583.5" fill="#5F5F5F" stroke="#5F5F5F"/>
<use href="#plus" x="121.8" y="583.5" fill="#5F5F5F" stroke="#5F5F5F"/>
<use href="#plus" x="121.9" y="583.5" fill="#5F5F5F" stroke="#5F5F5F"/>
<use href="#plus" x="122.0" y="583.5" fill="#5F5F5F" stroke="#5F5F5F"/>
<use href="#plus" x="122.1" y="583.5" fill="#5F5F5F" stroke="#5F5F5F"/>
<use href="#plus" x="122.2" y="583.5" fill="#5F5F5F" stroke="#5F5F5F"/>
<use href="#plus" x="122.3" y="583.5" fill="#5F5F5F" stroke="#5F5F5F"/>
<use href="#plus" x="122.4" y="583.5" fill="#5F5F5F" stroke="#5F5F5F"/>
<use href="#plus" x="122.5" y="583.5" fill="#5F5F5F" stroke="#5F5F5F"/>
<use href="#plus" x="122.6" y="583.5" fill="#5F5F5F" stroke="#5F5F5F"/>
<use href="#plus" x="122.7" y="583.5" fill="#5F5F5F" stroke="#5F5F5F"/>
<use href="#plus" x="122.9" y="583.5" fill="#5F5F5F" stroke="#5F5F5F"/>
<use href="#plus" x="123.0" y="583.5" fill="#5F5F5F" stroke="#5F5F5F"/>
<use href="#plus" x="123.2" y="583.5" fill="#5F5F5F" stroke="#5F5F5F"/>
<use href="#plus" x="123.4" y="583.5" fill="#5F5F5F" stroke="#5F5F5F"/>
<use href="#plus" x="123.6" y="583.5" fill="#5F5F5F" stroke="#5F5F5F"/>
<use href="#plus" x="123.8" y="583.5" fill="#5F5F5F" stroke="#5F5F5F"/>
<use href="#plus" x="124.0" y="583.5" fill="#5F5F5F" stroke="#5F5F5F"/>
<use href="#plus" x="124.2" y="583.5" fill="#5F5F5F" stroke="#5F5F5F"/>
<use href="#plus" x="124.4" y="583.5" fill="#5F5F5F" stroke="#5F5F5F"/>
<use href="#plus" x="124.7" y="583.5" fill="#5F5F5F" stroke="#5F5F5F"/>
<use href="#plus" x="125.0" y="583.5" fill="#5F5F5F" stroke="#5F5F5F"/>
<use href="#plus" x="125.3" y="583.5" fill="#5F5F5F" stroke="#5F5F5F"/>
<use href="#plus" x="125.6" y="583.5" fill="#5F5F5F" stroke="#5F5F5F"/>
<use href="#plus" x="126.0" y="583.5" fill="#5F5F5F" stroke="#5F5F5F"/>
<use href="#plus" x="126.3" y="583.5" fill="#5F5F5F" stroke="#5F5F5F"/>
<use href="#plus" x="126.7" y="583.5" fill="#5F5F5F" stroke="#5F5F5F"/>
<use href="#plus" x="127.2" y="583.5" fill="#5F5F5F" stroke="#5F5F5F"/>
<use href="#plus" x="127.6" y="583.5" fill="#5F5F5F" stroke="#5F5F5F"/>
<use href="#plus" x="128.1" y="583.5" fill="#5F5F5F" stroke="#5F5F5F"/>
<use href="#plus" x="128.7" y="583.5" fill="#5F5F5F" stroke="#5F5F5F"/>
<use href="#plus" x="129.2" y="583.5" fill="#5F5F5F" stroke="#5F5F5F"/>
<use href="#plus" x="129.8" y="583.5" fill="#5F5F5F" stroke="#5F5F5F"/>
<use href="#plus" x="130.5" y="583.5" fill="#5F5F5F" stroke="#5F5F5F"/>
<use href="#plus" x="131.2" y="583.5" fill="#5F5F5F" stroke="#5F5F5F"/>
<use href="#plus" x="131.9" y="583.5" fill="#5F5F5F" stroke="#5F5F5F"/>
<use href="#plus" x="132.7" y="583.5" fill="#5F5F5F" stroke="#5F5F5F"/>
<use href="#plus" x="133.6" y="583.5" fill="#5F5F5F" stroke="#5F5F5F"/>
<use href="#plus" x="134.5" y="583.5" fill="#5F5F5F" stroke="#5F5F5F"/>
<use href="#plus" x="135.5" y="583.5" fill="#5F5F5F" stroke="#5F5F5F"/>
<use href="#plus" x="136.6" y="583.5" fill="#5F5F5F" stroke="#5F5F5F"/>
<use href="#plus" x="137.7" y="583.5" fill="#5F5F5F" stroke="#5F5F5F"/>
<use href="#plus" x="138.9" y="583.5" fill="#5F5F5F" stroke="#5F5F5F"/>
<use href="#plus" x="140.2" y="583.5" fill="#5F5F5F" stroke="#5F5F5F"/>
<use href="#plus" x="141.7" y="583.5" fill="#5F5F5F" stroke="#5F5F5F"/>
<use href="#plus" x="143.2" y="583.5" fill="#5F5F5F" stroke="#5F5F5F"/>
<use href="#plus" x="144.8" y="583.5" fill="#5F5F5F" stroke="#5F5F5F"/>
<use href="#plus" x="146.5" y="583.5" fill="#5F5F5F" stroke="#5F5F5F"/>
<use href="#plus" x="148.4" y="583.5" fill="#5F5F5F" stroke="#5F5F5F"/>
<use href="#plus" x="150.4" y="583.5" fill="#5F5F5F" stroke="#5F5F5F"/>
<use href="#plus" x="152.5" y="583.5" fill="#5F5F5F" stroke="#5F5F5F"/>
<use href="#plus" x="154.8" y="583.5" fill="#5F5F5F" stroke="#5F5F5F"/>
<use href="#plus" x="157.2" y="583.5" fill="#5F5F5F" stroke="#5F5F5F"/>
<use href="#plus" x="159.9" y="583.5" fill="#5F5F5F" stroke="#5F5F5F"/>
<use href="#plus" x="162.7" y="583.5" fill="#5F5F5F" stroke="#5F5F5F"/>
<use href="#plus" x="165.7" y="583.5" fill="#5F5F5F" stroke="#5F5F5F"/>
<use href="#plus" x="169.0" y="583.5" fill="#5F5F5F" stroke="#5F5F5F"/>
<use href="#plus" x="172.4" y="583.5" fill="#5F5F5F" stroke="#5F5F5F"/>
<use href="#plus" x="176.2" y="583.4" fill="#5F5F5F" stroke="#5F5F5F"/>
<use href="#plus" x="180.2" y="583.4" fill="#5F5F5F" stroke="#5F5F5F"/>
<use href="#plus" x="184.5" y="583.4" fill="#5F5F5F" stroke="#5F5F5F"/>
<use href="#plus" x="189.1" y="583.4" fill="#5F5F5F" stroke="#5F5F5F"/>
<use href="#plus" x="194.0" y="583.4" fill="#5F5F5F" stroke="#5F5F5F"/>
<use href="#plus" x="199.3" y="583.4" fill="#5F5F5F" stroke="#5F5F5F"/>
<use href="#plus" x="205.0" y="583.4" fill="#5F5F5F" stroke="#5F5F5F"/>
<use href="#plus" x="211.1" y="583.4" fill="#5F5F5F" stroke="#5F5F5F"/>
<use href="#plus" x="217.6" y="583.4" fill="#5F5F5F" stroke="#5F5F5F"/>
<use href="#plus" x="224.6" y="583.4" fill="#5F5F5F" stroke="#5F5F5F"/>
<use href="#plus" x="232.1" y="583.4" fill="#5F5F5F" stroke="#5F5F5F"/>
<use href="#plus" x="240.1" y="583.4" fill="#5F5F5F" stroke="#5F5F5F"/>
<use href="#plus" x="248.7" y="583.4" fill="#5F5F5F" stroke="#5F5F5F"/>
<use href="#plus" x="258.0" y="583.4" fill="#5F5F5F" stroke="#5F5F5F"/>
<use href="#plus" x="267.9" y="583.4" fill="#5F5F5F" stroke="#5F5F5F"/>
<use href="#plus" x="278.5" y="583.3" fill="#5F5F5F" stroke="#5F5F5F"/>
<use href="#plus" x="289.9" y="583.3" fill="#5F5F5F" stroke="#5F5F5F"/>
<use href="#plus" x="302.1" y="583.3" fill="#5F5F5F" stroke="#5F5F5F"/>
<use href="#plus" x="315.3" y="583.3" fill="#5F5F5F" stroke="#5F5F5F"/>
<use href="#plus" x="329.3" y="583.3" fill="#5F5F5F" stroke="#5F5F5F"/>
<use href="#plus" x="344.4" y="583.3" fill="#5F5F5F" stroke="#5F5F5F"/>
<use href="#plus" x="360.5" y="583.3" fill="#5F5F5F" stroke="#5F5F5F"/>
<use href="#plus" x="377.9" y="583.3" fill="#5F5F5F" stroke="#5F5F5F"/>
<use href="#plus" x="396.4" y="583.2" fill="#5F5F5F" stroke="#5F5F5F"/>
<use href="#plus" x="416.4" y="583.2" fill="#5F5F5F" stroke="#5F5F5F"/>
<use href="#plus" x="437.7" y="583.2" fill="#5F5F5F" stroke="#5F5F5F"/>
<use href="#plus" x="460.6" y="583.2" fill="#5F5F5F" stroke="#5F5F5F"/>
<use href="#plus" x="485.2" y="583.2" fill="#5F5F5F" stroke="#5F5F5F"/>
<use href="#plus" x="511.5" y="583.1" fill="#5F5F5F" stroke="#5F5F5F"/>
<use href="#plus" x="539.7" y="583.1" fill="#5F5F5F" stroke="#5F5F5F"/>
<use href="#plus" x="570.0" y="583.1" fill="#5F5F5F" stroke="#5F5F5F"/>
<use href="#plus" x="602.5" y="583.0" fill="#5F5F5F" stroke="#5F5F5F"/>
<use href="#plus" x="637.3" y="583.0" fill="#5F5F5F" stroke="#5F5F5F"/>
<use href="#plus" x="674.6" y="583.0" fill="#5F5F5F" stroke="#5F5F5F"/>
<use href="#plus" x="714.6" y="582.9" fill="#5F5F5F" stroke="#5F5F5F"/>
<use href="#plus" x="757.5" y="582.9" fill="#5F5F5F" stroke="#5F5F5F"/>
<use href="#plus" x="803.6" y="582.8" fill="#5F5F5F" stroke="#5F5F5F"/>
<use href="#plus" x="852.9" y="582.8" fill="#5F5F5F" stroke="#5F5F5F"/>
</g>
<text x="51.15" y="63.20" font-size="23.3" textLength="67.18" lengthAdjust="spacingAndGlyphs">10000</text>
<text x="64.81" y="171.40" font-size="23.3" textLength="53.40" lengthAdjust="spacingAndGlyphs">8000</text>
<text x="64.78" y="278.40" font-size="23.3" textLength="53.64" lengthAdjust="spacingAndGlyphs">6000</text>
<text x="65.34" y="386.90" font-size="23.3" textLength="52.87" lengthAdjust="spacingAndGlyphs">4000</text>
<text x="64.57" y="495.00" font-size="23.3" textLength="53.65" lengthAdjust="spacingAndGlyphs">2000</text>
<text x="104.26" y="602.90" font-size="23.3" textLength="13.68" lengthAdjust="spacingAndGlyphs">0</text>
<text x="113.61" y="620.00" font-size="23.3" textLength="14.27" lengthAdjust="spacingAndGlyphs">0</text>
<text x="288.84" y="620.00" font-size="23.3" textLength="27.57" lengthAdjust="spacingAndGlyphs">25</text>
<text x="471.91" y="620.00" font-size="23.3" textLength="27.12" lengthAdjust="spacingAndGlyphs">50</text>
<text x="655.79" y="620.00" font-size="23.3" textLength="28.25" lengthAdjust="spacingAndGlyphs">75</text>
<text x="832.26" y="620.00" font-size="23.3" textLength="40.06" lengthAdjust="spacingAndGlyphs">100</text>
<text x="347.26" y="655.70" font-size="22.9" textLength="279.04" lengthAdjust="spacingAndGlyphs">Angular frequency(Rad/s)</text>
<text transform="translate(36.40,408.24) rotate(-90)" x="0" y="0" font-size="23.6" textLength="148.98" lengthAdjust="spacingAndGlyphs">Modulus (pa)</text>
<path d="M52.1,689.5H79.8" stroke="#8C7D37" stroke-width="2.9"/>
<use href="#astL" x="66.0" y="689.5" fill="#8C7D37" stroke="#8C7D37"/>
<text x="95.65" y="696.60" font-size="23.6" textLength="91.98" lengthAdjust="spacingAndGlyphs">Day1-G'</text>
<path d="M223.5,690.0H250.7" stroke="#00FF00" stroke-width="2.9"/>
<use href="#astL" x="237.1" y="690.0" fill="#00FF00" stroke="#00FF00"/>
<text x="266.15" y="697.90" font-size="23.6" textLength="92.39" lengthAdjust="spacingAndGlyphs">Day3-G'</text>
<path d="M392.0,690.0H419.0" stroke="#FF0000" stroke-width="2.9"/>
<use href="#astL" x="405.5" y="690.0" fill="#FF0000" stroke="#FF0000"/>
<text x="435.55" y="697.90" font-size="23.6" textLength="92.39" lengthAdjust="spacingAndGlyphs">Day7-G'</text>
<path d="M566.8,692.5H595.4" stroke="#0000FF" stroke-width="2.9"/>
<use href="#astL" x="581.1" y="692.5" fill="#0000FF" stroke="#0000FF"/>
<text x="610.65" y="699.60" font-size="23.6" textLength="105.08" lengthAdjust="spacingAndGlyphs">Day10-G'</text>
<path d="M748.3,688.7H777.0" stroke="#000000" stroke-width="2.9"/>
<use href="#astL" x="762.6" y="688.7" fill="#000000" stroke="#000000"/>
<text x="793.25" y="696.80" font-size="23.6" textLength="105.08" lengthAdjust="spacingAndGlyphs">Day12-G'</text>
<path d="M49.7,728.0H77.2" stroke="#C1C000" stroke-width="2.9"/>
<use href="#plusL" x="63.5" y="728.0" fill="#C1C000" stroke="#C1C000"/>
<text x="93.45" y="735.30" font-size="23.6" textLength="98.67" lengthAdjust="spacingAndGlyphs">Day1-G''</text>
<path d="M224.6,729.0H250.7" stroke="#0A8040" stroke-width="2.9"/>
<use href="#plusL" x="237.6" y="729.0" fill="#0E9558" stroke="#0E9558"/>
<text x="267.35" y="737.80" font-size="23.6" textLength="98.97" lengthAdjust="spacingAndGlyphs">Day3-G''</text>
<path d="M392.0,728.0H419.0" stroke="#FF5010" stroke-width="2.9"/>
<use href="#plusL" x="405.5" y="728.0" fill="#FF0000" stroke="#FF0000"/>
<text x="435.55" y="735.10" font-size="23.6" textLength="99.59" lengthAdjust="spacingAndGlyphs">Day7-G''</text>
<path d="M567.5,726.2H595.4" stroke="#56A2FF" stroke-width="2.9"/>
<use href="#plusL" x="581.5" y="726.2" fill="#56A2FF" stroke="#56A2FF"/>
<text x="611.95" y="733.60" font-size="23.6" textLength="111.57" lengthAdjust="spacingAndGlyphs">Day10-G''</text>
<path d="M746.4,724.3H775.0" stroke="#5F5F5F" stroke-width="2.9"/>
<use href="#plusL" x="760.7" y="724.3" fill="#5F5F5F" stroke="#5F5F5F"/>
<text x="791.36" y="732.10" font-size="23.6" textLength="110.86" lengthAdjust="spacingAndGlyphs">Day12-G''</text>
<text x="14.55" y="801.70" font-size="25.2" textLength="21.96" lengthAdjust="spacingAndGlyphs">B</text>
<path d="M138.3,837V1373.4" stroke="#000" stroke-width="5"/>
<path d="M126.4,1371.1H993" stroke="#000" stroke-width="4.7"/>
<path d="M126.4,1370.5H138" stroke="#000" stroke-width="4.7"/>
<path d="M126.4,1264.3H138" stroke="#000" stroke-width="4.7"/>
<path d="M126.4,1158.1H138" stroke="#000" stroke-width="4.7"/>
<path d="M126.4,1051.9H138" stroke="#000" stroke-width="4.7"/>
<path d="M126.4,945.7H138" stroke="#000" stroke-width="4.7"/>
<path d="M126.4,839.5H138" stroke="#000" stroke-width="4.7"/>
<path d="M179.3,1371V1383" stroke="#000" stroke-width="4.7"/>
<path d="M264.6,1371V1383" stroke="#000" stroke-width="4.7"/>
<path d="M350.0,1371V1383" stroke="#000" stroke-width="4.7"/>
<path d="M435.3,1371V1383" stroke="#000" stroke-width="4.7"/>
<path d="M520.6,1371V1383" stroke="#000" stroke-width="4.7"/>
<path d="M606.0,1371V1383" stroke="#000" stroke-width="4.7"/>
<path d="M691.3,1371V1383" stroke="#000" stroke-width="4.7"/>
<path d="M776.6,1371V1383" stroke="#000" stroke-width="4.7"/>
<path d="M861.9,1371V1383" stroke="#000" stroke-width="4.7"/>
<path d="M947.3,1371V1383" stroke="#000" stroke-width="4.7"/>
<text x="107.24" y="1380.30" font-size="28.6" textLength="16.52" lengthAdjust="spacingAndGlyphs">0</text>
<text x="57.10" y="1274.10" font-size="28.6" textLength="66.67" lengthAdjust="spacingAndGlyphs">2000</text>
<text x="58.05" y="1167.90" font-size="28.6" textLength="65.70" lengthAdjust="spacingAndGlyphs">4000</text>
<text x="57.37" y="1061.70" font-size="28.6" textLength="66.40" lengthAdjust="spacingAndGlyphs">6000</text>
<text x="57.40" y="955.50" font-size="28.6" textLength="66.37" lengthAdjust="spacingAndGlyphs">8000</text>
<text x="39.60" y="849.30" font-size="28.6" textLength="84.18" lengthAdjust="spacingAndGlyphs">10000</text>
<text x="153.95" y="1408.40" font-size="29.6" textLength="48.98" lengthAdjust="spacingAndGlyphs">D-1</text>
<text x="238.45" y="1408.40" font-size="29.6" textLength="48.98" lengthAdjust="spacingAndGlyphs">D-1</text>
<text x="326.05" y="1408.40" font-size="29.6" textLength="48.41" lengthAdjust="spacingAndGlyphs">D-3</text>
<text x="409.43" y="1408.40" font-size="29.6" textLength="50.07" lengthAdjust="spacingAndGlyphs">D-3</text>
<text x="494.44" y="1408.40" font-size="29.6" textLength="49.74" lengthAdjust="spacingAndGlyphs">D-7</text>
<text x="581.04" y="1408.40" font-size="29.6" textLength="49.85" lengthAdjust="spacingAndGlyphs">D-7</text>
<text x="657.03" y="1408.40" font-size="29.6" textLength="66.91" lengthAdjust="spacingAndGlyphs">D-10</text>
<text x="741.53" y="1408.40" font-size="29.6" textLength="67.02" lengthAdjust="spacingAndGlyphs">D-10</text>
<text x="827.14" y="1408.40" font-size="29.6" textLength="66.05" lengthAdjust="spacingAndGlyphs">D-12</text>
<text x="912.63" y="1408.40" font-size="29.6" textLength="66.77" lengthAdjust="spacingAndGlyphs">D-12</text>
<text x="457.25" y="1467.60" font-size="27.9" textLength="211.15" lengthAdjust="spacingAndGlyphs">Incubation time</text>
<text transform="translate(22.90,1191.16) rotate(-90)" x="0" y="0" font-size="30.4" textLength="187.59" lengthAdjust="spacingAndGlyphs">Modulus (pa)</text>
<path d="M179.3,963.1V1092.9M162.7,963.1H195.9M162.7,1092.9H195.9M148.6,1028.0H210.0" stroke="#008000" stroke-width="6.2" fill="none"/>
<rect x="171.8" y="1020.5" width="15" height="15" fill="#008000"/>
<path d="M264.6,1267.4V1310.6M248.0,1267.4H281.2M248.0,1310.6H281.2M233.9,1289.0H295.3" stroke="#FF0000" stroke-width="6.2" fill="none"/>
<circle cx="264.6" cy="1289.0" r="7.8" fill="#FF0000"/>
<path d="M350.0,1181.2V1184.8M333.4,1181.2H366.6M333.4,1184.8H366.6M319.3,1183.0H380.7" stroke="#008000" stroke-width="6.2" fill="none"/>
<rect x="342.5" y="1175.5" width="15" height="15" fill="#008000"/>
<path d="M435.3,1352.9V1354.5M418.7,1352.9H451.9M418.7,1354.5H451.9M404.6,1353.7H466.0" stroke="#FF0000" stroke-width="6.2" fill="none"/>
<path d="M520.6,1224.5V1228.5M504.0,1224.5H537.2M504.0,1228.5H537.2M489.9,1226.5H551.3" stroke="#008000" stroke-width="6.2" fill="none"/>
<rect x="513.1" y="1219.0" width="15" height="15" fill="#008000"/>
<path d="M606.0,1358.9V1361.9M589.4,1358.9H622.6M589.4,1361.9H622.6M575.2,1360.4H636.7" stroke="#FF0000" stroke-width="6.2" fill="none"/>
<path d="M691.3,1189.7V1193.3M674.7,1189.7H707.9M674.7,1193.3H707.9M660.6,1191.5H722.0" stroke="#008000" stroke-width="6.2" fill="none"/>
<rect x="683.8" y="1184.0" width="15" height="15" fill="#008000"/>
<path d="M776.6,1353.9V1356.9M760.0,1353.9H793.2M760.0,1356.9H793.2M745.9,1355.4H807.3" stroke="#FF0000" stroke-width="6.2" fill="none"/>
<path d="M861.9,1149.7V1153.3M845.3,1149.7H878.5M845.3,1153.3H878.5M831.2,1151.5H892.6" stroke="#008000" stroke-width="6.2" fill="none"/>
<rect x="854.4" y="1144.0" width="15" height="15" fill="#008000"/>
<path d="M947.3,1352.0V1356.0M930.7,1352.0H963.9M930.7,1356.0H963.9M916.6,1354.0H978.0" stroke="#FF0000" stroke-width="6.2" fill="none"/>
<text x="624.85" y="906.70" font-size="27.7" textLength="81.25" lengthAdjust="spacingAndGlyphs">D-day</text>
<rect x="623" y="945.2" width="14.6" height="14.8" fill="#008000"/>
<text x="667.02" y="961.30" font-size="29.8" textLength="268.57" lengthAdjust="spacingAndGlyphs">Storage modulus G'</text>
<circle cx="631.7" cy="1004" r="8.6" fill="#FF0000"/>
<text x="668.66" y="1012.90" font-size="29.8" textLength="256.73" lengthAdjust="spacingAndGlyphs">Loss modulus (G'')</text>
</svg>
</body></html>
